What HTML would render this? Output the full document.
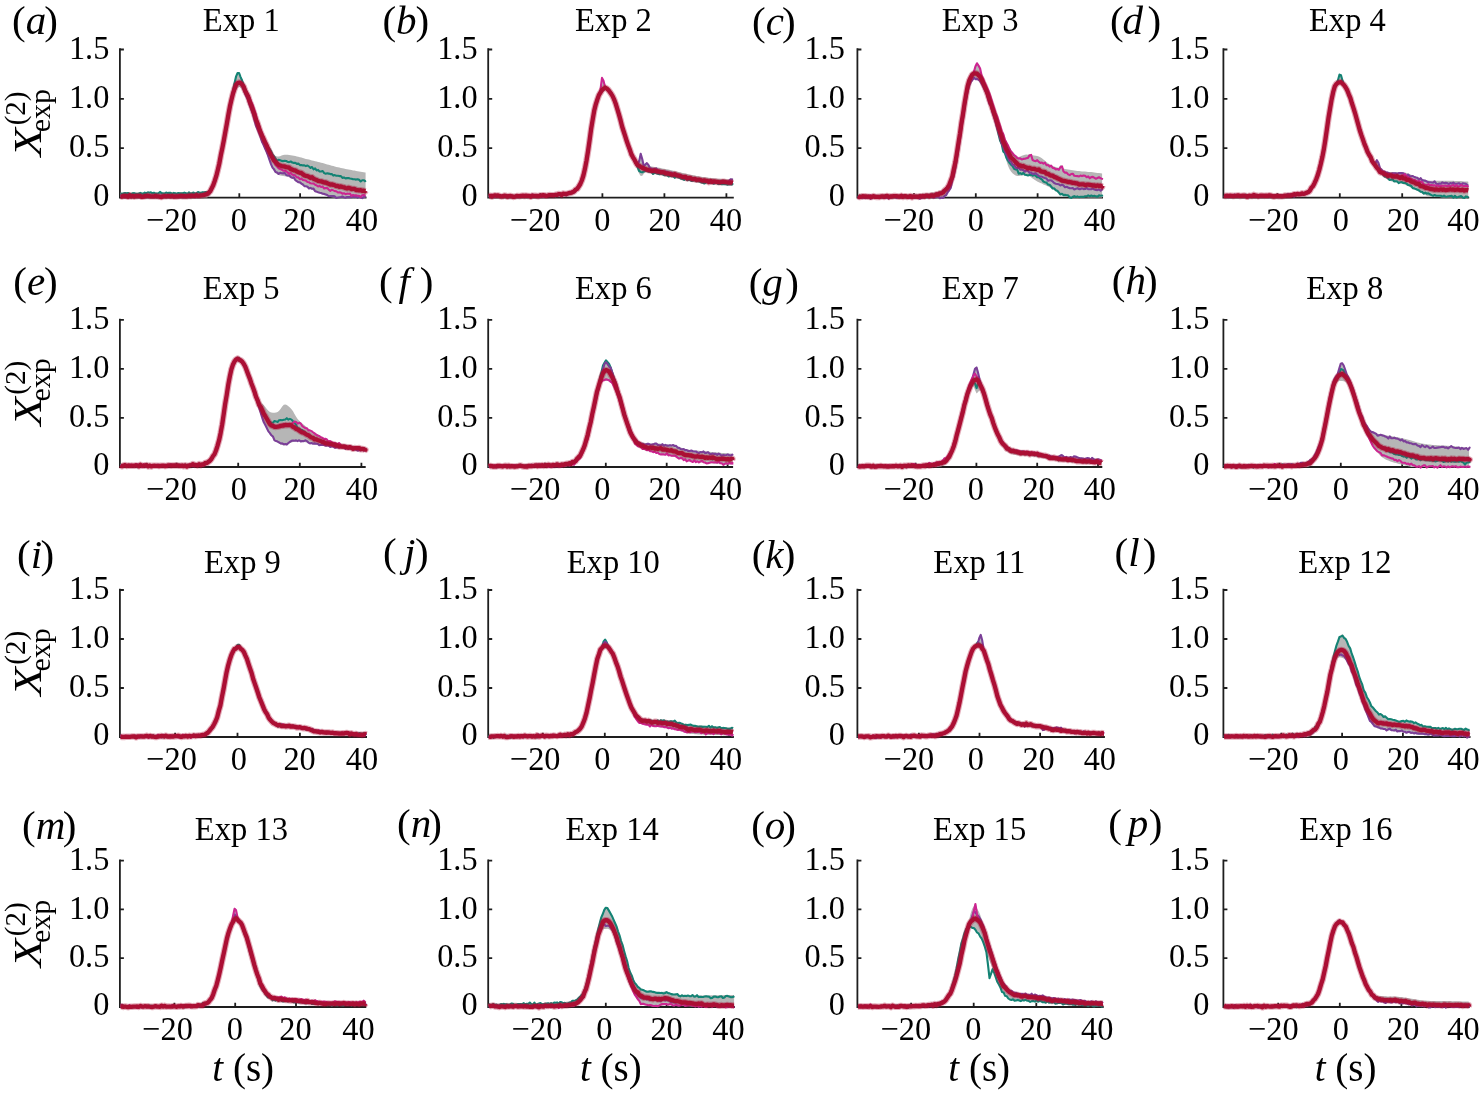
<!DOCTYPE html>
<html><head><meta charset="utf-8"><style>
html,body{margin:0;padding:0;background:#fff;}
svg{display:block;will-change:transform;}
text{font-family:"Liberation Serif", serif; fill:#000;}
.tk{font-size:32px;}
.pl{font-size:41px;}
</style></head><body>
<svg width="1481" height="1093" viewBox="0 0 1481 1093">
<rect width="1481" height="1093" fill="#fff"/>
<path d="M119.9 48.3V197.6H366.5" fill="none" stroke="#1e1e1e" stroke-width="1.8"/>
<path d="M119.9 148.2h4M119.9 98.9h4M119.9 49.5h4M178.5 197.6v-4.3M239.3 197.6v-4.3M300.1 197.6v-4.3M360.9 197.6v-4.3" stroke="#1e1e1e" stroke-width="1.8"/>
<path d="M120.5 192.8L122.0 192.8L123.5 192.8L125.1 192.8L126.6 192.8L128.1 192.8L129.6 192.8L131.1 192.7L132.7 192.7L134.2 192.7L135.7 192.7L137.2 192.7L138.7 192.7L140.3 192.7L141.8 192.7L143.3 192.7L144.8 192.7L146.3 192.7L147.9 192.6L149.4 192.6L150.9 192.6L152.4 192.6L153.9 192.6L155.5 192.6L157.0 192.6L158.5 192.6L160.0 192.6L161.5 192.6L163.1 192.6L164.6 192.6L166.1 192.6L167.6 192.6L169.1 192.6L170.7 192.6L172.2 192.6L173.7 192.6L175.2 192.6L176.7 192.6L178.3 192.6L179.8 192.6L181.3 192.6L182.8 192.5L184.3 192.5L185.9 192.5L187.4 192.5L188.9 192.4L190.4 192.4L191.9 192.3L193.5 192.2L195.0 192.1L196.5 192.1L198.0 192.0L199.5 191.9L201.1 191.7L202.6 191.6L204.1 191.4L205.6 191.3L207.1 191.1L208.7 190.5L210.2 189.2L211.7 186.7L213.2 183.2L214.7 178.8L216.3 173.5L217.8 167.2L219.3 160.0L220.8 152.1L222.3 143.7L223.9 135.0L225.4 126.2L226.9 117.4L228.4 108.4L229.9 99.8L231.5 92.1L233.0 85.8L234.5 81.1L236.0 76.1L237.5 72.5L239.1 72.4L240.6 75.4L242.1 79.3L243.6 82.8L245.1 86.4L246.7 89.8L248.2 93.6L249.7 96.8L251.2 100.1L252.7 104.5L254.3 109.3L255.8 114.3L257.3 119.0L258.8 123.2L260.3 127.1L261.9 130.9L263.4 134.6L264.9 138.1L266.4 141.4L267.9 144.7L269.5 147.6L271.0 150.3L272.5 152.7L274.0 154.7L275.5 156.0L277.1 156.6L278.6 156.6L280.1 156.2L281.6 155.6L283.1 155.1L284.7 154.8L286.2 154.8L287.7 154.8L289.2 155.0L290.7 155.2L292.3 155.4L293.8 155.7L295.3 156.1L296.8 156.4L298.3 156.8L299.9 157.2L301.4 157.6L302.9 158.0L304.4 158.4L305.9 158.9L307.5 159.3L309.0 159.6L310.5 160.0L312.0 160.4L313.5 160.8L315.1 161.2L316.6 161.5L318.1 161.9L319.6 162.3L321.1 162.7L322.7 163.1L324.2 163.5L325.7 164.0L327.2 164.4L328.7 164.8L330.3 165.3L331.8 165.7L333.3 166.1L334.8 166.5L336.3 166.9L337.9 167.2L339.4 167.6L340.9 168.0L342.4 168.3L343.9 168.6L345.5 168.9L347.0 169.2L348.5 169.5L350.0 169.8L351.5 170.1L353.1 170.4L354.6 170.6L356.1 170.9L357.6 171.2L359.1 171.5L360.7 171.8L362.2 172.0L363.7 172.3L365.2 172.5L365.6 172.6L365.6 197.6L365.2 197.6L363.7 197.6L362.2 197.6L360.7 197.6L359.1 197.6L357.6 197.6L356.1 197.6L354.6 197.6L353.1 197.6L351.5 197.6L350.0 197.6L348.5 197.6L347.0 197.6L345.5 197.6L343.9 197.6L342.4 197.6L340.9 197.6L339.4 197.6L337.9 197.6L336.3 197.6L334.8 197.6L333.3 197.6L331.8 197.3L330.3 196.9L328.7 196.4L327.2 196.0L325.7 195.5L324.2 195.0L322.7 194.3L321.1 193.7L319.6 193.1L318.1 192.5L316.6 191.8L315.1 191.1L313.5 190.4L312.0 189.7L310.5 189.1L309.0 188.4L307.5 187.6L305.9 186.9L304.4 186.2L302.9 185.4L301.4 184.6L299.9 183.8L298.3 182.9L296.8 181.9L295.3 180.8L293.8 179.6L292.3 178.5L290.7 177.6L289.2 177.2L287.7 176.8L286.2 176.5L284.7 176.2L283.1 176.0L281.6 175.8L280.1 175.6L278.6 175.1L277.1 174.3L275.5 172.9L274.0 170.9L272.5 168.4L271.0 165.2L269.5 161.2L267.9 157.1L266.4 153.2L264.9 149.5L263.4 145.8L261.9 141.9L260.3 137.9L258.8 133.8L257.3 129.7L255.8 125.3L254.3 120.7L252.7 116.1L251.2 111.7L249.7 107.3L248.2 103.1L246.7 99.2L245.1 95.6L243.6 92.3L242.1 89.5L240.6 87.6L239.1 87.1L237.5 88.0L236.0 90.2L234.5 93.6L233.0 98.1L231.5 103.9L229.9 111.2L228.4 119.3L226.9 127.7L225.4 136.0L223.9 144.1L222.3 152.2L220.8 160.0L219.3 167.3L217.8 174.0L216.3 179.9L214.7 184.9L213.2 189.0L211.7 192.4L210.2 194.9L208.7 196.6L207.1 197.6L205.6 197.6L204.1 197.6L202.6 197.6L201.1 197.6L199.5 197.6L198.0 197.6L196.5 197.6L195.0 197.6L193.5 197.6L191.9 197.6L190.4 197.6L188.9 197.6L187.4 197.6L185.9 197.6L184.3 197.6L182.8 197.6L181.3 197.6L179.8 197.6L178.3 197.6L176.7 197.6L175.2 197.6L173.7 197.6L172.2 197.6L170.7 197.6L169.1 197.6L167.6 197.6L166.1 197.6L164.6 197.6L163.1 197.6L161.5 197.6L160.0 197.6L158.5 197.6L157.0 197.6L155.5 197.6L153.9 197.6L152.4 197.6L150.9 197.6L149.4 197.6L147.9 197.6L146.3 197.6L144.8 197.6L143.3 197.6L141.8 197.6L140.3 197.6L138.7 197.6L137.2 197.6L135.7 197.6L134.2 197.6L132.7 197.6L131.1 197.6L129.6 197.6L128.1 197.6L126.6 197.6L125.1 197.6L123.5 197.6L122.0 197.6L120.5 197.6Z" fill="#b6b6b6"/>
<path d="M120.5 193.6L122.0 193.8L123.5 193.4L125.1 193.1L126.6 193.3L128.1 193.0L129.6 193.6L131.1 194.3L132.7 193.2L134.2 193.1L135.7 193.8L137.2 193.7L138.7 193.5L140.3 192.9L141.8 193.4L143.3 193.9L144.8 192.6L146.3 193.2L147.9 192.3L149.4 192.7L150.9 192.3L152.4 193.3L153.9 192.7L155.5 193.6L157.0 193.5L158.5 193.3L160.0 191.9L161.5 193.1L163.1 193.4L164.6 193.5L166.1 192.5L167.6 193.1L169.1 192.8L170.7 192.9L172.2 194.0L173.7 192.9L175.2 193.3L176.7 193.9L178.3 193.0L179.8 193.3L181.3 193.4L182.8 193.4L184.3 192.6L185.9 193.3L187.4 194.1L188.9 192.3L190.4 193.7L191.9 193.2L193.5 192.6L195.0 194.1L196.5 193.3L198.0 192.0L199.5 192.7L201.1 192.9L202.6 192.2L204.1 192.6L205.6 192.1L207.1 192.3L208.7 192.2L210.2 189.5L211.7 187.7L213.2 184.0L214.7 180.3L216.3 174.6L217.8 169.2L219.3 162.8L220.8 156.1L222.3 148.5L223.9 138.9L225.4 131.1L226.9 123.6L228.4 113.7L229.9 106.4L231.5 98.5L233.0 91.1L234.5 83.3L236.0 76.7L237.5 73.1L239.1 73.0L240.6 77.1L242.1 80.5L243.6 84.9L245.1 88.7L246.7 92.0L248.2 95.9L249.7 99.5L251.2 104.4L252.7 108.6L254.3 113.9L255.8 118.0L257.3 121.9L258.8 126.5L260.3 129.9L261.9 134.5L263.4 137.5L264.9 141.3L266.4 143.3L267.9 147.2L269.5 148.7L271.0 151.1L272.5 154.5L274.0 156.3L275.5 158.6L277.1 161.0L278.6 159.8L280.1 160.2L281.6 160.9L283.1 161.1L284.7 160.8L286.2 161.0L287.7 161.9L289.2 162.1L290.7 161.5L292.3 162.5L293.8 162.9L295.3 162.7L296.8 163.9L298.3 163.6L299.9 165.1L301.4 165.0L302.9 165.4L304.4 165.4L305.9 166.1L307.5 165.5L309.0 166.5L310.5 167.9L312.0 167.0L313.5 169.3L315.1 168.3L316.6 170.4L318.1 169.9L319.6 171.4L321.1 171.5L322.7 171.0L324.2 173.1L325.7 173.7L327.2 173.3L328.7 173.6L330.3 174.1L331.8 174.0L333.3 175.6L334.8 175.1L336.3 175.7L337.9 175.7L339.4 176.1L340.9 176.1L342.4 177.9L343.9 177.4L345.5 178.4L347.0 178.1L348.5 178.0L350.0 178.5L351.5 178.7L353.1 179.3L354.6 179.3L356.1 179.6L357.6 179.2L359.1 179.8L360.7 181.5L362.2 180.3L363.7 180.2L365.2 181.2L365.6 181.9" fill="none" stroke="#138374" stroke-width="2.1" stroke-linejoin="round"/>
<path d="M120.5 195.4L122.0 196.2L123.5 195.9L125.1 195.3L126.6 196.8L128.1 196.3L129.6 196.4L131.1 195.9L132.7 196.6L134.2 196.0L135.7 196.2L137.2 195.7L138.7 195.6L140.3 197.1L141.8 196.0L143.3 196.5L144.8 196.3L146.3 196.1L147.9 196.0L149.4 196.7L150.9 196.1L152.4 196.2L153.9 196.3L155.5 197.0L157.0 196.7L158.5 196.5L160.0 196.0L161.5 195.5L163.1 196.9L164.6 196.9L166.1 196.2L167.6 196.6L169.1 196.8L170.7 196.8L172.2 196.9L173.7 196.0L175.2 197.2L176.7 195.6L178.3 196.8L179.8 196.6L181.3 196.8L182.8 197.4L184.3 197.2L185.9 195.6L187.4 195.2L188.9 196.6L190.4 195.5L191.9 196.0L193.5 196.5L195.0 194.9L196.5 194.5L198.0 195.9L199.5 195.7L201.1 195.3L202.6 195.3L204.1 194.6L205.6 193.8L207.1 194.0L208.7 192.4L210.2 190.2L211.7 188.9L213.2 185.1L214.7 181.2L216.3 175.3L217.8 169.6L219.3 162.7L220.8 155.3L222.3 148.1L223.9 139.4L225.4 131.8L226.9 123.5L228.4 116.1L229.9 105.8L231.5 99.9L233.0 93.4L234.5 88.9L236.0 84.6L237.5 82.9L239.1 83.0L240.6 83.5L242.1 86.0L243.6 89.1L245.1 93.8L246.7 97.2L248.2 100.1L249.7 105.4L251.2 109.3L252.7 113.3L254.3 119.6L255.8 125.3L257.3 128.9L258.8 132.3L260.3 136.4L261.9 141.5L263.4 144.5L264.9 148.0L266.4 151.3L267.9 155.1L269.5 160.0L271.0 164.2L272.5 167.6L274.0 169.2L275.5 172.0L277.1 172.4L278.6 173.9L280.1 172.7L281.6 173.3L283.1 173.4L284.7 172.8L286.2 175.0L287.7 175.5L289.2 175.3L290.7 177.0L292.3 177.9L293.8 177.3L295.3 180.1L296.8 181.1L298.3 182.2L299.9 182.3L301.4 183.6L302.9 184.5L304.4 186.1L305.9 186.3L307.5 186.8L309.0 188.5L310.5 187.9L312.0 188.7L313.5 188.5L315.1 191.3L316.6 191.6L318.1 192.2L319.6 192.7L321.1 193.0L322.7 193.7L324.2 193.9L325.7 194.4L327.2 195.0L328.7 196.3L330.3 196.1L331.8 196.1L333.3 196.1L334.8 196.4L336.3 198.0L337.9 197.5L339.4 197.2L340.9 197.0L342.4 196.5L343.9 197.2L345.5 197.7L347.0 197.0L348.5 197.1L350.0 197.1L351.5 197.3L353.1 196.2L354.6 197.1L356.1 196.7L357.6 197.7L359.1 196.7L360.7 197.6L362.2 198.1L363.7 197.0L365.2 196.8L365.6 197.3" fill="none" stroke="#7b3f98" stroke-width="2.1" stroke-linejoin="round"/>
<path d="M120.5 196.3L122.0 195.7L123.5 196.6L125.1 197.5L126.6 196.2L128.1 196.2L129.6 195.7L131.1 196.5L132.7 195.6L134.2 195.7L135.7 197.1L137.2 195.8L138.7 197.0L140.3 197.2L141.8 196.5L143.3 196.6L144.8 197.5L146.3 196.2L147.9 196.0L149.4 195.5L150.9 196.3L152.4 197.2L153.9 196.9L155.5 195.8L157.0 195.8L158.5 196.0L160.0 196.5L161.5 196.2L163.1 196.4L164.6 196.5L166.1 196.1L167.6 196.3L169.1 196.4L170.7 196.3L172.2 196.6L173.7 197.4L175.2 196.7L176.7 196.4L178.3 195.3L179.8 196.5L181.3 195.1L182.8 195.4L184.3 196.8L185.9 196.7L187.4 196.1L188.9 195.1L190.4 195.9L191.9 195.6L193.5 196.4L195.0 197.3L196.5 195.9L198.0 195.3L199.5 194.9L201.1 195.5L202.6 195.2L204.1 194.4L205.6 194.8L207.1 193.4L208.7 193.6L210.2 191.9L211.7 189.3L213.2 184.9L214.7 181.3L216.3 175.9L217.8 169.8L219.3 163.1L220.8 155.1L222.3 147.1L223.9 140.3L225.4 131.5L226.9 123.4L228.4 115.5L229.9 105.6L231.5 98.9L233.0 93.5L234.5 89.1L236.0 85.2L237.5 83.7L239.1 82.3L240.6 81.9L242.1 83.9L243.6 87.6L245.1 90.6L246.7 92.1L248.2 96.1L249.7 98.0L251.2 101.7L252.7 105.1L254.3 109.9L255.8 114.4L257.3 121.5L258.8 124.5L260.3 130.0L261.9 132.9L263.4 137.5L264.9 140.4L266.4 145.1L267.9 149.7L269.5 152.0L271.0 157.0L272.5 159.8L274.0 161.9L275.5 164.7L277.1 166.6L278.6 168.2L280.1 169.0L281.6 169.6L283.1 170.6L284.7 170.8L286.2 171.3L287.7 172.6L289.2 173.9L290.7 173.1L292.3 174.7L293.8 175.1L295.3 175.6L296.8 177.4L298.3 177.3L299.9 179.2L301.4 178.5L302.9 179.9L304.4 180.2L305.9 180.6L307.5 182.0L309.0 182.2L310.5 183.3L312.0 183.5L313.5 183.5L315.1 184.7L316.6 185.4L318.1 186.5L319.6 185.9L321.1 187.0L322.7 186.6L324.2 188.5L325.7 188.0L327.2 188.1L328.7 189.6L330.3 190.8L331.8 189.7L333.3 190.4L334.8 191.1L336.3 191.2L337.9 192.5L339.4 192.2L340.9 192.6L342.4 193.7L343.9 193.2L345.5 194.2L347.0 193.6L348.5 193.7L350.0 193.6L351.5 196.0L353.1 194.9L354.6 195.4L356.1 195.4L357.6 195.7L359.1 195.8L360.7 197.0L362.2 195.3L363.7 195.0L365.2 195.4L365.6 195.2" fill="none" stroke="#cc2590" stroke-width="2.1" stroke-linejoin="round"/>
<defs><path id="ra" d="M120.5 196.6L122.0 196.6L123.5 196.0L125.1 195.8L126.6 196.2L128.1 196.8L129.6 195.3L131.1 196.5L132.7 195.9L134.2 196.7L135.7 195.9L137.2 196.2L138.7 195.8L140.3 196.0L141.8 196.8L143.3 196.6L144.8 196.2L146.3 196.0L147.9 195.7L149.4 196.2L150.9 196.3L152.4 196.3L153.9 196.3L155.5 195.9L157.0 196.3L158.5 196.3L160.0 196.8L161.5 197.0L163.1 196.3L164.6 196.0L166.1 196.3L167.6 196.1L169.1 196.1L170.7 196.3L172.2 196.0L173.7 196.5L175.2 196.3L176.7 196.4L178.3 196.3L179.8 196.1L181.3 196.0L182.8 196.2L184.3 196.1L185.9 196.3L187.4 196.2L188.9 195.7L190.4 196.1L191.9 195.6L193.5 195.8L195.0 195.8L196.5 195.1L198.0 195.8L199.5 195.7L201.1 195.4L202.6 195.2L204.1 194.9L205.6 194.4L207.1 194.0L208.7 192.8L210.2 191.3L211.7 188.2L213.2 185.3L214.7 181.0L216.3 175.9L217.8 169.9L219.3 163.5L220.8 155.3L222.3 148.2L223.9 140.0L225.4 131.7L226.9 123.4L228.4 114.6L229.9 106.6L231.5 99.6L233.0 93.6L234.5 88.9L236.0 84.9L237.5 83.3L239.1 82.6L240.6 83.0L242.1 84.5L243.6 86.6L245.1 90.7L246.7 93.7L248.2 96.6L249.7 101.7L251.2 105.3L252.7 109.6L254.3 114.2L255.8 119.1L257.3 122.8L258.8 127.2L260.3 131.7L261.9 135.4L263.4 138.5L264.9 141.9L266.4 144.9L267.9 148.4L269.5 152.0L271.0 155.0L272.5 157.6L274.0 160.4L275.5 161.8L277.1 163.6L278.6 164.9L280.1 165.5L281.6 166.1L283.1 166.3L284.7 166.5L286.2 167.2L287.7 167.3L289.2 167.7L290.7 169.1L292.3 169.6L293.8 170.4L295.3 170.4L296.8 171.6L298.3 172.2L299.9 172.8L301.4 173.0L302.9 174.3L304.4 175.4L305.9 175.8L307.5 176.1L309.0 176.9L310.5 177.8L312.0 177.2L313.5 178.7L315.1 179.4L316.6 180.0L318.1 180.9L319.6 181.2L321.1 181.4L322.7 181.9L324.2 182.5L325.7 182.5L327.2 183.2L328.7 183.9L330.3 184.7L331.8 184.4L333.3 184.8L334.8 185.3L336.3 186.1L337.9 186.0L339.4 186.9L340.9 186.4L342.4 187.0L343.9 187.3L345.5 188.0L347.0 188.4L348.5 187.8L350.0 188.3L351.5 189.0L353.1 188.9L354.6 188.9L356.1 190.0L357.6 190.1L359.1 190.3L360.7 190.2L362.2 190.9L363.7 190.7L365.2 191.3L365.6 190.6"/></defs>
<use href="#ra" fill="none" stroke="#ab0f34" stroke-opacity="0.35" stroke-width="6.5" stroke-linejoin="round"/>
<use href="#ra" fill="none" stroke="#ab0f34" stroke-width="4.3" stroke-linejoin="round"/>
<text transform="matrix(0.965 0 0 1 109.3 205.5)" font-size="33.5" text-anchor="end">0</text>
<text transform="matrix(0.965 0 0 1 109.3 157.3)" font-size="33.5" text-anchor="end">0.5</text>
<text transform="matrix(0.965 0 0 1 109.3 108)" font-size="33.5" text-anchor="end">1.0</text>
<text transform="matrix(0.965 0 0 1 109.3 58.6)" font-size="33.5" text-anchor="end">1.5</text>
<text transform="matrix(0.965 0 0 1 171.6 231)" font-size="33.5" text-anchor="middle">−20</text>
<text transform="matrix(0.965 0 0 1 238.7 231)" font-size="33.5" text-anchor="middle">0</text>
<text transform="matrix(0.965 0 0 1 299.6 231)" font-size="33.5" text-anchor="middle">20</text>
<text transform="matrix(0.965 0 0 1 362 231)" font-size="33.5" text-anchor="middle">40</text>
<text transform="matrix(0.95 0 0 1 241.3 30.7)" font-size="34.3" text-anchor="middle">Exp 1</text>
<text x="12" y="34.2" class="pl">(<tspan font-style="italic">a</tspan><tspan dx="-1.9">)</tspan></text>
<path d="M488.2 48.3V197.6H733.8" fill="none" stroke="#1e1e1e" stroke-width="1.8"/>
<path d="M488.2 148.2h4M488.2 98.9h4M488.2 49.5h4M540.4 197.6v-4.3M602.4 197.6v-4.3M664.4 197.6v-4.3M726.4 197.6v-4.3" stroke="#1e1e1e" stroke-width="1.8"/>
<path d="M488.8 194.6L490.4 194.6L491.9 194.6L493.5 194.6L495.0 194.6L496.6 194.6L498.1 194.6L499.7 194.6L501.2 194.6L502.8 194.6L504.3 194.6L505.9 194.5L507.4 194.5L509.0 194.5L510.5 194.5L512.1 194.5L513.6 194.5L515.2 194.5L516.7 194.5L518.3 194.5L519.8 194.5L521.4 194.5L522.9 194.4L524.5 194.4L526.0 194.4L527.6 194.4L529.1 194.4L530.7 194.4L532.2 194.4L533.8 194.4L535.3 194.3L536.9 194.3L538.4 194.3L540.0 194.3L541.5 194.3L543.1 194.2L544.6 194.1L546.2 194.1L547.7 194.0L549.3 193.9L550.8 193.8L552.4 193.6L553.9 193.5L555.5 193.4L557.0 193.3L558.6 193.2L560.1 193.1L561.7 192.9L563.2 192.7L564.8 192.5L566.3 192.3L567.9 192.0L569.4 191.7L571.0 191.2L572.5 190.6L574.1 189.7L575.6 188.6L577.2 187.2L578.7 185.2L580.3 182.5L581.8 178.7L583.4 173.6L584.9 167.1L586.5 159.1L588.0 149.3L589.6 138.2L591.1 127.1L592.7 117.3L594.2 109.1L595.8 102.6L597.3 97.7L598.9 93.9L600.4 88.3L602.0 78.3L603.5 80.2L605.1 85.8L606.6 86.9L608.2 88.0L609.7 89.7L611.3 91.8L612.8 94.7L614.4 98.4L615.9 102.8L617.5 107.6L619.0 112.8L620.6 118.3L622.1 124.0L623.7 129.6L625.2 134.8L626.8 139.7L628.3 144.2L629.9 148.3L631.4 152.0L633.0 155.2L634.5 158.1L636.1 160.3L637.6 161.8L639.2 160.9L640.7 152.2L642.3 158.4L643.8 164.5L645.4 163.6L646.9 162.7L648.5 164.1L650.0 166.1L651.6 166.4L653.1 166.7L654.7 167.0L656.2 167.3L657.8 167.6L659.3 167.8L660.9 168.1L662.4 168.4L664.0 168.7L665.5 169.0L667.1 169.3L668.6 169.6L670.2 170.0L671.7 170.3L673.3 170.7L674.8 171.1L676.4 171.4L677.9 171.8L679.5 172.2L681.0 172.5L682.6 172.9L684.1 173.3L685.7 173.6L687.2 174.0L688.8 174.3L690.3 174.7L691.9 175.0L693.4 175.3L695.0 175.6L696.5 175.9L698.1 176.1L699.6 176.4L701.2 176.7L702.7 176.9L704.3 177.1L705.8 177.3L707.4 177.5L708.9 177.7L710.5 177.9L712.0 178.1L713.6 178.2L715.1 178.4L716.7 178.5L718.2 178.7L719.8 178.8L721.3 178.9L722.9 179.0L724.4 179.1L726.0 179.2L727.5 179.4L729.1 179.5L730.6 178.5L732.2 178.4L732.9 178.5L732.9 185.2L732.2 185.2L730.6 185.1L729.1 185.1L727.5 185.0L726.0 185.0L724.4 184.9L722.9 184.9L721.3 184.8L719.8 184.8L718.2 184.7L716.7 184.6L715.1 184.5L713.6 184.4L712.0 184.3L710.5 184.2L708.9 184.0L707.4 183.9L705.8 183.7L704.3 183.6L702.7 183.4L701.2 183.2L699.6 182.9L698.1 182.7L696.5 182.5L695.0 182.2L693.4 181.9L691.9 181.7L690.3 181.4L688.8 181.0L687.2 180.7L685.7 180.4L684.1 180.0L682.6 179.7L681.0 179.3L679.5 179.0L677.9 178.6L676.4 178.3L674.8 177.9L673.3 177.6L671.7 177.2L670.2 176.9L668.6 176.5L667.1 176.2L665.5 175.9L664.0 175.6L662.4 175.3L660.9 175.0L659.3 174.7L657.8 174.5L656.2 174.2L654.7 173.9L653.1 173.6L651.6 173.3L650.0 173.0L648.5 172.7L646.9 172.3L645.4 172.0L643.8 173.7L642.3 175.8L640.7 175.9L639.2 173.8L637.6 170.5L636.1 166.5L634.5 162.5L633.0 159.2L631.4 155.9L629.9 152.2L628.3 148.0L626.8 143.5L625.2 138.6L623.7 133.4L622.1 127.8L620.6 122.1L619.0 116.6L617.5 111.3L615.9 106.5L614.4 102.0L612.8 98.3L611.3 95.5L609.7 93.3L608.2 91.6L606.6 90.5L605.1 90.1L603.5 90.6L602.0 92.1L600.4 94.4L598.9 97.4L597.3 101.1L595.8 106.1L594.2 112.6L592.7 120.7L591.1 130.5L589.6 141.6L588.0 152.7L586.5 162.4L584.9 170.5L583.4 177.0L581.8 182.1L580.3 185.8L578.7 188.5L577.2 190.5L575.6 191.9L574.1 193.0L572.5 193.8L571.0 194.4L569.4 194.9L567.9 195.2L566.3 195.5L564.8 195.7L563.2 195.9L561.7 196.1L560.1 196.2L558.6 196.3L557.0 196.5L555.5 196.6L553.9 196.7L552.4 196.8L550.8 196.9L549.3 197.0L547.7 197.1L546.2 197.2L544.6 197.2L543.1 197.3L541.5 197.3L540.0 197.4L538.4 197.4L536.9 197.4L535.3 197.4L533.8 197.4L532.2 197.4L530.7 197.4L529.1 197.4L527.6 197.4L526.0 197.4L524.5 197.5L522.9 197.5L521.4 197.5L519.8 197.5L518.3 197.5L516.7 197.5L515.2 197.5L513.6 197.5L512.1 197.5L510.5 197.5L509.0 197.5L507.4 197.5L505.9 197.5L504.3 197.5L502.8 197.5L501.2 197.5L499.7 197.6L498.1 197.6L496.6 197.6L495.0 197.6L493.5 197.6L491.9 197.6L490.4 197.6L488.8 197.6Z" fill="#b6b6b6"/>
<path d="M488.8 195.6L490.4 196.2L491.9 195.7L493.5 196.5L495.0 196.2L496.6 195.5L498.1 196.1L499.7 195.9L501.2 196.6L502.8 195.7L504.3 195.8L505.9 196.8L507.4 197.4L509.0 197.2L510.5 196.1L512.1 196.1L513.6 196.9L515.2 195.9L516.7 195.4L518.3 196.1L519.8 196.2L521.4 195.5L522.9 195.0L524.5 195.1L526.0 196.3L527.6 195.5L529.1 195.8L530.7 196.0L532.2 196.3L533.8 195.7L535.3 196.2L536.9 195.3L538.4 195.6L540.0 195.2L541.5 196.5L543.1 195.7L544.6 195.2L546.2 195.4L547.7 195.4L549.3 195.8L550.8 194.4L552.4 194.6L553.9 194.9L555.5 196.5L557.0 195.5L558.6 194.7L560.1 195.1L561.7 195.7L563.2 194.2L564.8 193.9L566.3 194.7L567.9 193.9L569.4 193.7L571.0 192.5L572.5 193.3L574.1 192.4L575.6 190.6L577.2 189.2L578.7 185.6L580.3 184.6L581.8 180.3L583.4 175.6L584.9 169.2L586.5 160.5L588.0 150.0L589.6 140.1L591.1 128.4L592.7 118.8L594.2 110.5L595.8 104.1L597.3 98.0L598.9 96.4L600.4 92.8L602.0 91.0L603.5 90.1L605.1 88.4L606.6 87.6L608.2 89.3L609.7 90.7L611.3 93.4L612.8 96.6L614.4 99.0L615.9 104.8L617.5 108.6L619.0 114.9L620.6 120.1L622.1 125.7L623.7 131.4L625.2 136.4L626.8 141.2L628.3 145.1L629.9 150.2L631.4 155.0L633.0 158.4L634.5 161.2L636.1 164.4L637.6 167.0L639.2 171.0L640.7 171.9L642.3 172.3L643.8 171.4L645.4 171.0L646.9 171.0L648.5 171.6L650.0 171.4L651.6 172.1L653.1 174.0L654.7 172.9L656.2 173.0L657.8 173.8L659.3 174.2L660.9 173.4L662.4 174.2L664.0 175.1L665.5 175.0L667.1 175.3L668.6 176.5L670.2 175.5L671.7 176.3L673.3 176.3L674.8 177.8L676.4 176.1L677.9 177.2L679.5 177.7L681.0 178.7L682.6 179.0L684.1 179.9L685.7 178.4L687.2 180.2L688.8 179.9L690.3 180.0L691.9 181.0L693.4 180.4L695.0 180.0L696.5 181.3L698.1 180.8L699.6 181.6L701.2 182.4L702.7 182.6L704.3 183.5L705.8 182.6L707.4 182.0L708.9 182.6L710.5 182.6L712.0 182.6L713.6 183.7L715.1 183.1L716.7 182.4L718.2 184.1L719.8 183.7L721.3 184.1L722.9 184.0L724.4 184.3L726.0 184.0L727.5 184.8L729.1 184.3L730.6 184.4L732.2 184.4L732.9 183.3" fill="none" stroke="#138374" stroke-width="2.1" stroke-linejoin="round"/>
<path d="M488.8 196.0L490.4 195.9L491.9 196.2L493.5 195.3L495.0 197.1L496.6 196.1L498.1 195.3L499.7 195.0L501.2 195.9L502.8 196.0L504.3 195.6L505.9 196.1L507.4 195.7L509.0 196.4L510.5 195.6L512.1 196.0L513.6 196.6L515.2 197.5L516.7 195.4L518.3 195.7L519.8 195.5L521.4 196.4L522.9 195.3L524.5 195.7L526.0 195.9L527.6 195.3L529.1 195.3L530.7 195.6L532.2 194.6L533.8 195.0L535.3 195.6L536.9 195.9L538.4 195.7L540.0 194.8L541.5 195.5L543.1 196.2L544.6 196.0L546.2 195.6L547.7 195.0L549.3 195.8L550.8 195.0L552.4 194.5L553.9 194.6L555.5 195.9L557.0 195.0L558.6 195.5L560.1 194.4L561.7 195.1L563.2 194.0L564.8 194.1L566.3 195.4L567.9 194.1L569.4 193.0L571.0 192.7L572.5 192.4L574.1 192.1L575.6 190.0L577.2 187.8L578.7 186.7L580.3 184.2L581.8 180.5L583.4 176.1L584.9 169.0L586.5 161.2L588.0 150.3L589.6 140.4L591.1 130.1L592.7 119.5L594.2 111.0L595.8 104.4L597.3 100.5L598.9 95.1L600.4 92.6L602.0 90.6L603.5 89.3L605.1 88.1L606.6 88.9L608.2 89.6L609.7 91.5L611.3 93.6L612.8 95.8L614.4 100.2L615.9 105.1L617.5 108.9L619.0 114.6L620.6 120.6L622.1 125.2L623.7 131.6L625.2 136.1L626.8 142.3L628.3 147.5L629.9 151.5L631.4 153.8L633.0 157.7L634.5 160.2L636.1 162.7L637.6 165.5L639.2 160.9L640.7 153.7L642.3 159.2L643.8 166.2L645.4 164.5L646.9 163.1L648.5 165.1L650.0 168.3L651.6 168.5L653.1 169.1L654.7 168.9L656.2 168.4L657.8 170.5L659.3 170.8L660.9 170.8L662.4 171.1L664.0 172.1L665.5 171.6L667.1 171.8L668.6 172.5L670.2 173.7L671.7 172.6L673.3 174.6L674.8 173.9L676.4 174.0L677.9 175.8L679.5 175.4L681.0 175.1L682.6 176.0L684.1 177.2L685.7 177.8L687.2 177.2L688.8 178.0L690.3 178.6L691.9 178.1L693.4 179.0L695.0 179.0L696.5 179.0L698.1 179.3L699.6 179.9L701.2 180.1L702.7 180.0L704.3 180.3L705.8 181.4L707.4 181.0L708.9 181.6L710.5 181.9L712.0 181.7L713.6 182.8L715.1 181.0L716.7 182.1L718.2 181.5L719.8 182.9L721.3 182.9L722.9 180.8L724.4 181.4L726.0 182.4L727.5 182.1L729.1 180.7L730.6 179.2L732.2 179.5L732.9 179.7" fill="none" stroke="#7b3f98" stroke-width="2.1" stroke-linejoin="round"/>
<path d="M488.8 196.0L490.4 196.7L491.9 194.7L493.5 196.5L495.0 195.5L496.6 196.6L498.1 195.9L499.7 195.5L501.2 196.3L502.8 195.5L504.3 195.5L505.9 195.1L507.4 196.0L509.0 196.3L510.5 196.6L512.1 195.9L513.6 196.6L515.2 196.0L516.7 195.9L518.3 196.3L519.8 196.6L521.4 195.8L522.9 195.8L524.5 195.8L526.0 196.0L527.6 195.4L529.1 196.5L530.7 195.7L532.2 196.2L533.8 195.4L535.3 196.1L536.9 196.1L538.4 195.6L540.0 197.0L541.5 196.0L543.1 196.8L544.6 196.3L546.2 195.2L547.7 195.3L549.3 195.7L550.8 195.3L552.4 195.2L553.9 194.9L555.5 193.9L557.0 194.7L558.6 193.4L560.1 194.9L561.7 194.1L563.2 193.9L564.8 194.0L566.3 194.1L567.9 192.8L569.4 192.2L571.0 192.2L572.5 191.0L574.1 190.8L575.6 191.2L577.2 188.2L578.7 187.2L580.3 183.3L581.8 180.6L583.4 175.1L584.9 168.7L586.5 161.1L588.0 152.0L589.6 140.0L591.1 128.9L592.7 118.4L594.2 111.2L595.8 104.2L597.3 99.9L598.9 95.6L600.4 90.1L602.0 77.9L603.5 80.8L605.1 87.1L606.6 87.9L608.2 89.3L609.7 91.3L611.3 92.8L612.8 96.6L614.4 101.7L615.9 105.3L617.5 108.8L619.0 114.2L620.6 120.0L622.1 126.5L623.7 131.0L625.2 136.3L626.8 142.1L628.3 146.6L629.9 150.0L631.4 153.3L633.0 156.3L634.5 159.7L636.1 161.3L637.6 165.1L639.2 165.7L640.7 167.3L642.3 168.9L643.8 169.1L645.4 168.2L646.9 169.8L648.5 170.4L650.0 169.6L651.6 169.8L653.1 170.6L654.7 170.0L656.2 172.1L657.8 170.1L659.3 171.1L660.9 171.9L662.4 172.2L664.0 172.7L665.5 173.1L667.1 173.1L668.6 174.2L670.2 172.6L671.7 174.2L673.3 174.2L674.8 175.0L676.4 175.4L677.9 175.1L679.5 175.6L681.0 176.8L682.6 176.9L684.1 176.7L685.7 178.6L687.2 179.1L688.8 177.2L690.3 178.6L691.9 180.2L693.4 179.4L695.0 179.4L696.5 179.4L698.1 179.4L699.6 179.9L701.2 179.9L702.7 180.9L704.3 180.4L705.8 180.5L707.4 180.2L708.9 181.0L710.5 180.7L712.0 181.2L713.6 182.1L715.1 181.8L716.7 181.9L718.2 181.9L719.8 181.8L721.3 181.8L722.9 181.7L724.4 182.4L726.0 181.4L727.5 182.9L729.1 182.1L730.6 181.7L732.2 181.9L732.9 181.8" fill="none" stroke="#cc2590" stroke-width="2.1" stroke-linejoin="round"/>
<defs><path id="rb" d="M488.8 196.1L490.4 195.8L491.9 196.5L493.5 195.8L495.0 195.3L496.6 195.8L498.1 195.4L499.7 196.1L501.2 196.4L502.8 196.3L504.3 195.6L505.9 195.8L507.4 196.7L509.0 196.1L510.5 196.0L512.1 196.4L513.6 196.9L515.2 196.5L516.7 196.0L518.3 196.1L519.8 196.2L521.4 195.8L522.9 195.6L524.5 196.0L526.0 195.6L527.6 195.9L529.1 195.9L530.7 196.7L532.2 195.6L533.8 195.8L535.3 195.8L536.9 196.0L538.4 196.2L540.0 195.6L541.5 195.5L543.1 195.2L544.6 195.4L546.2 195.8L547.7 195.5L549.3 195.1L550.8 195.2L552.4 195.2L553.9 195.3L555.5 194.8L557.0 194.8L558.6 194.1L560.1 194.2L561.7 195.1L563.2 193.6L564.8 194.0L566.3 194.0L567.9 193.5L569.4 193.0L571.0 192.8L572.5 192.2L574.1 191.3L575.6 189.6L577.2 188.8L578.7 186.6L580.3 184.0L581.8 180.5L583.4 175.5L584.9 169.1L586.5 160.6L588.0 151.3L589.6 140.3L591.1 129.2L592.7 119.5L594.2 110.8L595.8 104.3L597.3 99.7L598.9 95.1L600.4 92.7L602.0 90.1L603.5 88.7L605.1 87.7L606.6 88.4L608.2 89.8L609.7 91.8L611.3 94.0L612.8 96.5L614.4 100.1L615.9 104.3L617.5 109.6L619.0 114.6L620.6 120.4L622.1 126.5L623.7 131.5L625.2 136.2L626.8 141.3L628.3 145.6L629.9 149.8L631.4 154.4L633.0 157.3L634.5 159.6L636.1 162.9L637.6 165.1L639.2 165.9L640.7 166.8L642.3 167.7L643.8 168.5L645.4 169.1L646.9 169.7L648.5 170.1L650.0 170.4L651.6 170.8L653.1 170.9L654.7 170.4L656.2 171.2L657.8 171.6L659.3 171.6L660.9 172.4L662.4 172.2L664.0 172.3L665.5 173.4L667.1 173.5L668.6 173.6L670.2 174.2L671.7 174.6L673.3 174.7L674.8 174.1L676.4 175.1L677.9 175.5L679.5 175.7L681.0 176.4L682.6 177.1L684.1 176.9L685.7 177.0L687.2 178.5L688.8 177.9L690.3 178.0L691.9 178.8L693.4 179.1L695.0 179.0L696.5 179.8L698.1 179.6L699.6 179.7L701.2 180.3L702.7 180.7L704.3 180.4L705.8 180.9L707.4 180.9L708.9 182.1L710.5 181.0L712.0 181.8L713.6 181.4L715.1 181.5L716.7 181.9L718.2 182.0L719.8 182.3L721.3 182.0L722.9 181.7L724.4 181.8L726.0 182.2L727.5 182.3L729.1 182.6L730.6 182.3L732.2 182.6L732.9 182.8"/></defs>
<use href="#rb" fill="none" stroke="#ab0f34" stroke-opacity="0.35" stroke-width="6.5" stroke-linejoin="round"/>
<use href="#rb" fill="none" stroke="#ab0f34" stroke-width="4.3" stroke-linejoin="round"/>
<text transform="matrix(0.965 0 0 1 477.6 205.5)" font-size="33.5" text-anchor="end">0</text>
<text transform="matrix(0.965 0 0 1 477.6 157.3)" font-size="33.5" text-anchor="end">0.5</text>
<text transform="matrix(0.965 0 0 1 477.6 108)" font-size="33.5" text-anchor="end">1.0</text>
<text transform="matrix(0.965 0 0 1 477.6 58.6)" font-size="33.5" text-anchor="end">1.5</text>
<text transform="matrix(0.965 0 0 1 535.2 231)" font-size="33.5" text-anchor="middle">−20</text>
<text transform="matrix(0.965 0 0 1 602.3 231)" font-size="33.5" text-anchor="middle">0</text>
<text transform="matrix(0.965 0 0 1 664.6 231)" font-size="33.5" text-anchor="middle">20</text>
<text transform="matrix(0.965 0 0 1 726 231)" font-size="33.5" text-anchor="middle">40</text>
<text transform="matrix(0.95 0 0 1 613.4 30.7)" font-size="34.3" text-anchor="middle">Exp 2</text>
<text x="382.4" y="33.9" class="pl">(<tspan font-style="italic">b</tspan><tspan dx="-1">)</tspan></text>
<path d="M857.4 48.3V197.6H1103" fill="none" stroke="#1e1e1e" stroke-width="1.8"/>
<path d="M857.4 148.2h4M857.4 98.9h4M857.4 49.5h4M914 197.6v-4.3M975.8 197.6v-4.3M1037.6 197.6v-4.3M1099.4 197.6v-4.3" stroke="#1e1e1e" stroke-width="1.8"/>
<path d="M858.0 194.8L859.6 194.8L861.1 194.7L862.7 194.7L864.2 194.7L865.7 194.7L867.3 194.6L868.8 194.6L870.4 194.6L871.9 194.6L873.5 194.6L875.0 194.5L876.6 194.5L878.1 194.5L879.6 194.5L881.2 194.4L882.7 194.4L884.3 194.4L885.8 194.4L887.4 194.4L888.9 194.4L890.5 194.3L892.0 194.3L893.6 194.3L895.1 194.3L896.6 194.3L898.2 194.2L899.7 194.2L901.3 194.2L902.8 194.2L904.4 194.2L905.9 194.2L907.5 194.1L909.0 194.1L910.5 194.1L912.1 194.1L913.6 194.0L915.2 194.0L916.7 193.9L918.3 193.9L919.8 193.8L921.4 193.7L922.9 193.6L924.5 193.4L926.0 193.3L927.5 193.2L929.1 193.0L930.6 192.8L932.2 192.6L933.7 192.4L935.3 192.2L936.8 191.9L938.4 191.5L939.9 191.0L941.4 190.2L943.0 189.3L944.5 188.1L946.1 186.7L947.6 184.8L949.2 182.2L950.7 178.5L952.3 173.7L953.8 167.4L955.4 159.6L956.9 150.5L958.4 140.7L960.0 130.6L961.5 120.4L963.1 110.3L964.6 100.5L966.2 91.4L967.7 83.6L969.3 77.9L970.8 74.3L972.3 72.0L973.9 70.6L975.4 65.9L977.0 62.8L978.5 64.7L980.1 69.1L981.6 74.3L983.2 79.0L984.7 82.4L986.3 85.7L987.8 89.3L989.3 93.2L990.9 97.6L992.4 102.1L994.0 106.8L995.5 111.5L997.1 116.2L998.6 121.1L1000.2 125.8L1001.7 130.3L1003.2 134.5L1004.8 138.4L1006.3 141.9L1007.9 144.9L1009.4 147.6L1011.0 149.9L1012.5 152.0L1014.1 153.8L1015.6 155.2L1017.2 156.3L1018.7 157.0L1020.2 156.5L1021.8 155.8L1023.3 155.3L1024.9 154.8L1026.4 154.6L1028.0 154.7L1029.5 154.1L1031.1 154.9L1032.6 155.3L1034.1 155.5L1035.7 155.8L1037.2 156.1L1038.8 156.6L1040.3 157.3L1041.9 158.3L1043.4 159.4L1045.0 160.7L1046.5 161.9L1048.1 163.2L1049.6 164.3L1051.1 165.2L1052.7 166.0L1054.2 166.6L1055.8 167.1L1057.3 167.5L1058.9 167.8L1060.4 165.1L1062.0 166.0L1063.5 168.6L1065.0 168.9L1066.6 169.2L1068.1 169.5L1069.7 169.8L1071.2 170.1L1072.8 170.3L1074.3 170.5L1075.9 170.7L1077.4 170.9L1079.0 171.1L1080.5 171.2L1082.0 171.4L1083.6 171.5L1085.1 171.6L1086.7 171.8L1088.2 171.9L1089.8 172.0L1091.3 172.1L1092.9 172.3L1094.4 172.5L1095.9 172.7L1097.5 172.9L1099.0 173.1L1100.6 173.2L1102.1 173.4L1102.1 173.4L1102.1 197.6L1102.1 197.6L1100.6 197.6L1099.0 197.6L1097.5 197.6L1095.9 197.6L1094.4 197.6L1092.9 197.6L1091.3 197.6L1089.8 197.5L1088.2 197.4L1086.7 197.3L1085.1 197.3L1083.6 197.4L1082.0 197.4L1080.5 197.4L1079.0 197.4L1077.4 197.4L1075.9 197.4L1074.3 197.4L1072.8 197.3L1071.2 197.2L1069.7 197.1L1068.1 196.9L1066.6 196.7L1065.0 196.3L1063.5 195.8L1062.0 195.1L1060.4 194.3L1058.9 193.3L1057.3 192.3L1055.8 191.1L1054.2 189.9L1052.7 188.7L1051.1 188.0L1049.6 187.2L1048.1 186.5L1046.5 185.8L1045.0 185.1L1043.4 184.4L1041.9 183.6L1040.3 182.9L1038.8 182.3L1037.2 181.6L1035.7 180.6L1034.1 179.5L1032.6 178.4L1031.1 177.2L1029.5 176.3L1028.0 175.6L1026.4 175.2L1024.9 175.1L1023.3 175.2L1021.8 175.5L1020.2 175.8L1018.7 175.9L1017.2 175.9L1015.6 175.4L1014.1 174.6L1012.5 173.3L1011.0 171.5L1009.4 169.1L1007.9 165.4L1006.3 160.4L1004.8 154.7L1003.2 150.6L1001.7 146.1L1000.2 140.8L998.6 134.9L997.1 128.8L995.5 123.2L994.0 118.3L992.4 113.4L990.9 108.7L989.3 104.0L987.8 99.5L986.3 95.2L984.7 91.2L983.2 87.5L981.6 84.5L980.1 82.1L978.5 80.1L977.0 79.0L975.4 78.6L973.9 79.2L972.3 80.7L970.8 82.9L969.3 86.6L967.7 92.2L966.2 100.0L964.6 109.1L963.1 118.9L961.5 129.0L960.0 139.2L958.4 149.3L956.9 159.1L955.4 168.2L953.8 175.9L952.3 182.2L950.7 187.0L949.2 190.7L947.6 193.3L946.1 195.1L944.5 196.6L943.0 197.6L941.4 197.6L939.9 197.6L938.4 197.6L936.8 197.6L935.3 197.6L933.7 197.6L932.2 197.6L930.6 197.6L929.1 197.6L927.5 197.6L926.0 197.6L924.5 197.6L922.9 197.6L921.4 197.6L919.8 197.6L918.3 197.6L916.7 197.6L915.2 197.6L913.6 197.6L912.1 197.6L910.5 197.6L909.0 197.6L907.5 197.6L905.9 197.6L904.4 197.6L902.8 197.6L901.3 197.6L899.7 197.6L898.2 197.6L896.6 197.6L895.1 197.6L893.6 197.6L892.0 197.6L890.5 197.6L888.9 197.6L887.4 197.6L885.8 197.6L884.3 197.6L882.7 197.6L881.2 197.6L879.6 197.6L878.1 197.6L876.6 197.6L875.0 197.6L873.5 197.6L871.9 197.6L870.4 197.6L868.8 197.6L867.3 197.6L865.7 197.6L864.2 197.6L862.7 197.6L861.1 197.6L859.6 197.6L858.0 197.6Z" fill="#b6b6b6"/>
<path d="M858.0 196.7L859.6 195.7L861.1 195.9L862.7 195.8L864.2 197.6L865.7 196.1L867.3 197.4L868.8 197.0L870.4 197.6L871.9 197.2L873.5 196.6L875.0 196.5L876.6 196.7L878.1 196.7L879.6 196.3L881.2 196.6L882.7 197.6L884.3 195.6L885.8 196.8L887.4 196.1L888.9 196.7L890.5 197.1L892.0 196.6L893.6 197.1L895.1 195.7L896.6 197.3L898.2 196.3L899.7 197.0L901.3 196.7L902.8 195.1L904.4 196.2L905.9 196.7L907.5 197.5L909.0 196.8L910.5 196.8L912.1 195.8L913.6 197.4L915.2 197.6L916.7 196.5L918.3 196.3L919.8 195.4L921.4 196.8L922.9 197.8L924.5 196.5L926.0 196.7L927.5 196.1L929.1 195.1L930.6 196.3L932.2 194.6L933.7 195.0L935.3 195.1L936.8 195.2L938.4 194.5L939.9 194.0L941.4 192.5L943.0 191.3L944.5 190.9L946.1 189.0L947.6 186.8L949.2 184.2L950.7 181.1L952.3 175.4L953.8 169.4L955.4 161.5L956.9 153.5L958.4 143.8L960.0 134.7L961.5 122.4L963.1 112.8L964.6 104.0L966.2 94.1L967.7 86.3L969.3 81.9L970.8 77.0L972.3 74.2L973.9 72.7L975.4 73.1L977.0 73.5L978.5 73.8L980.1 76.3L981.6 80.0L983.2 83.1L984.7 85.9L986.3 90.6L987.8 94.8L989.3 98.0L990.9 104.0L992.4 110.0L994.0 115.4L995.5 120.6L997.1 127.9L998.6 134.6L1000.2 140.9L1001.7 144.0L1003.2 151.4L1004.8 152.9L1006.3 157.4L1007.9 160.5L1009.4 162.8L1011.0 164.6L1012.5 165.9L1014.1 168.8L1015.6 169.5L1017.2 169.6L1018.7 173.7L1020.2 173.1L1021.8 174.2L1023.3 172.9L1024.9 174.7L1026.4 175.1L1028.0 175.5L1029.5 174.9L1031.1 174.7L1032.6 175.7L1034.1 174.9L1035.7 175.7L1037.2 177.3L1038.8 177.2L1040.3 178.5L1041.9 179.4L1043.4 181.6L1045.0 182.3L1046.5 182.6L1048.1 184.6L1049.6 184.8L1051.1 186.5L1052.7 188.5L1054.2 188.4L1055.8 190.2L1057.3 190.7L1058.9 192.6L1060.4 194.5L1062.0 193.8L1063.5 195.1L1065.0 194.9L1066.6 195.2L1068.1 195.4L1069.7 197.2L1071.2 197.9L1072.8 196.8L1074.3 196.1L1075.9 197.0L1077.4 196.4L1079.0 197.1L1080.5 196.8L1082.0 196.8L1083.6 196.9L1085.1 196.2L1086.7 196.3L1088.2 195.4L1089.8 196.2L1091.3 195.5L1092.9 196.3L1094.4 195.8L1095.9 196.4L1097.5 196.6L1099.0 195.4L1100.6 195.7L1102.1 195.5L1102.1 196.6" fill="none" stroke="#138374" stroke-width="2.1" stroke-linejoin="round"/>
<path d="M858.0 198.2L859.6 197.7L861.1 197.0L862.7 198.1L864.2 196.3L865.7 198.1L867.3 196.8L868.8 195.5L870.4 198.8L871.9 198.2L873.5 196.6L875.0 197.3L876.6 197.1L878.1 197.3L879.6 196.3L881.2 196.8L882.7 197.5L884.3 197.3L885.8 197.9L887.4 197.3L888.9 198.6L890.5 196.8L892.0 197.4L893.6 196.1L895.1 196.5L896.6 198.0L898.2 196.6L899.7 197.5L901.3 197.2L902.8 196.6L904.4 197.0L905.9 196.9L907.5 196.9L909.0 197.7L910.5 197.6L912.1 196.9L913.6 196.7L915.2 197.4L916.7 197.1L918.3 197.8L919.8 198.8L921.4 197.7L922.9 197.2L924.5 197.1L926.0 196.7L927.5 196.7L929.1 196.6L930.6 197.0L932.2 196.9L933.7 197.7L935.3 197.0L936.8 197.1L938.4 196.5L939.9 198.2L941.4 197.5L943.0 198.0L944.5 196.2L946.1 195.2L947.6 192.4L949.2 190.3L950.7 187.9L952.3 180.7L953.8 175.9L955.4 168.4L956.9 158.5L958.4 149.0L960.0 139.2L961.5 127.8L963.1 118.4L964.6 107.8L966.2 98.8L967.7 91.0L969.3 85.7L970.8 82.2L972.3 80.1L973.9 77.6L975.4 79.1L977.0 78.9L978.5 79.8L980.1 81.1L981.6 83.6L983.2 86.8L984.7 89.9L986.3 92.3L987.8 97.9L989.3 103.7L990.9 105.5L992.4 112.2L994.0 117.0L995.5 121.9L997.1 128.1L998.6 131.8L1000.2 137.8L1001.7 143.4L1003.2 146.7L1004.8 150.5L1006.3 154.3L1007.9 157.0L1009.4 160.9L1011.0 161.6L1012.5 164.7L1014.1 165.1L1015.6 167.7L1017.2 168.3L1018.7 167.6L1020.2 169.7L1021.8 169.5L1023.3 170.2L1024.9 171.8L1026.4 170.5L1028.0 170.9L1029.5 172.9L1031.1 172.5L1032.6 173.9L1034.1 173.6L1035.7 173.4L1037.2 174.5L1038.8 176.0L1040.3 176.5L1041.9 176.6L1043.4 177.4L1045.0 178.0L1046.5 178.5L1048.1 180.8L1049.6 180.3L1051.1 180.3L1052.7 181.5L1054.2 183.0L1055.8 183.7L1057.3 184.0L1058.9 184.3L1060.4 185.4L1062.0 184.8L1063.5 185.5L1065.0 187.2L1066.6 186.7L1068.1 187.5L1069.7 188.3L1071.2 188.2L1072.8 188.0L1074.3 189.5L1075.9 188.8L1077.4 188.3L1079.0 189.1L1080.5 189.1L1082.0 188.4L1083.6 189.1L1085.1 189.0L1086.7 188.0L1088.2 189.2L1089.8 189.2L1091.3 189.2L1092.9 188.6L1094.4 189.5L1095.9 189.9L1097.5 190.1L1099.0 189.5L1100.6 190.7L1102.1 189.6L1102.1 190.3" fill="none" stroke="#7b3f98" stroke-width="2.1" stroke-linejoin="round"/>
<path d="M858.0 197.4L859.6 196.2L861.1 196.3L862.7 197.3L864.2 196.4L865.7 196.4L867.3 196.7L868.8 197.3L870.4 195.3L871.9 196.1L873.5 196.0L875.0 195.9L876.6 196.1L878.1 196.1L879.6 196.8L881.2 196.1L882.7 196.7L884.3 196.9L885.8 196.2L887.4 196.7L888.9 197.6L890.5 196.8L892.0 196.2L893.6 196.6L895.1 196.1L896.6 196.8L898.2 197.1L899.7 196.1L901.3 196.5L902.8 197.3L904.4 196.3L905.9 196.7L907.5 196.0L909.0 196.1L910.5 196.3L912.1 197.9L913.6 196.3L915.2 196.2L916.7 196.2L918.3 196.3L919.8 196.8L921.4 196.4L922.9 197.4L924.5 196.2L926.0 196.8L927.5 196.0L929.1 196.0L930.6 194.6L932.2 195.2L933.7 195.1L935.3 194.7L936.8 193.3L938.4 194.8L939.9 193.5L941.4 192.7L943.0 191.9L944.5 190.8L946.1 189.7L947.6 186.8L949.2 184.4L950.7 181.5L952.3 176.6L953.8 170.0L955.4 162.1L956.9 152.9L958.4 143.5L960.0 134.2L961.5 122.6L963.1 114.1L964.6 103.9L966.2 94.0L967.7 87.0L969.3 80.0L970.8 76.2L972.3 74.2L973.9 71.7L975.4 66.5L977.0 63.3L978.5 65.5L980.1 68.6L981.6 75.4L983.2 78.9L984.7 82.8L986.3 86.3L987.8 89.4L989.3 93.2L990.9 97.8L992.4 102.9L994.0 107.9L995.5 112.6L997.1 116.4L998.6 121.4L1000.2 126.0L1001.7 131.4L1003.2 134.1L1004.8 139.9L1006.3 142.4L1007.9 145.3L1009.4 148.6L1011.0 151.4L1012.5 153.0L1014.1 155.2L1015.6 156.1L1017.2 157.9L1018.7 158.6L1020.2 158.3L1021.8 159.5L1023.3 158.9L1024.9 158.8L1026.4 158.2L1028.0 157.9L1029.5 155.4L1031.1 154.9L1032.6 160.0L1034.1 160.7L1035.7 161.2L1037.2 160.2L1038.8 161.9L1040.3 162.9L1041.9 162.5L1043.4 163.6L1045.0 162.7L1046.5 165.2L1048.1 165.0L1049.6 166.6L1051.1 165.6L1052.7 167.9L1054.2 168.1L1055.8 169.4L1057.3 169.0L1058.9 169.8L1060.4 167.2L1062.0 166.3L1063.5 171.5L1065.0 172.6L1066.6 172.6L1068.1 174.4L1069.7 175.1L1071.2 174.0L1072.8 173.7L1074.3 175.8L1075.9 176.0L1077.4 176.1L1079.0 176.5L1080.5 175.5L1082.0 176.1L1083.6 175.5L1085.1 175.7L1086.7 177.2L1088.2 176.4L1089.8 178.3L1091.3 177.1L1092.9 176.9L1094.4 177.9L1095.9 178.7L1097.5 178.0L1099.0 177.2L1100.6 178.3L1102.1 178.9L1102.1 177.9" fill="none" stroke="#cc2590" stroke-width="2.1" stroke-linejoin="round"/>
<defs><path id="rc" d="M858.0 196.3L859.6 197.0L861.1 196.7L862.7 196.2L864.2 196.5L865.7 196.3L867.3 196.7L868.8 196.7L870.4 197.0L871.9 196.9L873.5 196.1L875.0 196.8L876.6 196.9L878.1 196.8L879.6 197.0L881.2 196.4L882.7 196.3L884.3 196.9L885.8 196.2L887.4 195.9L888.9 197.0L890.5 196.4L892.0 196.5L893.6 196.1L895.1 196.1L896.6 196.2L898.2 196.5L899.7 196.7L901.3 195.8L902.8 196.9L904.4 196.2L905.9 196.2L907.5 196.9L909.0 196.6L910.5 196.1L912.1 197.2L913.6 196.3L915.2 196.6L916.7 196.6L918.3 196.9L919.8 196.2L921.4 196.6L922.9 195.9L924.5 196.5L926.0 195.7L927.5 195.7L929.1 196.3L930.6 195.6L932.2 195.3L933.7 195.9L935.3 195.0L936.8 194.3L938.4 194.5L939.9 193.3L941.4 193.4L943.0 192.5L944.5 190.7L946.1 189.2L947.6 187.7L949.2 185.0L950.7 181.0L952.3 176.7L953.8 169.5L955.4 162.3L956.9 153.2L958.4 143.5L960.0 133.6L961.5 122.8L963.1 113.4L964.6 103.3L966.2 94.0L967.7 86.0L969.3 80.4L970.8 77.3L972.3 74.6L973.9 73.5L975.4 73.3L977.0 73.6L978.5 75.2L980.1 76.8L981.6 79.3L983.2 83.1L984.7 86.4L986.3 90.6L987.8 94.5L989.3 99.3L990.9 103.7L992.4 108.3L994.0 113.0L995.5 117.7L997.1 122.5L998.6 127.4L1000.2 132.4L1001.7 136.5L1003.2 141.5L1004.8 144.8L1006.3 148.7L1007.9 151.5L1009.4 154.2L1011.0 157.5L1012.5 158.8L1014.1 160.3L1015.6 162.1L1017.2 163.6L1018.7 165.4L1020.2 165.4L1021.8 166.3L1023.3 166.0L1024.9 167.0L1026.4 167.5L1028.0 168.3L1029.5 167.8L1031.1 168.6L1032.6 168.9L1034.1 168.8L1035.7 169.5L1037.2 169.8L1038.8 169.5L1040.3 171.1L1041.9 171.6L1043.4 171.8L1045.0 172.1L1046.5 173.7L1048.1 173.9L1049.6 174.8L1051.1 175.6L1052.7 175.7L1054.2 176.9L1055.8 177.3L1057.3 178.2L1058.9 178.9L1060.4 179.6L1062.0 180.6L1063.5 180.8L1065.0 181.1L1066.6 181.5L1068.1 182.1L1069.7 182.0L1071.2 182.4L1072.8 182.9L1074.3 182.9L1075.9 183.3L1077.4 183.4L1079.0 184.5L1080.5 184.4L1082.0 184.3L1083.6 184.3L1085.1 185.2L1086.7 184.7L1088.2 184.7L1089.8 184.9L1091.3 185.1L1092.9 185.6L1094.4 185.3L1095.9 186.2L1097.5 185.4L1099.0 186.1L1100.6 185.7L1102.1 186.7L1102.1 186.0"/></defs>
<use href="#rc" fill="none" stroke="#ab0f34" stroke-opacity="0.35" stroke-width="6.5" stroke-linejoin="round"/>
<use href="#rc" fill="none" stroke="#ab0f34" stroke-width="4.3" stroke-linejoin="round"/>
<text transform="matrix(0.965 0 0 1 844.8 205.5)" font-size="33.5" text-anchor="end">0</text>
<text transform="matrix(0.965 0 0 1 844.8 157.3)" font-size="33.5" text-anchor="end">0.5</text>
<text transform="matrix(0.965 0 0 1 844.8 108)" font-size="33.5" text-anchor="end">1.0</text>
<text transform="matrix(0.965 0 0 1 844.8 58.6)" font-size="33.5" text-anchor="end">1.5</text>
<text transform="matrix(0.965 0 0 1 909 231)" font-size="33.5" text-anchor="middle">−20</text>
<text transform="matrix(0.965 0 0 1 975.9 231)" font-size="33.5" text-anchor="middle">0</text>
<text transform="matrix(0.965 0 0 1 1038.6 231)" font-size="33.5" text-anchor="middle">20</text>
<text transform="matrix(0.965 0 0 1 1099.8 231)" font-size="33.5" text-anchor="middle">40</text>
<text transform="matrix(0.95 0 0 1 980.1 30.7)" font-size="34.3" text-anchor="middle">Exp 3</text>
<text x="752" y="34.8" class="pl">(<tspan font-style="italic">c</tspan><tspan dx="-1.9">)</tspan></text>
<path d="M1223.4 48.3V197.6H1469.2" fill="none" stroke="#1e1e1e" stroke-width="1.8"/>
<path d="M1223.4 148.2h4M1223.4 98.9h4M1223.4 49.5h4M1277.4 197.6v-4.3M1339.8 197.6v-4.3M1402.2 197.6v-4.3M1464.6 197.6v-4.3" stroke="#1e1e1e" stroke-width="1.8"/>
<path d="M1224.0 194.3L1225.6 194.3L1227.1 194.3L1228.7 194.3L1230.3 194.3L1231.8 194.3L1233.4 194.3L1234.9 194.3L1236.5 194.3L1238.1 194.3L1239.6 194.3L1241.2 194.3L1242.7 194.3L1244.3 194.3L1245.9 194.3L1247.4 194.3L1249.0 194.3L1250.5 194.3L1252.1 194.3L1253.7 194.3L1255.2 194.3L1256.8 194.3L1258.3 194.3L1259.9 194.3L1261.5 194.3L1263.0 194.3L1264.6 194.3L1266.1 194.3L1267.7 194.3L1269.3 194.3L1270.8 194.3L1272.4 194.3L1273.9 194.3L1275.5 194.3L1277.1 194.3L1278.6 194.3L1280.2 194.3L1281.7 194.2L1283.3 194.2L1284.9 194.1L1286.4 194.0L1288.0 193.9L1289.5 193.8L1291.1 193.7L1292.7 193.6L1294.2 193.4L1295.8 193.2L1297.3 193.0L1298.9 192.8L1300.5 192.6L1302.0 192.3L1303.6 192.0L1305.1 191.6L1306.7 191.0L1308.3 190.0L1309.8 188.5L1311.4 186.6L1312.9 184.3L1314.5 181.4L1316.1 177.9L1317.6 173.7L1319.2 168.7L1320.7 162.9L1322.3 155.9L1323.9 147.6L1325.4 137.9L1327.0 127.3L1328.5 116.6L1330.1 106.5L1331.7 97.3L1333.2 90.1L1334.8 85.4L1336.3 82.7L1337.9 79.5L1339.5 73.9L1341.0 75.1L1342.6 79.7L1344.1 83.4L1345.7 85.7L1347.3 88.7L1348.8 92.2L1350.4 96.5L1351.9 101.1L1353.5 106.1L1355.1 111.4L1356.6 116.9L1358.2 122.5L1359.7 127.8L1361.3 132.7L1362.9 137.4L1364.4 141.7L1366.0 145.8L1367.5 149.5L1369.1 152.9L1370.7 156.0L1372.2 158.9L1373.8 161.5L1375.3 162.3L1376.9 159.6L1378.5 163.2L1380.0 168.4L1381.6 169.8L1383.1 170.6L1384.7 171.3L1386.3 171.7L1387.8 171.8L1389.4 171.9L1390.9 172.0L1392.5 172.0L1394.1 172.0L1395.6 172.0L1397.2 172.0L1398.7 172.0L1400.3 172.1L1401.9 172.2L1403.4 172.4L1405.0 172.6L1406.5 173.0L1408.1 173.5L1409.7 174.1L1411.2 174.7L1412.8 175.3L1414.3 175.9L1415.9 176.5L1417.5 177.1L1419.0 177.7L1420.6 178.3L1422.1 178.9L1423.7 179.4L1425.3 179.9L1426.8 180.4L1428.4 180.6L1429.9 180.8L1431.5 180.8L1433.1 180.8L1434.6 180.8L1436.2 180.8L1437.7 180.8L1439.3 180.8L1440.9 180.8L1442.4 180.8L1444.0 180.8L1445.5 180.8L1447.1 180.8L1448.7 180.8L1450.2 180.8L1451.8 180.8L1453.3 180.8L1454.9 180.9L1456.5 180.9L1458.0 180.9L1459.6 181.0L1461.1 181.1L1462.7 181.2L1464.3 181.4L1465.8 181.5L1467.4 181.6L1468.3 181.7L1468.3 197.6L1467.4 197.6L1465.8 197.6L1464.3 197.6L1462.7 197.6L1461.1 197.5L1459.6 197.4L1458.0 197.4L1456.5 197.4L1454.9 197.4L1453.3 197.4L1451.8 197.4L1450.2 197.4L1448.7 197.4L1447.1 197.4L1445.5 197.4L1444.0 197.4L1442.4 197.4L1440.9 197.3L1439.3 197.1L1437.7 197.1L1436.2 197.0L1434.6 196.9L1433.1 196.8L1431.5 196.7L1429.9 196.5L1428.4 196.2L1426.8 195.7L1425.3 195.1L1423.7 194.3L1422.1 193.5L1420.6 192.7L1419.0 191.8L1417.5 191.0L1415.9 190.2L1414.3 189.4L1412.8 188.6L1411.2 187.7L1409.7 186.9L1408.1 186.1L1406.5 185.4L1405.0 184.7L1403.4 184.2L1401.9 183.8L1400.3 183.4L1398.7 183.0L1397.2 182.7L1395.6 182.4L1394.1 182.0L1392.5 181.6L1390.9 181.2L1389.4 180.6L1387.8 179.8L1386.3 178.7L1384.7 177.4L1383.1 176.0L1381.6 174.7L1380.0 173.4L1378.5 171.9L1376.9 170.0L1375.3 167.8L1373.8 165.3L1372.2 162.7L1370.7 159.8L1369.1 156.7L1367.5 153.3L1366.0 149.5L1364.4 145.5L1362.9 141.1L1361.3 136.4L1359.7 131.4L1358.2 126.1L1356.6 120.6L1355.1 115.0L1353.5 109.7L1351.9 104.7L1350.4 100.0L1348.8 95.8L1347.3 92.2L1345.7 89.2L1344.1 86.9L1342.6 85.1L1341.0 84.1L1339.5 84.0L1337.9 84.7L1336.3 86.1L1334.8 88.8L1333.2 93.5L1331.7 100.7L1330.1 109.8L1328.5 120.0L1327.0 130.7L1325.4 141.3L1323.9 150.9L1322.3 159.2L1320.7 166.1L1319.2 172.0L1317.6 176.9L1316.1 181.1L1314.5 184.6L1312.9 187.5L1311.4 189.9L1309.8 191.7L1308.3 193.2L1306.7 194.2L1305.1 194.8L1303.6 195.2L1302.0 195.5L1300.5 195.7L1298.9 196.0L1297.3 196.2L1295.8 196.4L1294.2 196.5L1292.7 196.7L1291.1 196.8L1289.5 196.9L1288.0 197.0L1286.4 197.1L1284.9 197.2L1283.3 197.3L1281.7 197.3L1280.2 197.3L1278.6 197.3L1277.1 197.3L1275.5 197.3L1273.9 197.3L1272.4 197.3L1270.8 197.3L1269.3 197.3L1267.7 197.3L1266.1 197.3L1264.6 197.3L1263.0 197.3L1261.5 197.3L1259.9 197.3L1258.3 197.3L1256.8 197.3L1255.2 197.3L1253.7 197.3L1252.1 197.3L1250.5 197.3L1249.0 197.3L1247.4 197.3L1245.9 197.3L1244.3 197.3L1242.7 197.3L1241.2 197.3L1239.6 197.3L1238.1 197.3L1236.5 197.3L1234.9 197.3L1233.4 197.3L1231.8 197.3L1230.3 197.3L1228.7 197.3L1227.1 197.3L1225.6 197.3L1224.0 197.3Z" fill="#b6b6b6"/>
<path d="M1224.0 195.8L1225.6 196.4L1227.1 196.6L1228.7 195.2L1230.3 195.6L1231.8 195.0L1233.4 195.9L1234.9 195.8L1236.5 195.6L1238.1 195.4L1239.6 195.6L1241.2 195.4L1242.7 196.1L1244.3 196.7L1245.9 194.7L1247.4 195.8L1249.0 195.6L1250.5 196.1L1252.1 195.3L1253.7 195.7L1255.2 195.2L1256.8 196.2L1258.3 195.9L1259.9 195.7L1261.5 196.0L1263.0 195.7L1264.6 194.9L1266.1 196.2L1267.7 196.0L1269.3 195.7L1270.8 196.4L1272.4 196.6L1273.9 195.2L1275.5 195.4L1277.1 196.7L1278.6 196.7L1280.2 195.4L1281.7 195.1L1283.3 195.3L1284.9 195.4L1286.4 194.6L1288.0 195.5L1289.5 194.6L1291.1 194.5L1292.7 195.7L1294.2 194.6L1295.8 194.8L1297.3 195.0L1298.9 194.9L1300.5 194.0L1302.0 193.9L1303.6 193.1L1305.1 194.3L1306.7 193.0L1308.3 190.9L1309.8 190.1L1311.4 188.7L1312.9 186.2L1314.5 184.1L1316.1 180.3L1317.6 175.0L1319.2 170.3L1320.7 163.7L1322.3 157.7L1323.9 149.4L1325.4 141.2L1327.0 129.0L1328.5 117.0L1330.1 107.7L1331.7 99.1L1333.2 91.1L1334.8 86.6L1336.3 84.2L1337.9 80.5L1339.5 74.6L1341.0 75.3L1342.6 81.0L1344.1 84.7L1345.7 87.2L1347.3 89.6L1348.8 93.5L1350.4 98.6L1351.9 102.0L1353.5 107.9L1355.1 113.7L1356.6 118.5L1358.2 124.4L1359.7 128.9L1361.3 135.4L1362.9 139.9L1364.4 143.8L1366.0 146.6L1367.5 150.7L1369.1 155.4L1370.7 158.9L1372.2 160.9L1373.8 164.1L1375.3 165.5L1376.9 167.9L1378.5 169.9L1380.0 171.7L1381.6 171.8L1383.1 174.8L1384.7 176.6L1386.3 176.7L1387.8 177.9L1389.4 179.9L1390.9 179.8L1392.5 179.2L1394.1 181.4L1395.6 181.3L1397.2 181.3L1398.7 183.1L1400.3 182.2L1401.9 182.1L1403.4 183.0L1405.0 182.8L1406.5 183.6L1408.1 185.0L1409.7 185.2L1411.2 186.0L1412.8 188.1L1414.3 188.4L1415.9 189.1L1417.5 189.7L1419.0 190.4L1420.6 191.8L1422.1 191.7L1423.7 193.6L1425.3 192.6L1426.8 193.6L1428.4 193.3L1429.9 194.3L1431.5 195.1L1433.1 195.9L1434.6 195.0L1436.2 195.7L1437.7 195.8L1439.3 195.8L1440.9 195.8L1442.4 196.6L1444.0 195.6L1445.5 196.7L1447.1 196.6L1448.7 196.2L1450.2 196.0L1451.8 195.8L1453.3 197.7L1454.9 195.8L1456.5 197.5L1458.0 197.0L1459.6 196.4L1461.1 196.0L1462.7 197.4L1464.3 197.9L1465.8 196.4L1467.4 196.8L1468.3 197.7" fill="none" stroke="#138374" stroke-width="2.1" stroke-linejoin="round"/>
<path d="M1224.0 196.0L1225.6 197.0L1227.1 195.5L1228.7 196.1L1230.3 195.1L1231.8 197.1L1233.4 195.4L1234.9 194.5L1236.5 195.7L1238.1 195.7L1239.6 197.0L1241.2 195.6L1242.7 195.8L1244.3 196.2L1245.9 196.8L1247.4 195.8L1249.0 196.4L1250.5 196.1L1252.1 195.6L1253.7 195.9L1255.2 195.8L1256.8 195.3L1258.3 196.6L1259.9 195.0L1261.5 196.5L1263.0 196.4L1264.6 195.8L1266.1 195.4L1267.7 195.7L1269.3 196.1L1270.8 196.3L1272.4 196.0L1273.9 196.4L1275.5 195.5L1277.1 196.0L1278.6 194.9L1280.2 196.3L1281.7 195.9L1283.3 195.5L1284.9 196.4L1286.4 196.0L1288.0 193.8L1289.5 195.4L1291.1 194.4L1292.7 195.8L1294.2 196.5L1295.8 194.5L1297.3 194.6L1298.9 194.2L1300.5 194.4L1302.0 194.3L1303.6 194.4L1305.1 192.6L1306.7 193.6L1308.3 191.0L1309.8 190.3L1311.4 188.9L1312.9 186.3L1314.5 182.5L1316.1 179.1L1317.6 175.0L1319.2 170.3L1320.7 165.2L1322.3 156.8L1323.9 149.6L1325.4 140.0L1327.0 129.3L1328.5 118.6L1330.1 109.0L1331.7 99.3L1333.2 92.3L1334.8 87.4L1336.3 85.5L1337.9 81.8L1339.5 83.1L1341.0 82.3L1342.6 83.2L1344.1 84.5L1345.7 86.4L1347.3 90.2L1348.8 93.6L1350.4 98.5L1351.9 102.0L1353.5 108.8L1355.1 113.4L1356.6 118.6L1358.2 123.9L1359.7 129.1L1361.3 133.9L1362.9 138.9L1364.4 143.6L1366.0 147.6L1367.5 150.5L1369.1 154.6L1370.7 157.4L1372.2 160.9L1373.8 164.5L1375.3 163.5L1376.9 160.2L1378.5 163.0L1380.0 168.4L1381.6 169.6L1383.1 171.9L1384.7 171.6L1386.3 172.7L1387.8 172.6L1389.4 173.4L1390.9 174.3L1392.5 173.2L1394.1 173.4L1395.6 173.2L1397.2 174.2L1398.7 173.1L1400.3 173.1L1401.9 173.0L1403.4 173.2L1405.0 174.6L1406.5 176.2L1408.1 174.5L1409.7 176.2L1411.2 176.3L1412.8 176.0L1414.3 177.0L1415.9 177.6L1417.5 177.8L1419.0 179.9L1420.6 178.1L1422.1 180.1L1423.7 180.6L1425.3 180.6L1426.8 181.5L1428.4 182.3L1429.9 182.2L1431.5 182.5L1433.1 182.8L1434.6 181.3L1436.2 183.6L1437.7 184.2L1439.3 183.6L1440.9 183.7L1442.4 182.3L1444.0 183.2L1445.5 182.9L1447.1 183.1L1448.7 184.1L1450.2 183.1L1451.8 183.6L1453.3 182.6L1454.9 183.7L1456.5 183.8L1458.0 183.4L1459.6 183.4L1461.1 185.1L1462.7 183.3L1464.3 183.5L1465.8 183.8L1467.4 185.0L1468.3 185.6" fill="none" stroke="#7b3f98" stroke-width="2.1" stroke-linejoin="round"/>
<path d="M1224.0 196.0L1225.6 195.4L1227.1 195.6L1228.7 196.5L1230.3 195.3L1231.8 196.7L1233.4 196.7L1234.9 195.9L1236.5 196.2L1238.1 196.3L1239.6 196.8L1241.2 195.2L1242.7 196.5L1244.3 195.6L1245.9 195.4L1247.4 195.9L1249.0 195.7L1250.5 195.2L1252.1 194.9L1253.7 195.3L1255.2 196.7L1256.8 197.0L1258.3 196.2L1259.9 196.5L1261.5 195.5L1263.0 195.8L1264.6 196.0L1266.1 195.2L1267.7 195.2L1269.3 195.9L1270.8 195.6L1272.4 195.2L1273.9 196.1L1275.5 195.7L1277.1 196.4L1278.6 195.8L1280.2 195.6L1281.7 195.8L1283.3 195.6L1284.9 195.3L1286.4 195.3L1288.0 195.9L1289.5 195.8L1291.1 196.0L1292.7 194.1L1294.2 194.7L1295.8 194.6L1297.3 194.7L1298.9 194.1L1300.5 193.9L1302.0 194.4L1303.6 193.7L1305.1 192.5L1306.7 193.4L1308.3 192.2L1309.8 189.8L1311.4 188.7L1312.9 185.5L1314.5 183.7L1316.1 179.4L1317.6 174.8L1319.2 170.1L1320.7 164.0L1322.3 157.7L1323.9 149.4L1325.4 139.6L1327.0 128.7L1328.5 116.1L1330.1 108.2L1331.7 97.9L1333.2 92.0L1334.8 87.8L1336.3 84.6L1337.9 82.7L1339.5 82.2L1341.0 82.3L1342.6 83.0L1344.1 84.8L1345.7 86.9L1347.3 91.1L1348.8 94.0L1350.4 98.8L1351.9 102.8L1353.5 108.0L1355.1 113.1L1356.6 119.0L1358.2 124.8L1359.7 129.7L1361.3 134.2L1362.9 138.8L1364.4 144.6L1366.0 147.5L1367.5 151.2L1369.1 155.7L1370.7 158.6L1372.2 161.1L1373.8 163.2L1375.3 167.2L1376.9 168.2L1378.5 170.2L1380.0 171.3L1381.6 171.7L1383.1 172.6L1384.7 174.3L1386.3 174.8L1387.8 174.8L1389.4 174.5L1390.9 174.5L1392.5 175.2L1394.1 174.6L1395.6 176.0L1397.2 176.2L1398.7 177.2L1400.3 176.1L1401.9 175.4L1403.4 175.4L1405.0 174.2L1406.5 176.3L1408.1 177.1L1409.7 178.3L1411.2 178.8L1412.8 179.4L1414.3 179.8L1415.9 180.6L1417.5 181.7L1419.0 180.8L1420.6 181.8L1422.1 181.9L1423.7 184.3L1425.3 184.7L1426.8 184.9L1428.4 184.1L1429.9 185.2L1431.5 185.1L1433.1 185.4L1434.6 185.3L1436.2 185.9L1437.7 185.4L1439.3 186.2L1440.9 185.9L1442.4 185.6L1444.0 185.7L1445.5 185.5L1447.1 186.3L1448.7 185.6L1450.2 186.0L1451.8 185.6L1453.3 184.9L1454.9 186.4L1456.5 185.2L1458.0 186.3L1459.6 186.3L1461.1 185.1L1462.7 185.7L1464.3 186.1L1465.8 186.0L1467.4 186.0L1468.3 187.2" fill="none" stroke="#cc2590" stroke-width="2.1" stroke-linejoin="round"/>
<defs><path id="rd" d="M1224.0 195.7L1225.6 196.0L1227.1 195.7L1228.7 195.9L1230.3 195.6L1231.8 195.8L1233.4 196.0L1234.9 195.8L1236.5 195.7L1238.1 195.4L1239.6 195.9L1241.2 195.9L1242.7 195.7L1244.3 195.6L1245.9 196.0L1247.4 196.7L1249.0 195.7L1250.5 195.9L1252.1 196.0L1253.7 194.9L1255.2 195.9L1256.8 195.6L1258.3 196.3L1259.9 195.7L1261.5 195.6L1263.0 195.7L1264.6 195.9L1266.1 195.6L1267.7 195.8L1269.3 195.3L1270.8 195.7L1272.4 196.1L1273.9 196.5L1275.5 196.1L1277.1 195.9L1278.6 196.2L1280.2 196.2L1281.7 196.3L1283.3 196.1L1284.9 195.6L1286.4 195.7L1288.0 195.6L1289.5 195.5L1291.1 195.3L1292.7 194.9L1294.2 194.2L1295.8 194.6L1297.3 193.9L1298.9 194.4L1300.5 194.2L1302.0 193.3L1303.6 193.9L1305.1 193.5L1306.7 192.6L1308.3 192.2L1309.8 190.8L1311.4 187.8L1312.9 186.3L1314.5 183.2L1316.1 179.6L1317.6 175.6L1319.2 170.1L1320.7 164.3L1322.3 157.3L1323.9 149.0L1325.4 139.6L1327.0 128.5L1328.5 117.9L1330.1 108.3L1331.7 99.0L1333.2 92.0L1334.8 86.4L1336.3 84.1L1337.9 82.8L1339.5 82.3L1341.0 82.2L1342.6 83.7L1344.1 85.1L1345.7 87.5L1347.3 90.4L1348.8 94.3L1350.4 98.1L1351.9 103.3L1353.5 108.1L1355.1 113.3L1356.6 118.8L1358.2 124.5L1359.7 130.0L1361.3 134.9L1362.9 139.4L1364.4 143.9L1366.0 147.7L1367.5 151.8L1369.1 154.8L1370.7 157.2L1372.2 161.2L1373.8 163.4L1375.3 165.4L1376.9 167.9L1378.5 169.6L1380.0 172.1L1381.6 172.7L1383.1 172.9L1384.7 174.4L1386.3 174.7L1387.8 176.0L1389.4 175.4L1390.9 175.3L1392.5 176.4L1394.1 176.5L1395.6 176.6L1397.2 176.2L1398.7 177.3L1400.3 178.0L1401.9 177.0L1403.4 178.4L1405.0 178.3L1406.5 179.8L1408.1 179.8L1409.7 180.3L1411.2 181.5L1412.8 182.1L1414.3 182.4L1415.9 183.6L1417.5 183.9L1419.0 184.2L1420.6 186.2L1422.1 186.2L1423.7 186.8L1425.3 187.8L1426.8 187.7L1428.4 188.2L1429.9 188.8L1431.5 189.0L1433.1 189.3L1434.6 189.8L1436.2 189.3L1437.7 189.7L1439.3 189.8L1440.9 189.3L1442.4 189.8L1444.0 189.4L1445.5 190.1L1447.1 189.9L1448.7 189.7L1450.2 189.2L1451.8 189.7L1453.3 189.4L1454.9 190.0L1456.5 189.7L1458.0 189.4L1459.6 190.1L1461.1 190.1L1462.7 189.7L1464.3 190.5L1465.8 190.1L1467.4 190.1L1468.3 190.3"/></defs>
<use href="#rd" fill="none" stroke="#ab0f34" stroke-opacity="0.35" stroke-width="6.5" stroke-linejoin="round"/>
<use href="#rd" fill="none" stroke="#ab0f34" stroke-width="4.3" stroke-linejoin="round"/>
<text transform="matrix(0.965 0 0 1 1209.3 205.5)" font-size="33.5" text-anchor="end">0</text>
<text transform="matrix(0.965 0 0 1 1209.3 157.3)" font-size="33.5" text-anchor="end">0.5</text>
<text transform="matrix(0.965 0 0 1 1209.3 108)" font-size="33.5" text-anchor="end">1.0</text>
<text transform="matrix(0.965 0 0 1 1209.3 58.6)" font-size="33.5" text-anchor="end">1.5</text>
<text transform="matrix(0.965 0 0 1 1273.4 231)" font-size="33.5" text-anchor="middle">−20</text>
<text transform="matrix(0.965 0 0 1 1340.9 231)" font-size="33.5" text-anchor="middle">0</text>
<text transform="matrix(0.965 0 0 1 1403.2 231)" font-size="33.5" text-anchor="middle">20</text>
<text transform="matrix(0.965 0 0 1 1463.5 231)" font-size="33.5" text-anchor="middle">40</text>
<text transform="matrix(0.95 0 0 1 1347.4 30.7)" font-size="34.3" text-anchor="middle">Exp 4</text>
<text x="1109.9" y="33.9" class="pl">(<tspan font-style="italic" dx="-1">d</tspan><tspan dx="4.4">)</tspan></text>
<path d="M119.9 318.7V467H365.7" fill="none" stroke="#1e1e1e" stroke-width="1.8"/>
<path d="M119.9 417.9h4M119.9 368.9h4M119.9 319.9h4M176.6 467v-4.3M238.2 467v-4.3M299.8 467v-4.3M361.4 467v-4.3" stroke="#1e1e1e" stroke-width="1.8"/>
<path d="M120.5 464.1L122.1 464.1L123.6 464.1L125.1 464.1L126.7 464.1L128.2 464.1L129.8 464.1L131.3 464.1L132.8 464.1L134.4 464.1L135.9 464.1L137.5 464.1L139.0 464.1L140.5 464.1L142.1 464.1L143.6 464.1L145.2 464.1L146.7 464.1L148.2 464.1L149.8 464.1L151.3 464.1L152.9 464.1L154.4 464.1L155.9 464.1L157.5 464.1L159.0 464.0L160.6 464.0L162.1 464.0L163.6 464.0L165.2 464.0L166.7 464.0L168.3 464.0L169.8 464.0L171.3 464.0L172.9 464.0L174.4 463.9L176.0 463.9L177.5 463.9L179.0 463.9L180.6 463.8L182.1 463.8L183.7 463.7L185.2 463.7L186.7 463.6L188.3 463.5L189.8 463.5L191.4 463.4L192.9 463.3L194.4 463.2L196.0 463.1L197.5 463.0L199.1 462.8L200.6 462.7L202.1 462.5L203.7 462.3L205.2 461.8L206.8 461.0L208.3 460.0L209.8 458.6L211.4 456.9L212.9 454.7L214.5 451.8L216.0 448.1L217.5 443.5L219.1 437.7L220.6 430.6L222.2 422.2L223.7 412.4L225.2 402.0L226.8 391.8L228.3 382.2L229.9 373.7L231.4 367.0L232.9 362.2L234.5 359.1L236.0 357.1L237.6 356.3L239.1 356.5L240.6 357.6L242.2 359.3L243.7 361.6L245.3 364.3L246.8 367.8L248.3 371.8L249.9 376.2L251.4 380.6L253.0 384.9L254.5 389.2L256.0 393.3L257.6 397.1L259.1 399.9L260.7 401.9L262.2 403.5L263.7 405.1L265.3 407.0L266.8 409.0L268.4 410.7L269.9 411.9L271.4 412.5L273.0 412.8L274.5 412.7L276.1 412.5L277.6 412.0L279.1 410.8L280.7 408.7L282.2 406.5L283.8 404.8L285.3 404.4L286.8 405.0L288.4 406.2L289.9 407.6L291.5 409.2L293.0 411.3L294.5 413.9L296.1 416.7L297.6 419.1L299.2 420.8L300.7 422.2L302.2 423.5L303.8 424.8L305.3 426.0L306.9 427.3L308.4 428.5L309.9 429.7L311.5 430.8L313.0 431.8L314.6 432.7L316.1 433.5L317.6 434.3L319.2 435.1L320.7 435.9L322.3 436.9L323.8 437.8L325.3 438.8L326.9 439.6L328.4 440.4L330.0 440.9L331.5 441.4L333.0 441.8L334.6 442.2L336.1 442.5L337.7 442.9L339.2 443.2L340.7 443.5L342.3 443.9L343.8 444.1L345.4 444.4L346.9 444.7L348.4 445.0L350.0 445.2L351.5 445.5L353.1 445.7L354.6 445.9L356.1 446.1L357.7 446.3L359.2 446.5L360.8 446.7L362.3 446.9L363.8 447.1L365.4 447.2L364.8 447.2L364.8 451.1L365.4 451.0L363.8 451.0L362.3 450.8L360.8 450.7L359.2 450.5L357.7 450.4L356.1 450.2L354.6 450.1L353.1 449.9L351.5 449.7L350.0 449.6L348.4 449.4L346.9 449.2L345.4 449.0L343.8 448.9L342.3 448.7L340.7 448.5L339.2 448.2L337.7 448.0L336.1 447.8L334.6 447.5L333.0 447.3L331.5 447.0L330.0 446.7L328.4 446.4L326.9 446.2L325.3 446.0L323.8 445.9L322.3 445.7L320.7 445.5L319.2 445.3L317.6 445.0L316.1 444.7L314.6 444.4L313.0 444.1L311.5 443.7L309.9 443.3L308.4 443.0L306.9 442.6L305.3 442.3L303.8 442.0L302.2 441.7L300.7 441.5L299.2 441.3L297.6 441.2L296.1 441.3L294.5 441.6L293.0 442.0L291.5 442.4L289.9 443.1L288.4 444.0L286.8 444.8L285.3 445.3L283.8 445.4L282.2 445.1L280.7 444.6L279.1 443.8L277.6 442.8L276.1 441.4L274.5 439.6L273.0 437.7L271.4 436.1L269.9 434.4L268.4 432.1L266.8 429.2L265.3 426.0L263.7 422.5L262.2 418.5L260.7 414.0L259.1 409.4L257.6 404.7L256.0 399.7L254.5 395.0L253.0 390.6L251.4 386.2L249.9 381.7L248.3 377.3L246.8 373.2L245.3 369.7L243.7 366.8L242.2 364.5L240.6 362.8L239.1 361.6L237.6 361.3L236.0 362.1L234.5 364.0L232.9 367.1L231.4 371.8L229.9 378.4L228.3 386.8L226.8 396.4L225.2 406.6L223.7 416.9L222.2 426.6L220.6 435.0L219.1 442.0L217.5 447.8L216.0 452.4L214.5 456.0L212.9 458.8L211.4 461.0L209.8 462.7L208.3 464.0L206.8 465.0L205.2 465.7L203.7 466.2L202.1 466.4L200.6 466.5L199.1 466.6L197.5 466.7L196.0 466.8L194.4 466.9L192.9 467.0L191.4 467L189.8 467L188.3 467L186.7 467L185.2 467L183.7 467L182.1 467L180.6 467L179.0 467L177.5 467L176.0 467L174.4 467L172.9 467L171.3 467L169.8 467L168.3 467L166.7 467L165.2 467L163.6 467L162.1 467L160.6 467L159.0 467L157.5 467L155.9 467L154.4 467L152.9 467L151.3 467L149.8 467L148.2 467L146.7 467L145.2 467L143.6 467L142.1 467L140.5 467L139.0 467L137.5 467L135.9 467L134.4 467L132.8 467L131.3 467L129.8 467L128.2 467L126.7 467L125.1 467L123.6 467L122.1 467L120.5 467Z" fill="#b6b6b6"/>
<path d="M120.5 465.2L122.1 465.4L123.6 465.5L125.1 466.5L126.7 466.5L128.2 465.5L129.8 466.6L131.3 465.6L132.8 465.9L134.4 466.2L135.9 465.8L137.5 467.1L139.0 465.8L140.5 464.9L142.1 466.4L143.6 465.4L145.2 465.4L146.7 463.8L148.2 466.2L149.8 466.1L151.3 466.1L152.9 466.2L154.4 466.6L155.9 465.6L157.5 466.2L159.0 465.2L160.6 465.4L162.1 466.3L163.6 465.9L165.2 464.8L166.7 465.8L168.3 465.5L169.8 465.1L171.3 465.9L172.9 465.4L174.4 464.7L176.0 464.9L177.5 466.6L179.0 464.6L180.6 465.7L182.1 465.9L183.7 465.8L185.2 464.7L186.7 465.2L188.3 465.4L189.8 465.7L191.4 464.8L192.9 464.4L194.4 465.6L196.0 465.6L197.5 465.0L199.1 464.4L200.6 464.8L202.1 464.5L203.7 464.7L205.2 463.0L206.8 463.1L208.3 461.9L209.8 460.0L211.4 459.1L212.9 456.8L214.5 453.6L216.0 450.5L217.5 444.8L219.1 439.8L220.6 433.1L222.2 424.6L223.7 415.3L225.2 403.6L226.8 393.2L228.3 384.6L229.9 376.3L231.4 370.6L232.9 365.0L234.5 361.0L236.0 360.1L237.6 358.3L239.1 358.2L240.6 361.8L242.2 362.1L243.7 364.6L245.3 367.3L246.8 371.6L248.3 374.7L249.9 379.7L251.4 382.7L253.0 386.9L254.5 392.9L256.0 397.2L257.6 400.5L259.1 403.9L260.7 407.2L262.2 409.8L263.7 414.1L265.3 416.2L266.8 418.6L268.4 420.5L269.9 422.3L271.4 422.6L273.0 422.7L274.5 421.0L276.1 421.4L277.6 422.0L279.1 420.2L280.7 420.0L282.2 420.2L283.8 419.8L285.3 419.5L286.8 418.2L288.4 419.6L289.9 418.9L291.5 419.6L293.0 421.3L294.5 422.3L296.1 424.9L297.6 428.2L299.2 428.5L300.7 429.8L302.2 430.1L303.8 431.5L305.3 432.4L306.9 433.9L308.4 434.6L309.9 435.9L311.5 437.0L313.0 437.4L314.6 437.9L316.1 438.6L317.6 440.4L319.2 440.7L320.7 441.9L322.3 442.4L323.8 442.0L325.3 443.1L326.9 442.3L328.4 444.9L330.0 444.6L331.5 444.1L333.0 443.9L334.6 445.2L336.1 444.1L337.7 445.1L339.2 446.3L340.7 446.1L342.3 446.1L343.8 447.2L345.4 446.2L346.9 447.2L348.4 447.0L350.0 447.0L351.5 448.0L353.1 447.3L354.6 449.2L356.1 447.9L357.7 449.7L359.2 448.0L360.8 449.2L362.3 448.3L363.8 448.3L365.4 449.3L364.8 449.7" fill="none" stroke="#138374" stroke-width="2.1" stroke-linejoin="round"/>
<path d="M120.5 464.9L122.1 466.3L123.6 465.1L125.1 465.7L126.7 465.9L128.2 466.0L129.8 464.5L131.3 466.6L132.8 466.0L134.4 465.4L135.9 465.0L137.5 464.6L139.0 464.8L140.5 466.0L142.1 465.4L143.6 464.9L145.2 465.3L146.7 466.6L148.2 465.4L149.8 465.3L151.3 466.4L152.9 465.9L154.4 465.7L155.9 465.3L157.5 464.7L159.0 464.9L160.6 465.3L162.1 465.5L163.6 465.8L165.2 466.0L166.7 465.8L168.3 465.8L169.8 465.0L171.3 464.3L172.9 465.3L174.4 465.0L176.0 465.2L177.5 465.4L179.0 464.8L180.6 464.9L182.1 465.4L183.7 465.5L185.2 465.0L186.7 465.7L188.3 465.2L189.8 464.6L191.4 465.2L192.9 466.2L194.4 464.6L196.0 465.6L197.5 465.7L199.1 465.6L200.6 464.1L202.1 465.7L203.7 464.3L205.2 463.6L206.8 462.9L208.3 462.4L209.8 460.7L211.4 458.9L212.9 457.5L214.5 453.5L216.0 449.6L217.5 446.1L219.1 440.3L220.6 433.5L222.2 423.8L223.7 415.3L225.2 404.6L226.8 395.1L228.3 383.7L229.9 376.2L231.4 369.2L232.9 363.7L234.5 361.1L236.0 360.3L237.6 358.5L239.1 358.6L240.6 360.7L242.2 362.5L243.7 364.8L245.3 366.5L246.8 370.5L248.3 375.2L249.9 378.6L251.4 383.0L253.0 388.9L254.5 394.6L256.0 398.2L257.6 402.3L259.1 407.7L260.7 412.6L262.2 417.6L263.7 422.1L265.3 425.1L266.8 428.0L268.4 431.4L269.9 433.1L271.4 435.3L273.0 436.6L274.5 440.4L276.1 441.1L277.6 441.6L279.1 442.4L280.7 443.5L282.2 443.4L283.8 444.2L285.3 444.1L286.8 444.6L288.4 443.0L289.9 441.9L291.5 440.8L293.0 440.5L294.5 440.7L296.1 440.4L297.6 441.1L299.2 440.2L300.7 441.4L302.2 441.1L303.8 441.2L305.3 440.3L306.9 441.1L308.4 442.6L309.9 443.4L311.5 443.0L313.0 443.7L314.6 443.4L316.1 443.7L317.6 443.8L319.2 445.1L320.7 444.9L322.3 444.8L323.8 444.9L325.3 445.6L326.9 445.6L328.4 445.2L330.0 446.9L331.5 446.4L333.0 446.5L334.6 447.6L336.1 447.6L337.7 447.2L339.2 447.8L340.7 447.0L342.3 447.5L343.8 446.7L345.4 449.0L346.9 447.3L348.4 449.0L350.0 448.3L351.5 448.4L353.1 449.0L354.6 449.5L356.1 449.8L357.7 450.7L359.2 450.0L360.8 450.4L362.3 449.7L363.8 450.6L365.4 450.3L364.8 450.0" fill="none" stroke="#7b3f98" stroke-width="2.1" stroke-linejoin="round"/>
<path d="M120.5 465.6L122.1 465.6L123.6 465.7L125.1 465.9L126.7 465.3L128.2 465.2L129.8 466.1L131.3 464.6L132.8 465.3L134.4 466.6L135.9 464.0L137.5 465.2L139.0 466.0L140.5 464.6L142.1 467.2L143.6 464.1L145.2 466.5L146.7 466.6L148.2 466.2L149.8 465.5L151.3 465.8L152.9 465.1L154.4 466.1L155.9 465.0L157.5 465.5L159.0 466.2L160.6 465.0L162.1 465.4L163.6 465.7L165.2 464.8L166.7 466.3L168.3 465.8L169.8 464.7L171.3 465.6L172.9 465.2L174.4 465.2L176.0 465.6L177.5 465.2L179.0 466.1L180.6 465.1L182.1 466.1L183.7 465.4L185.2 465.9L186.7 465.0L188.3 465.0L189.8 464.6L191.4 465.5L192.9 465.7L194.4 466.3L196.0 465.7L197.5 465.0L199.1 464.6L200.6 464.8L202.1 464.4L203.7 465.1L205.2 464.3L206.8 462.5L208.3 461.6L209.8 461.5L211.4 459.2L212.9 456.6L214.5 454.6L216.0 450.0L217.5 445.5L219.1 439.6L220.6 431.6L222.2 424.9L223.7 413.9L225.2 403.9L226.8 393.6L228.3 384.9L229.9 376.0L231.4 369.4L232.9 363.6L234.5 361.5L236.0 358.7L237.6 359.0L239.1 359.3L240.6 360.2L242.2 363.2L243.7 364.5L245.3 367.3L246.8 370.6L248.3 374.5L249.9 379.5L251.4 384.0L253.0 387.0L254.5 392.7L256.0 396.6L257.6 400.8L259.1 404.1L260.7 406.4L262.2 409.5L263.7 414.3L265.3 416.4L266.8 418.4L268.4 422.2L269.9 423.9L271.4 424.3L273.0 424.7L274.5 425.5L276.1 426.8L277.6 426.6L279.1 426.3L280.7 426.2L282.2 425.9L283.8 423.9L285.3 424.8L286.8 424.5L288.4 424.3L289.9 424.3L291.5 423.8L293.0 422.8L294.5 421.5L296.1 421.9L297.6 423.7L299.2 422.8L300.7 423.5L302.2 425.9L303.8 427.2L305.3 428.2L306.9 428.3L308.4 430.5L309.9 430.4L311.5 431.1L313.0 432.3L314.6 433.4L316.1 434.7L317.6 435.5L319.2 435.9L320.7 437.3L322.3 437.7L323.8 439.1L325.3 438.7L326.9 439.5L328.4 441.7L330.0 441.1L331.5 442.2L333.0 442.8L334.6 443.0L336.1 443.5L337.7 445.0L339.2 443.0L340.7 445.4L342.3 446.6L343.8 445.6L345.4 445.9L346.9 446.7L348.4 447.6L350.0 446.1L351.5 447.2L353.1 447.3L354.6 448.0L356.1 448.0L357.7 448.5L359.2 448.1L360.8 448.6L362.3 448.4L363.8 448.6L365.4 449.0L364.8 449.0" fill="none" stroke="#cc2590" stroke-width="2.1" stroke-linejoin="round"/>
<defs><path id="re" d="M120.5 465.2L122.1 466.2L123.6 465.6L125.1 465.1L126.7 466.0L128.2 465.4L129.8 465.8L131.3 465.6L132.8 465.7L134.4 465.7L135.9 465.4L137.5 465.6L139.0 466.3L140.5 464.8L142.1 465.6L143.6 465.8L145.2 465.3L146.7 465.1L148.2 466.4L149.8 465.5L151.3 466.4L152.9 465.8L154.4 465.7L155.9 465.8L157.5 465.8L159.0 466.0L160.6 465.8L162.1 465.7L163.6 465.7L165.2 466.1L166.7 465.9L168.3 465.3L169.8 465.4L171.3 465.7L172.9 465.4L174.4 465.5L176.0 465.3L177.5 465.5L179.0 465.7L180.6 465.9L182.1 465.5L183.7 466.2L185.2 465.4L186.7 466.5L188.3 465.7L189.8 465.4L191.4 465.0L192.9 464.1L194.4 465.0L196.0 465.0L197.5 465.5L199.1 464.2L200.6 465.3L202.1 464.4L203.7 464.5L205.2 462.9L206.8 463.1L208.3 461.9L209.8 460.9L211.4 459.0L212.9 456.3L214.5 454.2L216.0 450.5L217.5 445.8L219.1 440.2L220.6 433.2L222.2 424.4L223.7 414.2L225.2 403.8L226.8 394.5L228.3 384.7L229.9 376.1L231.4 369.2L232.9 364.7L234.5 361.5L236.0 359.5L237.6 358.6L239.1 359.8L240.6 360.3L242.2 361.7L243.7 363.7L245.3 366.7L246.8 370.7L248.3 374.8L249.9 378.9L251.4 383.4L253.0 387.6L254.5 391.7L256.0 396.7L257.6 400.3L259.1 404.7L260.7 406.9L262.2 410.2L263.7 413.6L265.3 416.2L266.8 418.8L268.4 421.6L269.9 424.1L271.4 425.5L273.0 426.1L274.5 426.8L276.1 426.9L277.6 426.7L279.1 426.4L280.7 425.9L282.2 425.7L283.8 425.5L285.3 425.0L286.8 425.2L288.4 425.1L289.9 425.0L291.5 425.6L293.0 426.8L294.5 427.5L296.1 428.9L297.6 429.3L299.2 430.5L300.7 431.6L302.2 432.4L303.8 432.7L305.3 433.7L306.9 434.7L308.4 435.2L309.9 436.5L311.5 437.5L313.0 437.8L314.6 439.4L316.1 439.3L317.6 440.0L319.2 440.6L320.7 441.0L322.3 441.9L323.8 442.2L325.3 443.3L326.9 443.3L328.4 443.7L330.0 443.8L331.5 443.8L333.0 444.6L334.6 444.6L336.1 445.6L337.7 445.5L339.2 446.4L340.7 446.4L342.3 446.6L343.8 446.7L345.4 446.9L346.9 447.3L348.4 447.6L350.0 447.2L351.5 447.9L353.1 448.8L354.6 448.1L356.1 448.2L357.7 448.2L359.2 448.1L360.8 449.2L362.3 449.0L363.8 449.2L365.4 449.9L364.8 450.1"/></defs>
<use href="#re" fill="none" stroke="#ab0f34" stroke-opacity="0.35" stroke-width="6.5" stroke-linejoin="round"/>
<use href="#re" fill="none" stroke="#ab0f34" stroke-width="4.3" stroke-linejoin="round"/>
<text transform="matrix(0.965 0 0 1 109.3 474.9)" font-size="33.5" text-anchor="end">0</text>
<text transform="matrix(0.965 0 0 1 109.3 427.1)" font-size="33.5" text-anchor="end">0.5</text>
<text transform="matrix(0.965 0 0 1 109.3 378)" font-size="33.5" text-anchor="end">1.0</text>
<text transform="matrix(0.965 0 0 1 109.3 329.0)" font-size="33.5" text-anchor="end">1.5</text>
<text transform="matrix(0.965 0 0 1 171.6 500.4)" font-size="33.5" text-anchor="middle">−20</text>
<text transform="matrix(0.965 0 0 1 238.7 500.4)" font-size="33.5" text-anchor="middle">0</text>
<text transform="matrix(0.965 0 0 1 299.6 500.4)" font-size="33.5" text-anchor="middle">20</text>
<text transform="matrix(0.965 0 0 1 362 500.4)" font-size="33.5" text-anchor="middle">40</text>
<text transform="matrix(0.95 0 0 1 241.2 298.8)" font-size="34.3" text-anchor="middle">Exp 5</text>
<text x="13.3" y="295.3" class="pl">(<tspan font-style="italic">e</tspan><tspan dx="-1.2">)</tspan></text>
<path d="M488.2 318.7V467H733.1" fill="none" stroke="#1e1e1e" stroke-width="1.8"/>
<path d="M488.2 417.9h4M488.2 368.9h4M488.2 319.9h4M544.9 467v-4.3M605.8 467v-4.3M666.7 467v-4.3M727.6 467v-4.3" stroke="#1e1e1e" stroke-width="1.8"/>
<path d="M488.8 464.8L490.3 464.8L491.9 464.8L493.4 464.8L494.9 464.7L496.4 464.7L497.9 464.7L499.5 464.7L501.0 464.7L502.5 464.7L504.0 464.7L505.6 464.6L507.1 464.6L508.6 464.6L510.1 464.6L511.6 464.5L513.2 464.5L514.7 464.5L516.2 464.5L517.7 464.4L519.3 464.4L520.8 464.4L522.3 464.3L523.8 464.3L525.3 464.3L526.9 464.2L528.4 464.2L529.9 464.2L531.4 464.1L533.0 464.1L534.5 464.0L536.0 464.0L537.5 463.9L539.1 463.9L540.6 463.8L542.1 463.8L543.6 463.7L545.1 463.7L546.7 463.6L548.2 463.6L549.7 463.5L551.2 463.4L552.8 463.4L554.3 463.3L555.8 463.2L557.3 463.2L558.8 463.1L560.4 463.0L561.9 462.8L563.4 462.6L564.9 462.4L566.5 462.1L568.0 461.7L569.5 461.3L571.0 460.8L572.5 460.2L574.1 459.4L575.6 458.4L577.1 457.1L578.6 455.4L580.2 453.0L581.7 450.1L583.2 446.6L584.7 442.5L586.2 437.8L587.8 432.3L589.3 426.0L590.8 419.0L592.3 411.5L593.9 403.9L595.4 396.6L596.9 389.7L598.4 383.6L600.0 377.6L601.5 370.9L603.0 365.1L604.5 361.1L606.0 359.7L607.6 360.8L609.1 363.6L610.6 367.4L612.1 371.5L613.7 375.9L615.2 380.3L616.7 384.9L618.2 389.8L619.7 395.0L621.3 400.4L622.8 405.9L624.3 411.3L625.8 416.3L627.4 421.1L628.9 425.4L630.4 429.3L631.9 432.6L633.4 435.3L635.0 437.5L636.5 439.4L638.0 440.7L639.5 441.6L641.1 442.2L642.6 442.6L644.1 442.8L645.6 443.0L647.1 443.1L648.7 443.3L650.2 443.4L651.7 443.5L653.2 443.6L654.8 443.6L656.3 443.6L657.8 443.6L659.3 443.6L660.9 443.7L662.4 443.8L663.9 443.9L665.4 444.0L666.9 444.2L668.5 444.4L670.0 444.6L671.5 444.9L673.0 445.2L674.6 445.6L676.1 446.0L677.6 446.4L679.1 446.9L680.6 447.4L682.2 448.0L683.7 448.5L685.2 448.9L686.7 449.3L688.3 449.6L689.8 449.9L691.3 450.1L692.8 450.2L694.3 450.4L695.9 450.5L697.4 450.6L698.9 450.7L700.4 450.9L702.0 451.0L703.5 451.2L705.0 451.3L706.5 451.4L708.0 451.6L709.6 451.7L711.1 451.9L712.6 452.0L714.1 452.2L715.7 452.3L717.2 452.4L718.7 452.6L720.2 452.7L721.8 452.9L723.3 453.0L724.8 453.1L726.3 453.3L727.8 453.4L729.4 453.5L730.9 453.6L732.4 453.7L732.2 453.7L732.2 464.6L732.4 464.6L730.9 464.5L729.4 464.5L727.8 464.4L726.3 464.3L724.8 464.2L723.3 464.1L721.8 464.0L720.2 463.9L718.7 463.8L717.2 463.7L715.7 463.6L714.1 463.5L712.6 463.4L711.1 463.3L709.6 463.1L708.0 463.0L706.5 462.9L705.0 462.8L703.5 462.6L702.0 462.5L700.4 462.4L698.9 462.3L697.4 462.2L695.9 462.0L694.3 461.9L692.8 461.8L691.3 461.6L689.8 461.4L688.3 461.2L686.7 460.9L685.2 460.5L683.7 460.0L682.2 459.5L680.6 459.0L679.1 458.5L677.6 458.0L676.1 457.5L674.6 457.1L673.0 456.8L671.5 456.4L670.0 456.1L668.5 455.8L666.9 455.5L665.4 455.2L663.9 454.9L662.4 454.7L660.9 454.5L659.3 454.2L657.8 453.8L656.3 453.4L654.8 453.0L653.2 452.6L651.7 452.1L650.2 451.7L648.7 451.3L647.1 450.9L645.6 450.4L644.1 449.9L642.6 449.2L641.1 448.6L639.5 447.7L638.0 446.7L636.5 445.3L635.0 443.4L633.4 441.2L631.9 438.6L630.4 435.4L628.9 431.7L627.4 427.5L625.8 422.9L624.3 418.1L622.8 413.0L621.3 407.8L619.7 402.7L618.2 397.8L616.7 393.6L615.2 389.8L613.7 386.5L612.1 384.2L610.6 382.6L609.1 381.5L607.6 380.9L606.0 380.9L604.5 381.0L603.0 381.1L601.5 382.2L600.0 385.1L598.4 390.1L596.9 396.1L595.4 402.8L593.9 410.0L592.3 417.5L590.8 424.9L589.3 431.8L587.8 437.9L586.2 443.3L584.7 447.9L583.2 451.9L581.7 455.3L580.2 458.1L578.6 460.3L577.1 462.0L575.6 463.2L574.1 464.1L572.5 464.8L571.0 465.3L569.5 465.7L568.0 466.0L566.5 466.3L564.9 466.6L563.4 466.8L561.9 466.9L560.4 467L558.8 467L557.3 467L555.8 467L554.3 467L552.8 467L551.2 467L549.7 467L548.2 467L546.7 467L545.1 467L543.6 467L542.1 467L540.6 467L539.1 467L537.5 467L536.0 467L534.5 467L533.0 467L531.4 467L529.9 467L528.4 467L526.9 467L525.3 467L523.8 467L522.3 467L520.8 467L519.3 467L517.7 467L516.2 467L514.7 467L513.2 467L511.6 467L510.1 467L508.6 467L507.1 467L505.6 467L504.0 467L502.5 467L501.0 467L499.5 467L497.9 467L496.4 467L494.9 467L493.4 467L491.9 467L490.3 467L488.8 467Z" fill="#b6b6b6"/>
<path d="M488.8 465.7L490.3 466.9L491.9 466.6L493.4 466.5L494.9 466.5L496.4 466.2L497.9 467.2L499.5 466.6L501.0 466.4L502.5 466.9L504.0 466.7L505.6 466.4L507.1 466.3L508.6 467.2L510.1 466.4L511.6 466.0L513.2 465.6L514.7 465.8L516.2 465.4L517.7 466.1L519.3 466.1L520.8 464.7L522.3 466.0L523.8 466.3L525.3 466.0L526.9 465.3L528.4 466.6L529.9 465.4L531.4 465.1L533.0 465.1L534.5 465.7L536.0 466.3L537.5 466.4L539.1 465.8L540.6 464.9L542.1 465.2L543.6 465.0L545.1 465.4L546.7 464.4L548.2 465.5L549.7 465.7L551.2 465.2L552.8 465.5L554.3 464.7L555.8 464.3L557.3 464.7L558.8 465.8L560.4 465.6L561.9 464.6L563.4 465.4L564.9 464.3L566.5 465.1L568.0 464.2L569.5 463.2L571.0 463.5L572.5 462.0L574.1 461.1L575.6 459.8L577.1 459.6L578.6 457.7L580.2 455.4L581.7 452.3L583.2 449.9L584.7 444.8L586.2 439.9L587.8 435.6L589.3 429.5L590.8 421.9L592.3 413.2L593.9 406.3L595.4 399.7L596.9 392.5L598.4 386.4L600.0 377.6L601.5 372.1L603.0 365.5L604.5 362.7L606.0 360.4L607.6 362.2L609.1 364.0L610.6 367.4L612.1 372.0L613.7 377.1L615.2 381.7L616.7 388.0L618.2 393.3L619.7 398.1L621.3 403.0L622.8 409.1L624.3 414.1L625.8 420.4L627.4 424.3L628.9 428.8L630.4 432.1L631.9 434.4L633.4 437.8L635.0 439.8L636.5 442.5L638.0 443.8L639.5 444.2L641.1 445.2L642.6 446.9L644.1 445.9L645.6 446.3L647.1 447.0L648.7 447.0L650.2 447.4L651.7 448.2L653.2 449.0L654.8 447.1L656.3 448.3L657.8 448.5L659.3 448.5L660.9 448.7L662.4 448.8L663.9 449.8L665.4 449.2L666.9 449.7L668.5 450.1L670.0 450.5L671.5 450.6L673.0 451.7L674.6 451.4L676.1 451.9L677.6 452.3L679.1 452.2L680.6 452.8L682.2 453.2L683.7 454.5L685.2 454.4L686.7 454.6L688.3 455.6L689.8 456.1L691.3 454.9L692.8 457.1L694.3 456.3L695.9 456.3L697.4 457.1L698.9 456.7L700.4 456.4L702.0 458.2L703.5 456.4L705.0 457.1L706.5 457.8L708.0 456.8L709.6 457.6L711.1 458.0L712.6 459.4L714.1 457.5L715.7 458.2L717.2 458.7L718.7 458.5L720.2 457.9L721.8 459.0L723.3 458.9L724.8 459.3L726.3 459.8L727.8 459.9L729.4 459.6L730.9 459.7L732.4 458.9L732.2 459.5" fill="none" stroke="#138374" stroke-width="2.1" stroke-linejoin="round"/>
<path d="M488.8 466.4L490.3 466.0L491.9 466.3L493.4 465.8L494.9 467.2L496.4 467.5L497.9 466.0L499.5 466.4L501.0 466.1L502.5 466.9L504.0 466.4L505.6 466.2L507.1 466.0L508.6 466.2L510.1 465.5L511.6 466.5L513.2 465.6L514.7 466.4L516.2 466.1L517.7 466.7L519.3 466.0L520.8 466.6L522.3 465.4L523.8 466.3L525.3 465.8L526.9 466.0L528.4 465.9L529.9 466.4L531.4 464.6L533.0 465.9L534.5 464.8L536.0 466.4L537.5 464.5L539.1 465.0L540.6 464.6L542.1 466.5L543.6 464.7L545.1 465.5L546.7 465.1L548.2 464.3L549.7 465.2L551.2 465.7L552.8 465.2L554.3 465.8L555.8 465.0L557.3 465.1L558.8 464.8L560.4 465.2L561.9 466.0L563.4 464.9L564.9 464.6L566.5 463.8L568.0 463.4L569.5 464.4L571.0 462.3L572.5 461.9L574.1 461.6L575.6 460.5L577.1 460.6L578.6 456.3L580.2 455.6L581.7 453.0L583.2 448.4L584.7 444.6L586.2 440.6L587.8 435.9L589.3 428.1L590.8 420.7L592.3 414.8L593.9 407.6L595.4 399.2L596.9 391.2L598.4 387.3L600.0 381.2L601.5 376.1L603.0 369.1L604.5 364.0L606.0 362.2L607.6 364.2L609.1 366.5L610.6 367.6L612.1 372.1L613.7 378.0L615.2 381.0L616.7 385.1L618.2 390.8L619.7 395.9L621.3 401.4L622.8 406.6L624.3 412.1L625.8 417.0L627.4 422.2L628.9 425.9L630.4 430.1L631.9 433.5L633.4 437.1L635.0 438.7L636.5 440.3L638.0 442.0L639.5 442.8L641.1 443.7L642.6 443.7L644.1 444.7L645.6 444.6L647.1 443.9L648.7 443.8L650.2 444.7L651.7 444.6L653.2 444.4L654.8 443.6L656.3 443.5L657.8 444.9L659.3 445.2L660.9 445.4L662.4 444.2L663.9 445.8L665.4 444.9L666.9 445.6L668.5 445.8L670.0 445.2L671.5 445.6L673.0 445.0L674.6 446.0L676.1 445.9L677.6 447.7L679.1 447.9L680.6 449.0L682.2 449.2L683.7 449.1L685.2 450.1L686.7 450.1L688.3 451.0L689.8 451.0L691.3 450.5L692.8 451.3L694.3 451.5L695.9 451.5L697.4 452.4L698.9 453.1L700.4 452.0L702.0 452.3L703.5 451.4L705.0 452.9L706.5 452.9L708.0 452.1L709.6 453.8L711.1 454.1L712.6 453.5L714.1 453.9L715.7 453.7L717.2 454.9L718.7 453.6L720.2 454.5L721.8 455.9L723.3 454.9L724.8 455.3L726.3 455.0L727.8 454.4L729.4 455.2L730.9 455.5L732.4 454.6L732.2 455.5" fill="none" stroke="#7b3f98" stroke-width="2.1" stroke-linejoin="round"/>
<path d="M488.8 467.0L490.3 466.9L491.9 465.3L493.4 465.7L494.9 465.3L496.4 466.9L497.9 466.6L499.5 466.7L501.0 465.7L502.5 465.6L504.0 466.3L505.6 466.3L507.1 465.7L508.6 466.3L510.1 466.6L511.6 466.4L513.2 465.6L514.7 465.0L516.2 466.1L517.7 466.3L519.3 466.1L520.8 466.0L522.3 465.8L523.8 466.6L525.3 466.2L526.9 466.3L528.4 465.6L529.9 465.8L531.4 466.3L533.0 465.6L534.5 465.4L536.0 466.0L537.5 466.9L539.1 466.3L540.6 467.0L542.1 466.1L543.6 466.0L545.1 465.3L546.7 465.8L548.2 467.0L549.7 466.3L551.2 466.6L552.8 466.6L554.3 466.1L555.8 466.0L557.3 466.2L558.8 466.5L560.4 466.4L561.9 466.3L563.4 466.0L564.9 465.3L566.5 465.4L568.0 464.7L569.5 465.5L571.0 463.2L572.5 463.9L574.1 464.7L575.6 462.2L577.1 460.5L578.6 459.5L580.2 458.1L581.7 454.4L583.2 451.5L584.7 447.2L586.2 442.3L587.8 439.0L589.3 431.0L590.8 423.8L592.3 416.4L593.9 409.5L595.4 402.3L596.9 395.8L598.4 389.4L600.0 383.4L601.5 381.7L603.0 380.2L604.5 380.1L606.0 379.2L607.6 379.8L609.1 380.3L610.6 381.8L612.1 382.5L613.7 385.8L615.2 389.1L616.7 392.1L618.2 396.6L619.7 400.9L621.3 406.8L622.8 409.8L624.3 416.3L625.8 420.4L627.4 425.9L628.9 431.0L630.4 433.9L631.9 437.6L633.4 439.7L635.0 443.6L636.5 444.8L638.0 446.4L639.5 446.0L641.1 447.0L642.6 449.0L644.1 448.8L645.6 449.4L647.1 450.2L648.7 449.7L650.2 451.3L651.7 451.3L653.2 452.1L654.8 451.8L656.3 453.0L657.8 452.6L659.3 454.0L660.9 454.4L662.4 454.4L663.9 454.4L665.4 454.8L666.9 453.1L668.5 455.5L670.0 455.1L671.5 455.7L673.0 455.8L674.6 455.5L676.1 456.4L677.6 457.6L679.1 458.6L680.6 457.9L682.2 458.2L683.7 460.1L685.2 459.2L686.7 461.3L688.3 460.4L689.8 460.1L691.3 461.4L692.8 462.0L694.3 460.3L695.9 462.2L697.4 461.2L698.9 462.4L700.4 461.4L702.0 460.8L703.5 462.2L705.0 462.5L706.5 463.4L708.0 463.3L709.6 462.8L711.1 462.3L712.6 462.3L714.1 462.5L715.7 462.3L717.2 462.8L718.7 461.5L720.2 463.2L721.8 463.2L723.3 464.9L724.8 463.9L726.3 463.2L727.8 463.9L729.4 462.9L730.9 463.4L732.4 462.7L732.2 464.7" fill="none" stroke="#cc2590" stroke-width="2.1" stroke-linejoin="round"/>
<defs><path id="rf" d="M488.8 466.5L490.3 465.9L491.9 466.2L493.4 466.6L494.9 466.4L496.4 466.4L497.9 465.9L499.5 466.0L501.0 466.2L502.5 466.5L504.0 465.9L505.6 465.8L507.1 466.5L508.6 465.8L510.1 466.5L511.6 466.2L513.2 466.4L514.7 466.7L516.2 466.3L517.7 466.3L519.3 465.7L520.8 465.7L522.3 466.2L523.8 466.5L525.3 466.4L526.9 466.7L528.4 466.0L529.9 465.9L531.4 466.1L533.0 465.8L534.5 465.7L536.0 465.3L537.5 466.0L539.1 465.3L540.6 465.8L542.1 465.1L543.6 465.9L545.1 465.1L546.7 465.7L548.2 464.8L549.7 465.2L551.2 465.7L552.8 465.0L554.3 465.2L555.8 465.0L557.3 464.3L558.8 465.2L560.4 465.1L561.9 464.5L563.4 464.9L564.9 464.2L566.5 463.8L568.0 463.9L569.5 463.2L571.0 463.8L572.5 461.9L574.1 461.9L575.6 461.1L577.1 458.7L578.6 457.1L580.2 455.6L581.7 452.4L583.2 449.2L584.7 445.4L586.2 440.2L587.8 434.5L589.3 427.7L590.8 421.7L592.3 413.9L593.9 406.8L595.4 399.5L596.9 392.1L598.4 387.1L600.0 381.7L601.5 377.3L603.0 373.1L604.5 371.1L606.0 370.1L607.6 370.5L609.1 371.7L610.6 374.3L612.1 376.9L613.7 380.3L615.2 384.0L616.7 389.1L618.2 393.5L619.7 397.6L621.3 403.6L622.8 409.2L624.3 414.9L625.8 419.4L627.4 424.1L628.9 428.3L630.4 432.6L631.9 435.4L633.4 438.0L635.0 440.2L636.5 442.5L638.0 443.5L639.5 444.1L641.1 445.6L642.6 445.7L644.1 446.6L645.6 447.0L647.1 447.6L648.7 447.8L650.2 447.5L651.7 447.8L653.2 447.6L654.8 448.7L656.3 448.4L657.8 448.9L659.3 448.5L660.9 448.1L662.4 449.5L663.9 449.3L665.4 449.5L666.9 449.8L668.5 450.3L670.0 450.6L671.5 450.2L673.0 451.4L674.6 451.3L676.1 451.7L677.6 452.9L679.1 453.1L680.6 453.2L682.2 453.2L683.7 454.4L685.2 455.0L686.7 455.2L688.3 455.1L689.8 455.5L691.3 455.5L692.8 456.2L694.3 456.5L695.9 456.7L697.4 456.2L698.9 456.7L700.4 457.0L702.0 456.7L703.5 457.0L705.0 457.9L706.5 457.4L708.0 457.8L709.6 457.5L711.1 457.8L712.6 457.3L714.1 458.0L715.7 458.6L717.2 459.1L718.7 458.9L720.2 458.8L721.8 458.8L723.3 458.7L724.8 459.0L726.3 459.4L727.8 459.0L729.4 459.7L730.9 459.1L732.4 458.9L732.2 459.2"/></defs>
<use href="#rf" fill="none" stroke="#ab0f34" stroke-opacity="0.35" stroke-width="6.5" stroke-linejoin="round"/>
<use href="#rf" fill="none" stroke="#ab0f34" stroke-width="4.3" stroke-linejoin="round"/>
<text transform="matrix(0.965 0 0 1 477.6 474.9)" font-size="33.5" text-anchor="end">0</text>
<text transform="matrix(0.965 0 0 1 477.6 427.1)" font-size="33.5" text-anchor="end">0.5</text>
<text transform="matrix(0.965 0 0 1 477.6 378)" font-size="33.5" text-anchor="end">1.0</text>
<text transform="matrix(0.965 0 0 1 477.6 329.0)" font-size="33.5" text-anchor="end">1.5</text>
<text transform="matrix(0.965 0 0 1 535.2 500.4)" font-size="33.5" text-anchor="middle">−20</text>
<text transform="matrix(0.965 0 0 1 602.3 500.4)" font-size="33.5" text-anchor="middle">0</text>
<text transform="matrix(0.965 0 0 1 664.6 500.4)" font-size="33.5" text-anchor="middle">20</text>
<text transform="matrix(0.965 0 0 1 726 500.4)" font-size="33.5" text-anchor="middle">40</text>
<text transform="matrix(0.95 0 0 1 613.4 298.8)" font-size="34.3" text-anchor="middle">Exp 6</text>
<text x="379.1" y="295" class="pl">(<tspan font-style="italic" dx="5.7">f</tspan><tspan dx="9.8">)</tspan></text>
<path d="M857.4 318.7V467H1102.3" fill="none" stroke="#1e1e1e" stroke-width="1.8"/>
<path d="M857.4 417.9h4M857.4 368.9h4M857.4 319.9h4M915.6 467v-4.3M976.4 467v-4.3M1037.2 467v-4.3M1098 467v-4.3" stroke="#1e1e1e" stroke-width="1.8"/>
<path d="M858.0 464.8L859.5 464.8L861.0 464.8L862.6 464.8L864.1 464.8L865.6 464.8L867.1 464.8L868.6 464.8L870.2 464.8L871.7 464.8L873.2 464.8L874.7 464.8L876.2 464.7L877.8 464.7L879.3 464.7L880.8 464.7L882.3 464.7L883.8 464.7L885.4 464.7L886.9 464.7L888.4 464.6L889.9 464.6L891.4 464.6L893.0 464.6L894.5 464.6L896.0 464.6L897.5 464.5L899.0 464.5L900.6 464.5L902.1 464.5L903.6 464.5L905.1 464.4L906.6 464.4L908.2 464.4L909.7 464.4L911.2 464.3L912.7 464.3L914.2 464.3L915.8 464.2L917.3 464.2L918.8 464.1L920.3 464.1L921.8 464.0L923.4 463.9L924.9 463.8L926.4 463.6L927.9 463.5L929.4 463.3L931.0 463.1L932.5 462.9L934.0 462.6L935.5 462.3L937.0 462.0L938.6 461.7L940.1 461.3L941.6 460.9L943.1 460.2L944.6 459.3L946.2 458.0L947.7 456.4L949.2 454.2L950.7 451.3L952.2 447.6L953.8 443.2L955.3 438.2L956.8 432.6L958.3 426.5L959.8 420.3L961.4 414.1L962.9 407.9L964.4 401.9L965.9 396.2L967.4 390.7L969.0 385.9L970.5 382.0L972.0 378.2L973.5 373.2L975.0 367.9L976.6 366.3L978.1 370.8L979.6 378.3L981.1 383.6L982.6 387.4L984.2 391.8L985.7 396.7L987.2 401.8L988.7 406.7L990.2 411.4L991.8 416.0L993.3 420.4L994.8 424.5L996.3 428.3L997.8 431.9L999.4 435.1L1000.9 437.9L1002.4 440.3L1003.9 442.4L1005.4 444.1L1007.0 445.5L1008.5 446.6L1010.0 447.4L1011.5 448.1L1013.0 448.7L1014.6 449.1L1016.1 449.5L1017.6 449.8L1019.1 450.1L1020.6 450.3L1022.2 450.4L1023.7 450.6L1025.2 450.7L1026.7 450.9L1028.2 451.0L1029.8 451.2L1031.3 451.4L1032.8 451.6L1034.3 451.8L1035.8 452.1L1037.4 452.4L1038.9 452.7L1040.4 453.1L1041.9 453.4L1043.4 453.7L1045.0 454.1L1046.5 454.4L1048.0 454.7L1049.5 455.1L1051.0 455.4L1052.6 455.8L1054.1 456.1L1055.6 456.3L1057.1 456.3L1058.6 456.2L1060.2 454.6L1061.7 453.7L1063.2 455.5L1064.7 456.9L1066.2 456.9L1067.8 456.8L1069.3 456.7L1070.8 456.6L1072.3 456.6L1073.8 456.8L1075.4 456.9L1076.9 457.1L1078.4 457.3L1079.9 457.4L1081.4 457.6L1083.0 457.7L1084.5 457.9L1086.0 458.0L1087.5 458.1L1089.0 458.2L1090.6 458.3L1092.1 458.4L1093.6 458.5L1095.1 458.6L1096.6 458.8L1098.2 458.9L1099.7 459.0L1101.2 459.2L1101.4 459.2L1101.4 464.2L1101.2 464.2L1099.7 464.1L1098.2 464.1L1096.6 464.1L1095.1 464.0L1093.6 463.9L1092.1 463.9L1090.6 463.8L1089.0 463.8L1087.5 463.7L1086.0 463.6L1084.5 463.5L1083.0 463.4L1081.4 463.3L1079.9 463.2L1078.4 463.0L1076.9 462.9L1075.4 462.7L1073.8 462.6L1072.3 462.4L1070.8 462.3L1069.3 462.2L1067.8 462.0L1066.2 461.9L1064.7 461.8L1063.2 461.7L1061.7 461.5L1060.2 461.4L1058.6 461.2L1057.1 461.0L1055.6 460.7L1054.1 460.4L1052.6 460.2L1051.0 459.8L1049.5 459.5L1048.0 459.2L1046.5 458.9L1045.0 458.6L1043.4 458.3L1041.9 458.0L1040.4 457.7L1038.9 457.4L1037.4 457.2L1035.8 456.9L1034.3 456.7L1032.8 456.5L1031.3 456.3L1029.8 456.2L1028.2 456.1L1026.7 456.0L1025.2 455.9L1023.7 455.8L1022.2 455.7L1020.6 455.6L1019.1 455.5L1017.6 455.3L1016.1 455.1L1014.6 454.8L1013.0 454.4L1011.5 453.9L1010.0 453.3L1008.5 452.6L1007.0 451.5L1005.4 450.2L1003.9 448.6L1002.4 446.6L1000.9 444.3L999.4 441.6L997.8 438.5L996.3 435.0L994.8 431.3L993.3 427.3L991.8 423.0L990.2 418.5L988.7 413.9L987.2 409.1L985.7 404.2L984.2 399.4L982.6 395.1L981.1 391.4L979.6 390.2L978.1 392.1L976.6 393.5L975.0 389.9L973.5 385.9L972.0 387.7L970.5 390.4L969.0 394.1L967.4 398.8L965.9 404.0L964.4 409.6L962.9 415.4L961.4 421.4L959.8 427.4L958.3 433.5L956.8 439.4L955.3 444.8L953.8 449.7L952.2 453.9L950.7 457.4L949.2 460.2L947.7 462.2L946.2 463.8L944.6 464.9L943.1 465.7L941.6 466.2L940.1 466.5L938.6 466.8L937.0 467.0L935.5 467L934.0 467L932.5 467L931.0 467L929.4 467L927.9 467L926.4 467L924.9 467L923.4 467L921.8 467L920.3 467L918.8 467L917.3 467L915.8 467L914.2 467L912.7 467L911.2 467L909.7 467L908.2 467L906.6 467L905.1 467L903.6 467L902.1 467L900.6 467L899.0 467L897.5 467L896.0 467L894.5 467L893.0 467L891.4 467L889.9 467L888.4 467L886.9 467L885.4 467L883.8 467L882.3 467L880.8 467L879.3 467L877.8 467L876.2 467L874.7 467L873.2 467L871.7 467L870.2 467L868.6 467L867.1 467L865.6 467L864.1 467L862.6 467L861.0 467L859.5 467L858.0 467Z" fill="#b6b6b6"/>
<path d="M858.0 465.3L859.5 465.5L861.0 467.0L862.6 466.2L864.1 466.4L865.6 467.0L867.1 467.0L868.6 466.0L870.2 467.1L871.7 466.5L873.2 466.3L874.7 466.5L876.2 465.4L877.8 465.8L879.3 466.2L880.8 466.6L882.3 466.0L883.8 466.1L885.4 466.8L886.9 467.1L888.4 466.7L889.9 467.0L891.4 465.9L893.0 466.0L894.5 466.4L896.0 466.0L897.5 465.8L899.0 467.1L900.6 466.0L902.1 465.5L903.6 466.4L905.1 467.2L906.6 466.1L908.2 466.8L909.7 465.8L911.2 465.8L912.7 465.6L914.2 465.9L915.8 467.1L917.3 465.3L918.8 466.9L920.3 465.3L921.8 465.7L923.4 466.2L924.9 466.0L926.4 465.7L927.9 464.4L929.4 465.4L931.0 464.4L932.5 466.4L934.0 464.5L935.5 464.5L937.0 463.4L938.6 463.6L940.1 462.8L941.6 463.7L943.1 462.4L944.6 462.1L946.2 460.1L947.7 458.6L949.2 457.5L950.7 453.4L952.2 449.2L953.8 446.3L955.3 440.4L956.8 435.3L958.3 430.1L959.8 422.9L961.4 417.8L962.9 410.8L964.4 406.2L965.9 400.4L967.4 394.0L969.0 389.4L970.5 385.2L972.0 383.0L973.5 381.7L975.0 383.5L976.6 388.1L978.1 383.5L979.6 382.8L981.1 385.4L982.6 391.6L984.2 394.7L985.7 399.7L987.2 404.2L988.7 410.1L990.2 412.9L991.8 418.8L993.3 424.4L994.8 427.0L996.3 431.0L997.8 434.9L999.4 437.2L1000.9 440.5L1002.4 443.5L1003.9 445.0L1005.4 446.8L1007.0 447.8L1008.5 449.3L1010.0 449.9L1011.5 451.4L1013.0 451.5L1014.6 451.4L1016.1 450.4L1017.6 452.6L1019.1 452.9L1020.6 452.0L1022.2 451.5L1023.7 452.2L1025.2 453.6L1026.7 452.5L1028.2 453.0L1029.8 453.5L1031.3 454.3L1032.8 453.8L1034.3 454.0L1035.8 454.0L1037.4 455.6L1038.9 455.5L1040.4 455.2L1041.9 454.7L1043.4 455.4L1045.0 456.5L1046.5 456.1L1048.0 457.4L1049.5 457.4L1051.0 457.7L1052.6 458.2L1054.1 458.5L1055.6 458.0L1057.1 458.5L1058.6 460.4L1060.2 458.4L1061.7 459.0L1063.2 460.1L1064.7 459.5L1066.2 459.3L1067.8 459.1L1069.3 460.4L1070.8 460.8L1072.3 461.2L1073.8 460.5L1075.4 461.3L1076.9 460.2L1078.4 461.1L1079.9 460.7L1081.4 461.4L1083.0 461.9L1084.5 462.2L1086.0 461.0L1087.5 462.5L1089.0 461.5L1090.6 461.2L1092.1 461.8L1093.6 461.1L1095.1 462.0L1096.6 462.3L1098.2 462.0L1099.7 462.5L1101.2 462.0L1101.4 462.2" fill="none" stroke="#138374" stroke-width="2.1" stroke-linejoin="round"/>
<path d="M858.0 465.4L859.5 466.3L861.0 465.8L862.6 466.0L864.1 466.2L865.6 466.4L867.1 465.3L868.6 465.3L870.2 466.1L871.7 466.6L873.2 466.5L874.7 466.8L876.2 467.0L877.8 466.5L879.3 466.2L880.8 465.6L882.3 465.7L883.8 465.9L885.4 466.4L886.9 466.3L888.4 466.2L889.9 466.1L891.4 466.6L893.0 466.3L894.5 466.3L896.0 466.3L897.5 465.8L899.0 465.5L900.6 466.4L902.1 466.4L903.6 466.0L905.1 465.9L906.6 467.5L908.2 465.6L909.7 465.9L911.2 466.2L912.7 465.4L914.2 466.1L915.8 467.1L917.3 466.5L918.8 466.3L920.3 466.2L921.8 465.9L923.4 466.3L924.9 465.5L926.4 465.3L927.9 465.4L929.4 465.8L931.0 465.2L932.5 465.3L934.0 463.4L935.5 465.1L937.0 465.5L938.6 464.7L940.1 463.3L941.6 462.6L943.1 462.7L944.6 461.1L946.2 460.9L947.7 458.6L949.2 457.4L950.7 454.8L952.2 449.1L953.8 446.2L955.3 440.7L956.8 434.7L958.3 429.2L959.8 423.3L961.4 417.9L962.9 410.3L964.4 406.0L965.9 400.8L967.4 394.6L969.0 389.8L970.5 385.7L972.0 379.8L973.5 374.3L975.0 368.9L976.6 367.5L978.1 373.1L979.6 379.5L981.1 384.8L982.6 389.4L984.2 392.2L985.7 397.3L987.2 402.9L988.7 407.8L990.2 413.4L991.8 417.5L993.3 423.2L994.8 427.2L996.3 430.6L997.8 433.5L999.4 437.4L1000.9 440.4L1002.4 441.7L1003.9 444.6L1005.4 446.6L1007.0 447.7L1008.5 449.7L1010.0 450.3L1011.5 449.8L1013.0 450.9L1014.6 450.8L1016.1 452.1L1017.6 451.5L1019.1 452.9L1020.6 452.7L1022.2 453.3L1023.7 452.7L1025.2 452.1L1026.7 454.1L1028.2 453.1L1029.8 454.2L1031.3 453.8L1032.8 454.2L1034.3 455.1L1035.8 454.5L1037.4 455.4L1038.9 454.0L1040.4 455.7L1041.9 455.3L1043.4 455.7L1045.0 456.0L1046.5 456.4L1048.0 457.4L1049.5 455.5L1051.0 456.8L1052.6 456.5L1054.1 457.7L1055.6 456.8L1057.1 457.3L1058.6 456.7L1060.2 455.8L1061.7 455.1L1063.2 456.1L1064.7 457.7L1066.2 456.9L1067.8 457.8L1069.3 457.9L1070.8 457.0L1072.3 458.1L1073.8 456.3L1075.4 456.6L1076.9 457.1L1078.4 457.8L1079.9 458.2L1081.4 458.3L1083.0 458.5L1084.5 459.1L1086.0 458.5L1087.5 458.1L1089.0 458.2L1090.6 460.3L1092.1 457.8L1093.6 459.2L1095.1 460.3L1096.6 459.8L1098.2 459.2L1099.7 459.8L1101.2 460.5L1101.4 460.7" fill="none" stroke="#7b3f98" stroke-width="2.1" stroke-linejoin="round"/>
<path d="M858.0 465.7L859.5 466.7L861.0 466.4L862.6 466.9L864.1 467.1L865.6 466.0L867.1 465.4L868.6 466.5L870.2 467.3L871.7 466.6L873.2 466.3L874.7 467.6L876.2 465.5L877.8 466.7L879.3 465.8L880.8 466.1L882.3 466.1L883.8 467.0L885.4 465.5L886.9 465.7L888.4 465.0L889.9 466.2L891.4 465.7L893.0 466.2L894.5 465.2L896.0 465.6L897.5 466.4L899.0 465.7L900.6 466.1L902.1 466.0L903.6 465.5L905.1 464.7L906.6 466.2L908.2 465.7L909.7 466.1L911.2 464.3L912.7 464.4L914.2 464.1L915.8 464.8L917.3 465.9L918.8 465.5L920.3 465.1L921.8 465.0L923.4 465.3L924.9 464.5L926.4 464.8L927.9 464.4L929.4 462.8L931.0 463.7L932.5 464.5L934.0 463.2L935.5 463.0L937.0 462.4L938.6 462.2L940.1 462.8L941.6 461.5L943.1 460.4L944.6 458.2L946.2 458.5L947.7 456.0L949.2 453.9L950.7 452.5L952.2 448.8L953.8 442.8L955.3 439.5L956.8 433.6L958.3 426.8L959.8 421.5L961.4 413.9L962.9 408.0L964.4 401.9L965.9 396.3L967.4 392.0L969.0 385.9L970.5 382.1L972.0 378.4L973.5 375.7L975.0 373.7L976.6 376.2L978.1 379.4L979.6 382.6L981.1 386.2L982.6 390.3L984.2 394.1L985.7 399.7L987.2 405.6L988.7 409.0L990.2 414.1L991.8 419.5L993.3 422.6L994.8 426.5L996.3 430.1L997.8 434.5L999.4 437.7L1000.9 440.1L1002.4 442.6L1003.9 445.3L1005.4 446.7L1007.0 446.7L1008.5 448.6L1010.0 449.4L1011.5 450.4L1013.0 450.3L1014.6 450.5L1016.1 450.9L1017.6 450.4L1019.1 451.6L1020.6 451.4L1022.2 452.2L1023.7 451.4L1025.2 451.8L1026.7 451.6L1028.2 451.7L1029.8 452.9L1031.3 452.3L1032.8 453.1L1034.3 452.4L1035.8 453.4L1037.4 452.6L1038.9 453.6L1040.4 453.9L1041.9 454.9L1043.4 455.0L1045.0 455.1L1046.5 456.0L1048.0 455.9L1049.5 456.5L1051.0 457.0L1052.6 456.8L1054.1 457.0L1055.6 457.7L1057.1 457.5L1058.6 458.2L1060.2 458.8L1061.7 458.8L1063.2 458.3L1064.7 457.9L1066.2 458.7L1067.8 458.8L1069.3 459.7L1070.8 459.0L1072.3 459.2L1073.8 459.9L1075.4 459.4L1076.9 459.7L1078.4 461.0L1079.9 461.0L1081.4 460.7L1083.0 460.6L1084.5 459.9L1086.0 460.9L1087.5 460.7L1089.0 460.9L1090.6 460.5L1092.1 460.9L1093.6 460.8L1095.1 461.2L1096.6 461.9L1098.2 461.3L1099.7 460.2L1101.2 460.6L1101.4 460.3" fill="none" stroke="#cc2590" stroke-width="2.1" stroke-linejoin="round"/>
<defs><path id="rg" d="M858.0 466.0L859.5 466.5L861.0 466.4L862.6 466.1L864.1 466.4L865.6 466.0L867.1 465.8L868.6 465.8L870.2 466.0L871.7 466.7L873.2 465.8L874.7 466.7L876.2 466.7L877.8 466.2L879.3 466.2L880.8 466.0L882.3 466.2L883.8 466.4L885.4 466.2L886.9 466.5L888.4 466.6L889.9 466.3L891.4 466.3L893.0 466.1L894.5 466.3L896.0 465.8L897.5 466.3L899.0 466.2L900.6 465.8L902.1 466.9L903.6 465.8L905.1 465.8L906.6 466.2L908.2 465.4L909.7 465.8L911.2 465.5L912.7 465.7L914.2 466.0L915.8 466.1L917.3 466.4L918.8 466.2L920.3 466.3L921.8 466.0L923.4 465.6L924.9 466.0L926.4 465.3L927.9 465.1L929.4 465.7L931.0 465.3L932.5 464.9L934.0 464.9L935.5 464.7L937.0 463.6L938.6 463.8L940.1 463.1L941.6 463.2L943.1 462.3L944.6 462.2L946.2 460.7L947.7 458.6L949.2 456.8L950.7 453.5L952.2 450.3L953.8 446.2L955.3 441.2L956.8 434.8L958.3 429.4L959.8 423.6L961.4 417.4L962.9 411.6L964.4 404.9L965.9 399.8L967.4 394.0L969.0 389.6L970.5 385.8L972.0 383.1L973.5 380.7L975.0 379.8L976.6 379.4L978.1 380.5L979.6 383.5L981.1 386.5L982.6 389.7L984.2 394.4L985.7 399.6L987.2 405.1L988.7 409.8L990.2 414.4L991.8 418.1L993.3 423.1L994.8 427.4L996.3 431.1L997.8 434.6L999.4 437.6L1000.9 441.1L1002.4 443.4L1003.9 444.8L1005.4 446.2L1007.0 448.7L1008.5 448.9L1010.0 450.3L1011.5 451.2L1013.0 450.7L1014.6 451.6L1016.1 451.7L1017.6 452.3L1019.1 452.5L1020.6 453.3L1022.2 452.9L1023.7 452.9L1025.2 453.4L1026.7 453.0L1028.2 453.1L1029.8 454.2L1031.3 453.3L1032.8 453.6L1034.3 454.0L1035.8 453.9L1037.4 453.8L1038.9 455.2L1040.4 454.9L1041.9 455.3L1043.4 455.7L1045.0 455.8L1046.5 456.1L1048.0 456.9L1049.5 458.0L1051.0 457.8L1052.6 458.1L1054.1 457.6L1055.6 458.4L1057.1 458.3L1058.6 459.2L1060.2 459.1L1061.7 459.3L1063.2 459.4L1064.7 459.4L1066.2 459.2L1067.8 460.1L1069.3 459.6L1070.8 459.8L1072.3 460.2L1073.8 460.2L1075.4 460.7L1076.9 461.2L1078.4 461.1L1079.9 461.2L1081.4 461.3L1083.0 461.7L1084.5 460.9L1086.0 461.7L1087.5 461.4L1089.0 461.3L1090.6 461.8L1092.1 461.8L1093.6 462.2L1095.1 462.4L1096.6 461.2L1098.2 462.1L1099.7 462.8L1101.2 462.5L1101.4 462.7"/></defs>
<use href="#rg" fill="none" stroke="#ab0f34" stroke-opacity="0.35" stroke-width="6.5" stroke-linejoin="round"/>
<use href="#rg" fill="none" stroke="#ab0f34" stroke-width="4.3" stroke-linejoin="round"/>
<text transform="matrix(0.965 0 0 1 844.8 474.9)" font-size="33.5" text-anchor="end">0</text>
<text transform="matrix(0.965 0 0 1 844.8 427.1)" font-size="33.5" text-anchor="end">0.5</text>
<text transform="matrix(0.965 0 0 1 844.8 378)" font-size="33.5" text-anchor="end">1.0</text>
<text transform="matrix(0.965 0 0 1 844.8 329.0)" font-size="33.5" text-anchor="end">1.5</text>
<text transform="matrix(0.965 0 0 1 909 500.4)" font-size="33.5" text-anchor="middle">−20</text>
<text transform="matrix(0.965 0 0 1 975.9 500.4)" font-size="33.5" text-anchor="middle">0</text>
<text transform="matrix(0.965 0 0 1 1038.6 500.4)" font-size="33.5" text-anchor="middle">20</text>
<text transform="matrix(0.965 0 0 1 1099.8 500.4)" font-size="33.5" text-anchor="middle">40</text>
<text transform="matrix(0.95 0 0 1 980.3 298.8)" font-size="34.3" text-anchor="middle">Exp 7</text>
<text x="748.7" y="296.1" class="pl">(<tspan font-style="italic">g</tspan><tspan dx="2.4">)</tspan></text>
<path d="M1223.4 318.7V467H1470" fill="none" stroke="#1e1e1e" stroke-width="1.8"/>
<path d="M1223.4 417.9h4M1223.4 368.9h4M1223.4 319.9h4M1279.4 467v-4.3M1340.8 467v-4.3M1402.2 467v-4.3M1463.6 467v-4.3" stroke="#1e1e1e" stroke-width="1.8"/>
<path d="M1224.0 464.8L1225.5 464.8L1227.1 464.8L1228.6 464.8L1230.2 464.8L1231.7 464.8L1233.2 464.8L1234.8 464.8L1236.3 464.8L1237.8 464.8L1239.4 464.7L1240.9 464.7L1242.4 464.7L1244.0 464.7L1245.5 464.7L1247.0 464.7L1248.6 464.7L1250.1 464.7L1251.6 464.6L1253.2 464.6L1254.7 464.6L1256.2 464.6L1257.8 464.6L1259.3 464.6L1260.9 464.5L1262.4 464.5L1263.9 464.5L1265.5 464.5L1267.0 464.5L1268.5 464.4L1270.1 464.4L1271.6 464.4L1273.1 464.4L1274.7 464.3L1276.2 464.3L1277.7 464.3L1279.3 464.3L1280.8 464.2L1282.3 464.2L1283.9 464.1L1285.4 464.1L1286.9 464.0L1288.5 463.9L1290.0 463.8L1291.6 463.7L1293.1 463.6L1294.6 463.5L1296.2 463.4L1297.7 463.2L1299.2 463.1L1300.8 462.9L1302.3 462.7L1303.8 462.5L1305.4 462.2L1306.9 461.8L1308.4 461.2L1310.0 460.2L1311.5 458.8L1313.0 457.2L1314.6 455.1L1316.1 452.5L1317.6 449.3L1319.2 445.3L1320.7 440.5L1322.3 434.9L1323.8 428.3L1325.3 420.9L1326.9 412.7L1328.4 404.3L1329.9 396.4L1331.5 389.5L1333.0 383.5L1334.5 378.8L1336.1 375.4L1337.6 373.1L1339.1 369.1L1340.7 363.4L1342.2 361.9L1343.7 365.0L1345.3 369.6L1346.8 373.5L1348.3 376.4L1349.9 379.8L1351.4 383.9L1353.0 388.4L1354.5 393.1L1356.0 397.9L1357.6 402.8L1359.1 407.7L1360.6 412.2L1362.2 416.2L1363.7 419.8L1365.2 422.9L1366.8 425.4L1368.3 427.6L1369.8 429.4L1371.4 430.7L1372.9 431.6L1374.4 432.4L1376.0 433.1L1377.5 433.7L1379.0 434.1L1380.6 434.1L1382.1 434.2L1383.7 434.7L1385.2 435.1L1386.7 435.4L1388.3 435.7L1389.8 435.9L1391.3 436.1L1392.9 436.4L1394.4 436.6L1395.9 436.9L1397.5 437.2L1399.0 437.5L1400.5 437.9L1402.1 438.2L1403.6 438.6L1405.1 439.0L1406.7 439.3L1408.2 439.7L1409.7 440.1L1411.3 440.5L1412.8 441.0L1414.4 441.4L1415.9 441.9L1417.4 442.4L1419.0 442.8L1420.5 443.2L1422.0 443.6L1423.6 443.8L1425.1 444.1L1426.6 444.2L1428.2 444.4L1429.7 444.6L1431.2 444.8L1432.8 444.9L1434.3 445.0L1435.8 445.1L1437.4 445.2L1438.9 445.3L1440.4 445.4L1442.0 445.5L1443.5 445.5L1445.1 445.6L1446.6 445.7L1448.1 445.8L1449.7 445.9L1451.2 446.0L1452.7 446.1L1454.3 446.3L1455.8 446.4L1457.3 446.6L1458.9 446.8L1460.4 447.0L1461.9 447.2L1463.5 447.3L1465.0 447.5L1466.5 447.7L1468.1 447.9L1469.6 448.0L1469.1 448.0L1469.1 467L1469.6 467L1468.1 467L1466.5 467L1465.0 467L1463.5 467L1461.9 467L1460.4 467L1458.9 467L1457.3 467L1455.8 467L1454.3 467L1452.7 467L1451.2 467L1449.7 467L1448.1 467L1446.6 467L1445.1 467L1443.5 467L1442.0 467L1440.4 467L1438.9 467L1437.4 467L1435.8 467L1434.3 467L1432.8 467L1431.2 467L1429.7 467L1428.2 467L1426.6 467L1425.1 467L1423.6 467L1422.0 467L1420.5 467L1419.0 467L1417.4 467L1415.9 467L1414.4 467L1412.8 467L1411.3 467.0L1409.7 466.6L1408.2 466.2L1406.7 465.8L1405.1 465.4L1403.6 465.0L1402.1 464.6L1400.5 464.2L1399.0 463.9L1397.5 463.5L1395.9 463.1L1394.4 462.7L1392.9 462.3L1391.3 461.8L1389.8 461.2L1388.3 460.6L1386.7 460.0L1385.2 459.2L1383.7 458.3L1382.1 457.3L1380.6 455.9L1379.0 454.2L1377.5 452.3L1376.0 450.8L1374.4 449.1L1372.9 446.7L1371.4 443.6L1369.8 440.7L1368.3 438.2L1366.8 435.5L1365.2 432.5L1363.7 429.2L1362.2 425.5L1360.6 421.4L1359.1 416.8L1357.6 411.8L1356.0 406.8L1354.5 402.0L1353.0 397.3L1351.4 392.9L1349.9 389.0L1348.3 385.7L1346.8 383.2L1345.3 381.7L1343.7 381.2L1342.2 381.1L1340.7 381.0L1339.1 380.8L1337.6 381.7L1336.1 383.9L1334.5 387.2L1333.0 391.9L1331.5 397.7L1329.9 404.6L1328.4 412.4L1326.9 420.7L1325.3 428.7L1323.8 436.1L1322.3 442.5L1320.7 448.1L1319.2 452.7L1317.6 456.4L1316.1 459.4L1314.6 461.7L1313.0 463.4L1311.5 464.8L1310.0 465.9L1308.4 466.7L1306.9 467L1305.4 467L1303.8 467L1302.3 467L1300.8 467L1299.2 467L1297.7 467L1296.2 467L1294.6 467L1293.1 467L1291.6 467L1290.0 467L1288.5 467L1286.9 467L1285.4 467L1283.9 467L1282.3 467L1280.8 467L1279.3 467L1277.7 467L1276.2 467L1274.7 467L1273.1 467L1271.6 467L1270.1 467L1268.5 467L1267.0 467L1265.5 467L1263.9 467L1262.4 467L1260.9 467L1259.3 467L1257.8 467L1256.2 467L1254.7 467L1253.2 467L1251.6 467L1250.1 467L1248.6 467L1247.0 467L1245.5 467L1244.0 467L1242.4 467L1240.9 467L1239.4 467L1237.8 467L1236.3 467L1234.8 467L1233.2 467L1231.7 467L1230.2 467L1228.6 467L1227.1 467L1225.5 467L1224.0 467Z" fill="#b6b6b6"/>
<path d="M1224.0 466.3L1225.5 465.4L1227.1 465.6L1228.6 466.7L1230.2 466.8L1231.7 465.8L1233.2 466.1L1234.8 466.4L1236.3 465.2L1237.8 466.0L1239.4 467.2L1240.9 467.5L1242.4 466.1L1244.0 467.3L1245.5 465.9L1247.0 465.7L1248.6 464.8L1250.1 466.7L1251.6 465.9L1253.2 467.6L1254.7 466.4L1256.2 466.3L1257.8 465.1L1259.3 467.0L1260.9 465.9L1262.4 466.0L1263.9 464.8L1265.5 466.6L1267.0 466.7L1268.5 465.7L1270.1 466.1L1271.6 466.3L1273.1 466.6L1274.7 466.1L1276.2 467.0L1277.7 465.9L1279.3 465.6L1280.8 465.7L1282.3 464.4L1283.9 465.4L1285.4 466.5L1286.9 466.0L1288.5 465.3L1290.0 465.9L1291.6 464.4L1293.1 465.4L1294.6 465.8L1296.2 465.8L1297.7 464.7L1299.2 465.6L1300.8 466.1L1302.3 464.5L1303.8 465.0L1305.4 463.4L1306.9 462.8L1308.4 463.7L1310.0 462.5L1311.5 461.5L1313.0 459.6L1314.6 457.9L1316.1 456.2L1317.6 453.7L1319.2 448.7L1320.7 443.2L1322.3 439.3L1323.8 432.4L1325.3 425.0L1326.9 416.5L1328.4 409.4L1329.9 400.2L1331.5 393.5L1333.0 386.1L1334.5 382.2L1336.1 378.7L1337.6 376.8L1339.1 373.8L1340.7 369.1L1342.2 369.6L1343.7 370.4L1345.3 374.6L1346.8 378.4L1348.3 380.1L1349.9 384.4L1351.4 388.4L1353.0 392.2L1354.5 398.2L1356.0 402.0L1357.6 407.1L1359.1 411.3L1360.6 415.4L1362.2 420.2L1363.7 424.0L1365.2 427.3L1366.8 431.0L1368.3 431.8L1369.8 435.0L1371.4 436.7L1372.9 440.6L1374.4 441.2L1376.0 442.8L1377.5 443.8L1379.0 446.3L1380.6 446.6L1382.1 447.8L1383.7 447.2L1385.2 449.7L1386.7 450.0L1388.3 450.9L1389.8 452.1L1391.3 452.1L1392.9 452.9L1394.4 454.1L1395.9 454.5L1397.5 454.5L1399.0 455.0L1400.5 455.0L1402.1 456.1L1403.6 456.6L1405.1 456.3L1406.7 457.8L1408.2 456.0L1409.7 457.1L1411.3 458.6L1412.8 457.7L1414.4 457.4L1415.9 459.5L1417.4 459.4L1419.0 458.7L1420.5 460.2L1422.0 459.3L1423.6 459.3L1425.1 460.2L1426.6 460.1L1428.2 459.9L1429.7 460.4L1431.2 460.1L1432.8 460.8L1434.3 460.9L1435.8 461.4L1437.4 460.7L1438.9 460.2L1440.4 460.2L1442.0 460.8L1443.5 461.9L1445.1 461.5L1446.6 460.7L1448.1 461.6L1449.7 460.4L1451.2 461.8L1452.7 461.0L1454.3 461.8L1455.8 461.8L1457.3 461.3L1458.9 461.8L1460.4 461.1L1461.9 461.8L1463.5 462.7L1465.0 464.6L1466.5 462.7L1468.1 462.4L1469.6 461.9L1469.1 463.1" fill="none" stroke="#138374" stroke-width="2.1" stroke-linejoin="round"/>
<path d="M1224.0 465.2L1225.5 465.7L1227.1 466.4L1228.6 465.5L1230.2 467.1L1231.7 466.8L1233.2 465.8L1234.8 465.8L1236.3 465.4L1237.8 465.3L1239.4 466.4L1240.9 466.5L1242.4 466.3L1244.0 466.2L1245.5 465.7L1247.0 466.3L1248.6 465.1L1250.1 466.0L1251.6 466.9L1253.2 466.8L1254.7 465.7L1256.2 465.7L1257.8 466.7L1259.3 466.9L1260.9 464.9L1262.4 465.6L1263.9 465.9L1265.5 466.5L1267.0 465.2L1268.5 466.1L1270.1 465.5L1271.6 467.1L1273.1 465.9L1274.7 465.5L1276.2 465.3L1277.7 466.1L1279.3 465.9L1280.8 464.8L1282.3 465.5L1283.9 464.5L1285.4 464.8L1286.9 464.4L1288.5 464.3L1290.0 464.6L1291.6 464.3L1293.1 465.1L1294.6 465.1L1296.2 464.4L1297.7 463.7L1299.2 464.7L1300.8 462.8L1302.3 462.7L1303.8 464.0L1305.4 463.7L1306.9 463.4L1308.4 461.9L1310.0 460.2L1311.5 459.3L1313.0 458.3L1314.6 455.4L1316.1 452.9L1317.6 449.2L1319.2 445.4L1320.7 441.8L1322.3 435.9L1323.8 428.4L1325.3 421.0L1326.9 413.1L1328.4 405.4L1329.9 396.5L1331.5 390.1L1333.0 383.0L1334.5 378.8L1336.1 376.4L1337.6 374.4L1339.1 369.1L1340.7 363.7L1342.2 363.2L1343.7 365.5L1345.3 370.0L1346.8 374.6L1348.3 377.2L1349.9 381.2L1351.4 385.2L1353.0 388.9L1354.5 393.9L1356.0 398.9L1357.6 403.1L1359.1 408.3L1360.6 414.0L1362.2 416.4L1363.7 421.3L1365.2 423.8L1366.8 426.1L1368.3 428.7L1369.8 430.4L1371.4 432.1L1372.9 432.1L1374.4 433.0L1376.0 433.7L1377.5 435.6L1379.0 435.4L1380.6 434.7L1382.1 435.4L1383.7 435.7L1385.2 436.6L1386.7 437.0L1388.3 438.6L1389.8 436.4L1391.3 438.3L1392.9 438.2L1394.4 437.8L1395.9 438.5L1397.5 438.6L1399.0 439.4L1400.5 440.4L1402.1 439.3L1403.6 441.5L1405.1 440.9L1406.7 442.5L1408.2 442.3L1409.7 443.3L1411.3 443.3L1412.8 444.2L1414.4 444.1L1415.9 444.0L1417.4 445.4L1419.0 445.9L1420.5 447.2L1422.0 445.0L1423.6 446.3L1425.1 447.2L1426.6 445.9L1428.2 446.7L1429.7 448.2L1431.2 447.8L1432.8 446.5L1434.3 448.0L1435.8 447.9L1437.4 447.6L1438.9 447.4L1440.4 447.3L1442.0 446.7L1443.5 446.9L1445.1 447.7L1446.6 447.4L1448.1 448.4L1449.7 447.2L1451.2 446.0L1452.7 447.3L1454.3 447.8L1455.8 448.0L1457.3 447.9L1458.9 447.5L1460.4 449.1L1461.9 447.9L1463.5 448.9L1465.0 448.5L1466.5 448.1L1468.1 449.8L1469.6 447.6L1469.1 448.5" fill="none" stroke="#7b3f98" stroke-width="2.1" stroke-linejoin="round"/>
<path d="M1224.0 466.5L1225.5 466.1L1227.1 466.7L1228.6 466.2L1230.2 466.0L1231.7 467.6L1233.2 466.1L1234.8 466.2L1236.3 465.6L1237.8 465.8L1239.4 466.6L1240.9 466.6L1242.4 466.2L1244.0 465.8L1245.5 466.6L1247.0 465.2L1248.6 466.0L1250.1 466.0L1251.6 465.7L1253.2 466.3L1254.7 465.8L1256.2 465.7L1257.8 467.2L1259.3 466.6L1260.9 466.9L1262.4 466.2L1263.9 466.7L1265.5 466.6L1267.0 466.8L1268.5 467.5L1270.1 465.9L1271.6 466.2L1273.1 466.0L1274.7 463.9L1276.2 465.2L1277.7 466.0L1279.3 466.4L1280.8 465.6L1282.3 466.7L1283.9 466.7L1285.4 465.7L1286.9 466.7L1288.5 466.9L1290.0 466.0L1291.6 465.1L1293.1 466.5L1294.6 465.4L1296.2 465.1L1297.7 465.3L1299.2 464.8L1300.8 465.6L1302.3 465.3L1303.8 465.3L1305.4 464.7L1306.9 463.5L1308.4 463.3L1310.0 463.0L1311.5 461.1L1313.0 461.7L1314.6 458.0L1316.1 455.4L1317.6 453.4L1319.2 449.3L1320.7 444.2L1322.3 438.4L1323.8 432.3L1325.3 425.1L1326.9 416.9L1328.4 407.9L1329.9 400.4L1331.5 393.7L1333.0 387.7L1334.5 380.7L1336.1 378.6L1337.6 376.4L1339.1 375.2L1340.7 374.6L1342.2 374.9L1343.7 375.3L1345.3 376.3L1346.8 378.3L1348.3 381.9L1349.9 383.7L1351.4 388.2L1353.0 393.4L1354.5 397.3L1356.0 400.7L1357.6 407.2L1359.1 411.6L1360.6 416.5L1362.2 421.7L1363.7 425.5L1365.2 429.0L1366.8 433.3L1368.3 436.4L1369.8 439.5L1371.4 443.0L1372.9 446.0L1374.4 448.1L1376.0 449.7L1377.5 451.4L1379.0 452.1L1380.6 453.0L1382.1 455.4L1383.7 455.2L1385.2 455.9L1386.7 456.5L1388.3 457.2L1389.8 457.8L1391.3 458.4L1392.9 458.5L1394.4 460.1L1395.9 459.7L1397.5 461.2L1399.0 460.0L1400.5 461.0L1402.1 462.8L1403.6 462.7L1405.1 462.9L1406.7 464.0L1408.2 463.6L1409.7 464.7L1411.3 463.7L1412.8 465.1L1414.4 465.4L1415.9 466.4L1417.4 466.9L1419.0 466.1L1420.5 467.6L1422.0 466.3L1423.6 465.4L1425.1 465.2L1426.6 467.5L1428.2 466.6L1429.7 466.2L1431.2 466.2L1432.8 466.0L1434.3 467.4L1435.8 466.6L1437.4 467.7L1438.9 466.5L1440.4 465.2L1442.0 467.1L1443.5 466.4L1445.1 466.5L1446.6 467.5L1448.1 466.4L1449.7 467.3L1451.2 466.6L1452.7 466.2L1454.3 466.9L1455.8 466.2L1457.3 467.3L1458.9 467.2L1460.4 466.6L1461.9 467.0L1463.5 466.9L1465.0 466.4L1466.5 467.1L1468.1 466.5L1469.6 467.0L1469.1 466.0" fill="none" stroke="#cc2590" stroke-width="2.1" stroke-linejoin="round"/>
<defs><path id="rh" d="M1224.0 466.3L1225.5 466.4L1227.1 466.0L1228.6 466.1L1230.2 466.1L1231.7 466.5L1233.2 466.0L1234.8 466.4L1236.3 466.8L1237.8 466.4L1239.4 465.7L1240.9 466.3L1242.4 466.6L1244.0 466.1L1245.5 466.6L1247.0 466.4L1248.6 466.4L1250.1 466.1L1251.6 466.0L1253.2 466.1L1254.7 466.2L1256.2 466.4L1257.8 466.3L1259.3 466.1L1260.9 466.2L1262.4 466.3L1263.9 465.6L1265.5 465.9L1267.0 465.8L1268.5 466.0L1270.1 466.0L1271.6 466.0L1273.1 465.8L1274.7 466.3L1276.2 466.1L1277.7 465.5L1279.3 466.0L1280.8 465.6L1282.3 466.6L1283.9 465.8L1285.4 465.8L1286.9 465.9L1288.5 465.7L1290.0 465.7L1291.6 466.2L1293.1 465.7L1294.6 465.8L1296.2 465.8L1297.7 464.9L1299.2 465.7L1300.8 465.2L1302.3 465.1L1303.8 464.3L1305.4 464.7L1306.9 464.1L1308.4 463.2L1310.0 463.3L1311.5 461.6L1313.0 459.9L1314.6 458.2L1316.1 456.1L1317.6 453.1L1319.2 449.1L1320.7 444.6L1322.3 439.1L1323.8 431.6L1325.3 424.4L1326.9 416.1L1328.4 408.1L1329.9 400.7L1331.5 393.4L1333.0 386.9L1334.5 382.4L1336.1 379.5L1337.6 376.7L1339.1 375.3L1340.7 374.6L1342.2 373.7L1343.7 375.2L1345.3 376.5L1346.8 378.5L1348.3 380.5L1349.9 383.8L1351.4 387.8L1353.0 392.5L1354.5 397.1L1356.0 402.0L1357.6 407.6L1359.1 412.3L1360.6 416.2L1362.2 420.4L1363.7 424.9L1365.2 427.5L1366.8 431.0L1368.3 433.8L1369.8 435.5L1371.4 437.8L1372.9 439.9L1374.4 441.3L1376.0 442.8L1377.5 444.4L1379.0 446.1L1380.6 446.7L1382.1 447.7L1383.7 448.3L1385.2 448.5L1386.7 449.9L1388.3 449.0L1389.8 449.9L1391.3 450.6L1392.9 450.2L1394.4 451.2L1395.9 451.8L1397.5 451.4L1399.0 452.2L1400.5 452.1L1402.1 453.0L1403.6 453.3L1405.1 453.7L1406.7 454.5L1408.2 454.6L1409.7 455.3L1411.3 455.5L1412.8 455.3L1414.4 456.2L1415.9 456.7L1417.4 456.5L1419.0 457.9L1420.5 457.8L1422.0 458.1L1423.6 457.9L1425.1 458.4L1426.6 458.6L1428.2 458.5L1429.7 458.7L1431.2 458.1L1432.8 459.3L1434.3 458.5L1435.8 458.2L1437.4 458.6L1438.9 458.7L1440.4 459.2L1442.0 458.6L1443.5 459.1L1445.1 458.6L1446.6 459.7L1448.1 459.2L1449.7 459.6L1451.2 458.6L1452.7 459.2L1454.3 458.7L1455.8 459.3L1457.3 459.4L1458.9 458.7L1460.4 458.9L1461.9 459.0L1463.5 458.9L1465.0 459.3L1466.5 459.2L1468.1 459.1L1469.6 459.7L1469.1 459.8"/></defs>
<use href="#rh" fill="none" stroke="#ab0f34" stroke-opacity="0.35" stroke-width="6.5" stroke-linejoin="round"/>
<use href="#rh" fill="none" stroke="#ab0f34" stroke-width="4.3" stroke-linejoin="round"/>
<text transform="matrix(0.965 0 0 1 1209.3 474.9)" font-size="33.5" text-anchor="end">0</text>
<text transform="matrix(0.965 0 0 1 1209.3 427.1)" font-size="33.5" text-anchor="end">0.5</text>
<text transform="matrix(0.965 0 0 1 1209.3 378)" font-size="33.5" text-anchor="end">1.0</text>
<text transform="matrix(0.965 0 0 1 1209.3 329.0)" font-size="33.5" text-anchor="end">1.5</text>
<text transform="matrix(0.965 0 0 1 1273.4 500.4)" font-size="33.5" text-anchor="middle">−20</text>
<text transform="matrix(0.965 0 0 1 1340.9 500.4)" font-size="33.5" text-anchor="middle">0</text>
<text transform="matrix(0.965 0 0 1 1403.2 500.4)" font-size="33.5" text-anchor="middle">20</text>
<text transform="matrix(0.965 0 0 1 1463.5 500.4)" font-size="33.5" text-anchor="middle">40</text>
<text transform="matrix(0.95 0 0 1 1344.8 298.8)" font-size="34.3" text-anchor="middle">Exp 8</text>
<text x="1111.8" y="294.2" class="pl">(<tspan font-style="italic">h</tspan><tspan dx="-1.9">)</tspan></text>
<path d="M119.9 588.8V737H367" fill="none" stroke="#1e1e1e" stroke-width="1.8"/>
<path d="M119.9 688h4M119.9 639h4M119.9 590h4M175.1 737v-4.3M237.5 737v-4.3M299.9 737v-4.3M362.3 737v-4.3" stroke="#1e1e1e" stroke-width="1.8"/>
<path d="M120.5 735.0L122.1 735.0L123.6 735.0L125.2 735.0L126.8 735.0L128.3 735.0L129.9 735.0L131.4 735.0L133.0 735.0L134.6 735.0L136.1 735.0L137.7 735.0L139.2 735.0L140.8 735.0L142.4 735.0L143.9 735.0L145.5 735.0L147.0 735.0L148.6 735.0L150.2 735.0L151.7 735.0L153.3 735.0L154.8 735.0L156.4 735.0L158.0 735.0L159.5 735.0L161.1 735.0L162.6 735.0L164.2 735.0L165.8 735.0L167.3 735.0L168.9 735.0L170.4 735.0L172.0 735.0L173.6 734.9L175.1 734.9L176.7 734.9L178.2 734.9L179.8 734.9L181.4 734.9L182.9 734.8L184.5 734.8L186.0 734.8L187.6 734.7L189.2 734.6L190.7 734.6L192.3 734.5L193.8 734.4L195.4 734.3L197.0 734.2L198.5 734.1L200.1 733.9L201.6 733.8L203.2 733.5L204.8 733.0L206.3 732.2L207.9 731.1L209.4 729.6L211.0 727.8L212.6 725.6L214.1 722.9L215.7 719.5L217.2 715.3L218.8 710.1L220.4 703.8L221.9 696.5L223.5 688.2L225.0 679.6L226.6 671.6L228.2 664.5L229.7 658.5L231.3 653.8L232.8 650.3L234.4 648.0L236.0 646.0L237.5 643.6L239.1 643.9L240.6 646.4L242.2 648.2L243.8 650.4L245.3 653.4L246.9 657.3L248.4 661.9L250.0 666.9L251.6 671.9L253.1 676.9L254.7 681.8L256.2 686.7L257.8 691.3L259.4 695.7L260.9 699.8L262.5 703.7L264.0 707.2L265.6 710.4L267.2 713.4L268.7 716.0L270.3 718.1L271.8 719.8L273.4 721.1L275.0 722.1L276.5 722.8L278.1 723.3L279.6 723.7L281.2 723.9L282.8 724.0L284.3 724.2L285.9 724.3L287.4 724.4L289.0 724.5L290.6 724.7L292.1 724.8L293.7 725.0L295.2 725.2L296.8 725.5L298.4 725.7L299.9 725.9L301.5 726.2L303.0 726.5L304.6 726.8L306.2 727.1L307.7 727.5L309.3 727.9L310.8 728.3L312.4 728.7L314.0 729.1L315.5 729.5L317.1 729.8L318.6 730.1L320.2 730.3L321.8 730.5L323.3 730.7L324.9 730.9L326.4 731.1L328.0 731.2L329.6 731.3L331.1 731.4L332.7 731.5L334.2 731.6L335.8 731.7L337.4 731.8L338.9 731.9L340.5 732.0L342.0 732.1L343.6 732.1L345.2 732.2L346.7 732.2L348.3 732.3L349.8 732.4L351.4 732.4L353.0 732.5L354.5 732.6L356.1 732.6L357.6 732.7L359.2 732.7L360.8 732.8L362.3 732.8L363.9 732.8L365.4 732.8L366.1 732.8L366.1 736.1L365.4 736.1L363.9 736.1L362.3 736.0L360.8 736.0L359.2 735.9L357.6 735.8L356.1 735.7L354.5 735.6L353.0 735.5L351.4 735.4L349.8 735.3L348.3 735.3L346.7 735.2L345.2 735.1L343.6 735.1L342.0 735.0L340.5 734.9L338.9 734.8L337.4 734.8L335.8 734.7L334.2 734.6L332.7 734.5L331.1 734.4L329.6 734.3L328.0 734.1L326.4 734.0L324.9 733.8L323.3 733.7L321.8 733.5L320.2 733.3L318.6 733.0L317.1 732.8L315.5 732.4L314.0 732.1L312.4 731.7L310.8 731.2L309.3 730.8L307.7 730.4L306.2 730.0L304.6 729.7L303.0 729.4L301.5 729.1L299.9 728.9L298.4 728.6L296.8 728.4L295.2 728.2L293.7 728.0L292.1 727.8L290.6 727.6L289.0 727.5L287.4 727.3L285.9 727.2L284.3 727.1L282.8 727.0L281.2 726.8L279.6 726.6L278.1 726.3L276.5 725.8L275.0 725.0L273.4 724.0L271.8 722.7L270.3 721.0L268.7 718.9L267.2 716.3L265.6 713.4L264.0 710.1L262.5 706.6L260.9 702.7L259.4 698.6L257.8 694.2L256.2 689.6L254.7 684.8L253.1 679.8L251.6 674.8L250.0 669.8L248.4 664.8L246.9 660.2L245.3 656.3L243.8 653.4L242.2 651.2L240.6 649.6L239.1 648.7L237.5 648.6L236.0 649.3L234.4 650.9L232.8 653.3L231.3 656.7L229.7 661.4L228.2 667.4L226.6 674.5L225.0 682.5L223.5 691.1L221.9 699.4L220.4 706.8L218.8 713.0L217.2 718.2L215.7 722.4L214.1 725.8L212.6 728.6L211.0 730.8L209.4 732.6L207.9 734.0L206.3 735.2L204.8 736.0L203.2 736.4L201.6 736.7L200.1 736.9L198.5 737L197.0 737L195.4 737L193.8 737L192.3 737L190.7 737L189.2 737L187.6 737L186.0 737L184.5 737L182.9 737L181.4 737L179.8 737L178.2 737L176.7 737L175.1 737L173.6 737L172.0 737L170.4 737L168.9 737L167.3 737L165.8 737L164.2 737L162.6 737L161.1 737L159.5 737L158.0 737L156.4 737L154.8 737L153.3 737L151.7 737L150.2 737L148.6 737L147.0 737L145.5 737L143.9 737L142.4 737L140.8 737L139.2 737L137.7 737L136.1 737L134.6 737L133.0 737L131.4 737L129.9 737L128.3 737L126.8 737L125.2 737L123.6 737L122.1 737L120.5 737Z" fill="#b6b6b6"/>
<path d="M120.5 735.7L122.1 736.2L123.6 736.5L125.2 736.4L126.8 736.1L128.3 737.0L129.9 737.0L131.4 736.9L133.0 736.4L134.6 737.7L136.1 737.5L137.7 736.3L139.2 736.4L140.8 737.2L142.4 736.0L143.9 736.7L145.5 736.5L147.0 736.1L148.6 736.3L150.2 735.5L151.7 736.1L153.3 735.3L154.8 737.8L156.4 737.4L158.0 737.2L159.5 736.6L161.1 737.1L162.6 737.2L164.2 737.1L165.8 737.0L167.3 735.9L168.9 736.7L170.4 736.1L172.0 735.7L173.6 735.7L175.1 736.7L176.7 737.0L178.2 735.6L179.8 737.4L181.4 737.2L182.9 736.1L184.5 736.0L186.0 736.2L187.6 736.8L189.2 735.9L190.7 735.4L192.3 736.2L193.8 734.6L195.4 735.9L197.0 736.4L198.5 735.7L200.1 735.9L201.6 735.5L203.2 735.4L204.8 734.6L206.3 733.2L207.9 732.4L209.4 731.0L211.0 730.1L212.6 728.1L214.1 724.6L215.7 720.5L217.2 716.3L218.8 711.4L220.4 706.1L221.9 698.2L223.5 689.6L225.0 680.6L226.6 673.6L228.2 666.1L229.7 659.9L231.3 655.3L232.8 652.8L234.4 649.3L236.0 647.7L237.5 645.1L239.1 644.7L240.6 647.7L242.2 649.6L243.8 651.4L245.3 654.7L246.9 658.2L248.4 663.7L250.0 668.3L251.6 673.7L253.1 678.8L254.7 681.4L256.2 688.3L257.8 691.7L259.4 697.2L260.9 700.7L262.5 705.2L264.0 709.5L265.6 710.9L267.2 715.0L268.7 717.4L270.3 718.4L271.8 721.6L273.4 722.5L275.0 723.2L276.5 723.8L278.1 726.7L279.6 724.9L281.2 724.2L282.8 724.9L284.3 725.4L285.9 725.5L287.4 725.8L289.0 725.3L290.6 726.4L292.1 726.0L293.7 725.6L295.2 726.2L296.8 726.6L298.4 727.6L299.9 727.6L301.5 727.4L303.0 727.9L304.6 728.3L306.2 729.7L307.7 728.5L309.3 729.5L310.8 730.1L312.4 729.5L314.0 730.6L315.5 730.9L317.1 730.9L318.6 731.7L320.2 732.2L321.8 732.5L323.3 731.9L324.9 732.3L326.4 733.7L328.0 731.8L329.6 732.7L331.1 733.2L332.7 732.8L334.2 733.2L335.8 733.0L337.4 733.4L338.9 733.8L340.5 732.9L342.0 733.2L343.6 733.1L345.2 733.0L346.7 733.3L348.3 732.6L349.8 733.8L351.4 734.4L353.0 734.5L354.5 734.2L356.1 732.9L357.6 734.4L359.2 733.1L360.8 733.5L362.3 734.7L363.9 733.0L365.4 734.1L366.1 733.8" fill="none" stroke="#138374" stroke-width="2.1" stroke-linejoin="round"/>
<path d="M120.5 736.4L122.1 736.0L123.6 736.8L125.2 736.2L126.8 737.1L128.3 737.2L129.9 735.7L131.4 736.2L133.0 736.3L134.6 735.8L136.1 735.8L137.7 736.5L139.2 736.4L140.8 735.5L142.4 736.2L143.9 736.8L145.5 735.8L147.0 735.9L148.6 737.4L150.2 737.3L151.7 735.5L153.3 735.7L154.8 736.7L156.4 735.7L158.0 736.3L159.5 736.2L161.1 736.8L162.6 734.9L164.2 735.1L165.8 735.7L167.3 737.0L168.9 736.3L170.4 735.4L172.0 736.7L173.6 736.8L175.1 736.3L176.7 736.2L178.2 736.7L179.8 737.1L181.4 736.4L182.9 736.6L184.5 736.2L186.0 736.0L187.6 735.6L189.2 736.3L190.7 735.9L192.3 735.8L193.8 736.4L195.4 736.1L197.0 736.2L198.5 734.6L200.1 735.7L201.6 734.9L203.2 734.5L204.8 734.0L206.3 734.4L207.9 733.0L209.4 730.7L211.0 728.6L212.6 727.1L214.1 724.1L215.7 722.0L217.2 715.9L218.8 710.4L220.4 705.1L221.9 698.0L223.5 689.7L225.0 681.5L226.6 674.3L228.2 665.7L229.7 659.6L231.3 654.2L232.8 651.9L234.4 649.9L236.0 647.7L237.5 647.8L239.1 647.2L240.6 649.0L242.2 649.9L243.8 651.3L245.3 654.5L246.9 657.8L248.4 662.3L250.0 668.5L251.6 673.9L253.1 679.5L254.7 683.3L256.2 688.0L257.8 692.1L259.4 697.7L260.9 701.5L262.5 704.8L264.0 709.1L265.6 712.2L267.2 713.7L268.7 717.9L270.3 719.7L271.8 721.0L273.4 722.3L275.0 724.6L276.5 725.2L278.1 725.9L279.6 724.4L281.2 725.0L282.8 726.1L284.3 724.9L285.9 725.3L287.4 724.8L289.0 727.1L290.6 726.8L292.1 726.6L293.7 726.6L295.2 726.5L296.8 726.7L298.4 727.5L299.9 727.0L301.5 728.4L303.0 727.7L304.6 727.7L306.2 729.4L307.7 728.9L309.3 729.7L310.8 729.5L312.4 728.8L314.0 730.9L315.5 730.2L317.1 732.0L318.6 730.6L320.2 730.7L321.8 732.2L323.3 732.5L324.9 732.4L326.4 731.8L328.0 733.2L329.6 731.9L331.1 732.6L332.7 732.5L334.2 732.9L335.8 733.7L337.4 732.9L338.9 733.7L340.5 733.9L342.0 732.5L343.6 732.9L345.2 733.4L346.7 733.4L348.3 734.0L349.8 732.7L351.4 734.3L353.0 734.4L354.5 733.9L356.1 733.2L357.6 734.1L359.2 733.9L360.8 734.6L362.3 734.2L363.9 734.7L365.4 734.1L366.1 735.2" fill="none" stroke="#7b3f98" stroke-width="2.1" stroke-linejoin="round"/>
<path d="M120.5 735.1L122.1 735.9L123.6 736.8L125.2 735.6L126.8 736.9L128.3 735.8L129.9 736.6L131.4 735.9L133.0 736.2L134.6 736.6L136.1 736.4L137.7 736.3L139.2 737.8L140.8 736.5L142.4 735.9L143.9 737.0L145.5 737.0L147.0 737.2L148.6 737.5L150.2 735.9L151.7 737.1L153.3 737.1L154.8 736.5L156.4 736.6L158.0 734.7L159.5 736.1L161.1 737.5L162.6 735.4L164.2 736.1L165.8 736.6L167.3 736.8L168.9 737.4L170.4 735.4L172.0 736.4L173.6 736.9L175.1 735.6L176.7 736.4L178.2 737.5L179.8 737.2L181.4 736.7L182.9 734.7L184.5 736.2L186.0 736.5L187.6 736.0L189.2 736.1L190.7 737.9L192.3 735.8L193.8 735.3L195.4 735.9L197.0 735.5L198.5 735.4L200.1 735.3L201.6 735.7L203.2 735.1L204.8 733.8L206.3 733.6L207.9 732.8L209.4 730.8L211.0 730.0L212.6 727.6L214.1 723.8L215.7 721.2L217.2 717.9L218.8 712.5L220.4 705.3L221.9 698.5L223.5 689.3L225.0 680.2L226.6 673.4L228.2 666.1L229.7 660.3L231.3 655.2L232.8 652.0L234.4 649.1L236.0 648.2L237.5 647.6L239.1 647.2L240.6 648.6L242.2 648.6L243.8 651.4L245.3 655.7L246.9 659.8L248.4 663.5L250.0 668.3L251.6 672.6L253.1 678.6L254.7 683.8L256.2 687.3L257.8 693.1L259.4 697.4L260.9 701.5L262.5 704.5L264.0 709.0L265.6 711.0L267.2 715.7L268.7 717.5L270.3 718.9L271.8 722.0L273.4 723.2L275.0 723.2L276.5 725.6L278.1 724.2L279.6 725.3L281.2 726.1L282.8 724.1L284.3 726.2L285.9 725.7L287.4 725.9L289.0 725.3L290.6 726.3L292.1 725.6L293.7 725.9L295.2 726.4L296.8 726.2L298.4 728.1L299.9 726.6L301.5 727.2L303.0 727.8L304.6 728.2L306.2 729.1L307.7 729.4L309.3 729.2L310.8 729.5L312.4 730.2L314.0 731.1L315.5 731.4L317.1 731.0L318.6 730.3L320.2 733.1L321.8 732.6L323.3 732.4L324.9 732.6L326.4 732.2L328.0 732.1L329.6 732.6L331.1 732.8L332.7 732.7L334.2 732.3L335.8 733.1L337.4 733.7L338.9 733.2L340.5 733.7L342.0 732.6L343.6 733.8L345.2 734.0L346.7 733.5L348.3 733.3L349.8 734.7L351.4 734.1L353.0 735.0L354.5 734.6L356.1 735.3L357.6 734.8L359.2 734.2L360.8 735.1L362.3 735.1L363.9 735.7L365.4 735.0L366.1 735.1" fill="none" stroke="#cc2590" stroke-width="2.1" stroke-linejoin="round"/>
<defs><path id="ri" d="M120.5 736.8L122.1 736.9L123.6 736.8L125.2 736.9L126.8 736.7L128.3 736.8L129.9 736.8L131.4 736.6L133.0 736.5L134.6 736.5L136.1 737.3L137.7 736.5L139.2 736.4L140.8 736.4L142.4 736.5L143.9 736.6L145.5 736.1L147.0 735.8L148.6 736.6L150.2 735.9L151.7 736.6L153.3 736.5L154.8 736.9L156.4 737.0L158.0 736.6L159.5 736.3L161.1 736.0L162.6 736.2L164.2 736.5L165.8 735.7L167.3 736.5L168.9 736.4L170.4 736.7L172.0 736.3L173.6 736.5L175.1 736.2L176.7 736.2L178.2 735.8L179.8 736.4L181.4 736.9L182.9 736.4L184.5 736.4L186.0 735.9L187.6 736.7L189.2 735.8L190.7 736.3L192.3 736.0L193.8 735.5L195.4 736.1L197.0 735.7L198.5 735.6L200.1 735.6L201.6 735.2L203.2 734.8L204.8 734.7L206.3 733.6L207.9 732.6L209.4 730.9L211.0 728.8L212.6 726.9L214.1 724.2L215.7 721.0L217.2 717.2L218.8 710.9L220.4 705.3L221.9 697.2L223.5 689.3L225.0 680.9L226.6 672.2L228.2 665.3L229.7 660.0L231.3 655.2L232.8 651.8L234.4 649.1L236.0 648.6L237.5 647.1L239.1 646.9L240.6 648.7L242.2 649.9L243.8 651.8L245.3 655.3L246.9 658.8L248.4 663.6L250.0 668.4L251.6 673.0L253.1 678.7L254.7 683.4L256.2 687.8L257.8 692.5L259.4 697.5L260.9 701.1L262.5 705.1L264.0 708.9L265.6 712.0L267.2 714.3L268.7 717.7L270.3 719.9L271.8 721.5L273.4 723.1L275.0 723.7L276.5 724.6L278.1 725.4L279.6 725.0L281.2 726.0L282.8 726.1L284.3 725.9L285.9 726.4L287.4 726.2L289.0 725.7L290.6 726.5L292.1 726.4L293.7 726.6L295.2 726.8L296.8 727.4L298.4 727.4L299.9 727.2L301.5 727.8L303.0 728.2L304.6 728.0L306.2 728.4L307.7 728.8L309.3 729.1L310.8 729.9L312.4 730.5L314.0 731.3L315.5 731.4L317.1 731.7L318.6 732.0L320.2 732.3L321.8 731.9L323.3 732.4L324.9 732.5L326.4 732.5L328.0 732.5L329.6 732.6L331.1 732.8L332.7 732.6L334.2 733.3L335.8 733.2L337.4 733.3L338.9 733.5L340.5 733.7L342.0 733.3L343.6 733.6L345.2 733.1L346.7 732.9L348.3 733.1L349.8 734.4L351.4 733.3L353.0 734.1L354.5 734.5L356.1 733.9L357.6 734.7L359.2 734.8L360.8 734.6L362.3 735.1L363.9 734.5L365.4 734.1L366.1 734.5"/></defs>
<use href="#ri" fill="none" stroke="#ab0f34" stroke-opacity="0.35" stroke-width="6.5" stroke-linejoin="round"/>
<use href="#ri" fill="none" stroke="#ab0f34" stroke-width="4.3" stroke-linejoin="round"/>
<text transform="matrix(0.965 0 0 1 109.3 744.9)" font-size="33.5" text-anchor="end">0</text>
<text transform="matrix(0.965 0 0 1 109.3 697.1)" font-size="33.5" text-anchor="end">0.5</text>
<text transform="matrix(0.965 0 0 1 109.3 648.1)" font-size="33.5" text-anchor="end">1.0</text>
<text transform="matrix(0.965 0 0 1 109.3 599.1)" font-size="33.5" text-anchor="end">1.5</text>
<text transform="matrix(0.965 0 0 1 171.6 770.4)" font-size="33.5" text-anchor="middle">−20</text>
<text transform="matrix(0.965 0 0 1 238.7 770.4)" font-size="33.5" text-anchor="middle">0</text>
<text transform="matrix(0.965 0 0 1 299.6 770.4)" font-size="33.5" text-anchor="middle">20</text>
<text transform="matrix(0.965 0 0 1 362 770.4)" font-size="33.5" text-anchor="middle">40</text>
<text transform="matrix(0.95 0 0 1 242.4 573.2)" font-size="34.3" text-anchor="middle">Exp 9</text>
<text x="17.1" y="568" class="pl">(<tspan font-style="italic">i</tspan><tspan dx="-1.7">)</tspan></text>
<path d="M488.2 588.8V737H733.9" fill="none" stroke="#1e1e1e" stroke-width="1.8"/>
<path d="M488.2 688h4M488.2 639h4M488.2 590h4M542.8 737v-4.3M604.8 737v-4.3M666.8 737v-4.3M728.8 737v-4.3" stroke="#1e1e1e" stroke-width="1.8"/>
<path d="M488.8 735.0L490.4 735.0L491.9 735.0L493.5 735.0L495.0 735.0L496.6 735.0L498.1 735.0L499.7 735.0L501.2 735.0L502.8 735.0L504.3 735.0L505.9 734.9L507.4 734.9L509.0 734.9L510.5 734.9L512.1 734.9L513.6 734.9L515.2 734.9L516.7 734.9L518.3 734.9L519.8 734.9L521.4 734.9L522.9 734.8L524.5 734.8L526.0 734.8L527.6 734.8L529.1 734.8L530.7 734.8L532.2 734.8L533.8 734.8L535.3 734.7L536.9 734.7L538.4 734.7L540.0 734.7L541.5 734.7L543.1 734.7L544.6 734.6L546.2 734.6L547.7 734.6L549.3 734.5L550.8 734.5L552.4 734.4L553.9 734.3L555.5 734.3L557.0 734.2L558.6 734.1L560.1 733.9L561.7 733.8L563.2 733.7L564.8 733.5L566.3 733.3L567.9 733.2L569.4 733.0L571.0 732.7L572.5 732.3L574.1 731.7L575.6 730.9L577.2 729.8L578.7 728.5L580.3 726.7L581.8 724.3L583.4 721.0L584.9 716.6L586.5 711.0L588.0 704.3L589.6 696.9L591.1 689.0L592.7 680.7L594.2 672.5L595.8 664.7L597.3 657.7L598.9 652.3L600.4 648.5L602.0 646.2L603.5 642.0L605.1 639.3L606.6 641.4L608.2 645.2L609.7 646.9L611.3 649.1L612.8 652.0L614.4 655.6L615.9 659.9L617.5 664.6L619.0 669.4L620.6 674.2L622.1 679.2L623.7 684.1L625.2 688.8L626.8 693.4L628.3 697.7L629.9 701.7L631.4 705.3L633.0 708.5L634.5 711.4L636.1 713.7L637.6 715.5L639.2 716.7L640.7 717.5L642.3 718.2L643.8 718.6L645.4 719.0L646.9 719.3L648.5 719.5L650.0 719.6L651.6 719.7L653.1 719.8L654.7 719.8L656.2 719.9L657.8 719.9L659.3 719.9L660.9 720.0L662.4 720.0L664.0 720.1L665.5 720.2L667.1 720.3L668.6 720.4L670.2 720.6L671.7 720.7L673.3 720.8L674.8 721.0L676.4 721.3L677.9 721.7L679.5 722.1L681.0 722.6L682.6 723.0L684.1 723.4L685.7 723.8L687.2 724.1L688.8 724.4L690.3 724.6L691.9 724.8L693.4 725.0L695.0 725.2L696.5 725.3L698.1 725.4L699.6 725.5L701.2 725.6L702.7 725.7L704.3 725.8L705.8 725.9L707.4 726.0L708.9 726.0L710.5 726.1L712.0 726.2L713.6 726.2L715.1 726.3L716.7 726.5L718.2 726.6L719.8 726.7L721.3 726.9L722.9 727.0L724.4 727.2L726.0 727.3L727.5 727.4L729.1 727.6L730.6 727.7L732.2 727.8L733.0 727.8L733.0 735.4L732.2 735.4L730.6 735.4L729.1 735.4L727.5 735.4L726.0 735.3L724.4 735.3L722.9 735.2L721.3 735.1L719.8 735.1L718.2 735.0L716.7 734.9L715.1 734.9L713.6 734.8L712.0 734.8L710.5 734.8L708.9 734.8L707.4 734.7L705.8 734.7L704.3 734.7L702.7 734.6L701.2 734.6L699.6 734.5L698.1 734.4L696.5 734.3L695.0 734.2L693.4 734.0L691.9 733.9L690.3 733.7L688.8 733.5L687.2 733.2L685.7 732.9L684.1 732.5L682.6 732.0L681.0 731.5L679.5 730.9L677.9 730.6L676.4 730.2L674.8 729.8L673.3 729.5L671.7 729.2L670.2 728.9L668.6 728.6L667.1 728.4L665.5 728.1L664.0 727.9L662.4 727.7L660.9 727.4L659.3 727.2L657.8 727.1L656.2 726.9L654.7 726.7L653.1 726.5L651.6 726.3L650.0 726.1L648.5 725.9L646.9 725.6L645.4 725.2L643.8 724.7L642.3 724.2L640.7 723.5L639.2 722.6L637.6 721.3L636.1 719.4L634.5 716.6L633.0 713.3L631.4 710.1L629.9 706.5L628.3 702.4L626.8 698.0L625.2 693.4L623.7 688.7L622.1 683.7L620.6 678.8L619.0 673.9L617.5 669.1L615.9 664.4L614.4 660.0L612.8 656.3L611.3 653.5L609.7 651.2L608.2 649.6L606.6 648.6L605.1 648.4L603.5 648.9L602.0 650.3L600.4 652.7L598.9 656.4L597.3 661.8L595.8 668.8L594.2 676.6L592.7 684.7L591.1 693.0L589.6 700.9L588.0 708.3L586.5 714.9L584.9 720.5L583.4 724.9L581.8 728.1L580.3 730.5L578.7 732.3L577.2 733.6L575.6 734.6L574.1 735.4L572.5 736.0L571.0 736.4L569.4 736.6L567.9 736.8L566.3 737.0L564.8 737L563.2 737L561.7 737L560.1 737L558.6 737L557.0 737L555.5 737L553.9 737L552.4 737L550.8 737L549.3 737L547.7 737L546.2 737L544.6 737L543.1 737L541.5 737L540.0 737L538.4 737L536.9 737L535.3 737L533.8 737L532.2 737L530.7 737L529.1 737L527.6 737L526.0 737L524.5 737L522.9 737L521.4 737L519.8 737L518.3 737L516.7 737L515.2 737L513.6 737L512.1 737L510.5 737L509.0 737L507.4 737L505.9 737L504.3 737L502.8 737L501.2 737L499.7 737L498.1 737L496.6 737L495.0 737L493.5 737L491.9 737L490.4 737L488.8 737Z" fill="#b6b6b6"/>
<path d="M488.8 736.2L490.4 735.7L491.9 735.7L493.5 737.9L495.0 736.1L496.6 736.5L498.1 736.1L499.7 736.5L501.2 736.3L502.8 736.2L504.3 735.7L505.9 735.6L507.4 736.0L509.0 736.6L510.5 737.7L512.1 737.1L513.6 737.5L515.2 736.7L516.7 736.3L518.3 735.6L519.8 736.4L521.4 735.1L522.9 736.2L524.5 737.3L526.0 736.5L527.6 737.0L529.1 736.1L530.7 735.5L532.2 736.0L533.8 736.1L535.3 737.0L536.9 737.5L538.4 735.8L540.0 736.0L541.5 736.2L543.1 736.0L544.6 735.5L546.2 736.2L547.7 736.4L549.3 736.3L550.8 735.3L552.4 735.9L553.9 734.9L555.5 736.4L557.0 735.1L558.6 735.5L560.1 735.3L561.7 735.1L563.2 734.6L564.8 734.1L566.3 736.0L567.9 735.0L569.4 734.8L571.0 735.6L572.5 733.9L574.1 733.7L575.6 732.5L577.2 732.2L578.7 730.4L580.3 728.6L581.8 725.8L583.4 722.9L584.9 719.0L586.5 711.4L588.0 706.0L589.6 698.4L591.1 690.5L592.7 681.2L594.2 674.7L595.8 665.9L597.3 659.3L598.9 653.7L600.4 649.3L602.0 647.5L603.5 641.7L605.1 639.5L606.6 642.1L608.2 646.0L609.7 648.8L611.3 650.8L612.8 655.1L614.4 657.7L615.9 661.0L617.5 666.1L619.0 670.8L620.6 676.0L622.1 680.7L623.7 685.4L625.2 691.7L626.8 695.3L628.3 699.4L629.9 703.5L631.4 707.1L633.0 711.3L634.5 713.6L636.1 716.3L637.6 715.6L639.2 718.9L640.7 720.1L642.3 721.3L643.8 720.6L645.4 719.9L646.9 721.5L648.5 720.9L650.0 720.2L651.6 720.8L653.1 721.8L654.7 721.8L656.2 721.4L657.8 720.3L659.3 722.4L660.9 720.2L662.4 720.9L664.0 720.2L665.5 721.9L667.1 721.4L668.6 721.8L670.2 721.4L671.7 721.4L673.3 721.7L674.8 720.7L676.4 722.7L677.9 723.0L679.5 722.7L681.0 723.4L682.6 724.0L684.1 725.2L685.7 724.9L687.2 725.0L688.8 724.9L690.3 724.5L691.9 725.3L693.4 725.9L695.0 725.8L696.5 726.2L698.1 726.7L699.6 726.6L701.2 726.6L702.7 726.9L704.3 726.7L705.8 726.7L707.4 727.0L708.9 725.8L710.5 727.6L712.0 726.2L713.6 727.6L715.1 727.2L716.7 727.9L718.2 727.4L719.8 727.0L721.3 728.3L722.9 727.9L724.4 728.0L726.0 728.2L727.5 728.9L729.1 728.9L730.6 728.6L732.2 727.7L733.0 728.4" fill="none" stroke="#138374" stroke-width="2.1" stroke-linejoin="round"/>
<path d="M488.8 736.6L490.4 737.6L491.9 736.7L493.5 736.5L495.0 737.2L496.6 736.4L498.1 736.5L499.7 736.6L501.2 735.6L502.8 737.1L504.3 736.7L505.9 736.3L507.4 735.8L509.0 736.6L510.5 737.3L512.1 736.1L513.6 735.8L515.2 736.7L516.7 735.5L518.3 735.1L519.8 736.1L521.4 736.0L522.9 736.2L524.5 736.0L526.0 736.6L527.6 736.2L529.1 736.0L530.7 736.1L532.2 736.7L533.8 736.9L535.3 736.9L536.9 736.7L538.4 734.3L540.0 735.7L541.5 736.1L543.1 736.4L544.6 735.3L546.2 737.1L547.7 736.3L549.3 735.8L550.8 736.2L552.4 735.8L553.9 735.5L555.5 736.2L557.0 735.5L558.6 734.8L560.1 735.2L561.7 735.4L563.2 734.7L564.8 735.9L566.3 734.3L567.9 735.9L569.4 735.2L571.0 733.8L572.5 734.0L574.1 734.1L575.6 732.4L577.2 730.8L578.7 730.2L580.3 729.6L581.8 725.1L583.4 723.1L584.9 718.3L586.5 712.6L588.0 705.8L589.6 698.5L591.1 691.3L592.7 682.8L594.2 673.7L595.8 667.4L597.3 658.7L598.9 654.4L600.4 650.4L602.0 648.6L603.5 643.7L605.1 641.7L606.6 642.9L608.2 646.8L609.7 649.0L611.3 652.2L612.8 653.4L614.4 658.2L615.9 662.1L617.5 666.6L619.0 670.9L620.6 676.4L622.1 680.2L623.7 685.1L625.2 691.1L626.8 694.3L628.3 700.5L629.9 703.5L631.4 707.4L633.0 710.5L634.5 713.6L636.1 715.5L637.6 717.2L639.2 718.6L640.7 720.2L642.3 720.8L643.8 721.4L645.4 721.3L646.9 721.3L648.5 720.7L650.0 722.3L651.6 722.6L653.1 722.0L654.7 722.8L656.2 723.3L657.8 722.7L659.3 723.4L660.9 723.1L662.4 722.1L664.0 723.0L665.5 723.3L667.1 724.1L668.6 723.5L670.2 724.0L671.7 723.9L673.3 724.8L674.8 725.2L676.4 726.2L677.9 726.5L679.5 726.7L681.0 727.3L682.6 727.7L684.1 728.2L685.7 729.5L687.2 727.4L688.8 729.1L690.3 729.6L691.9 730.3L693.4 729.1L695.0 730.1L696.5 730.6L698.1 729.9L699.6 729.1L701.2 730.2L702.7 729.8L704.3 730.9L705.8 730.1L707.4 731.7L708.9 730.8L710.5 730.3L712.0 730.6L713.6 730.3L715.1 731.3L716.7 732.0L718.2 731.1L719.8 731.9L721.3 730.9L722.9 731.8L724.4 733.2L726.0 731.1L727.5 732.8L729.1 732.8L730.6 731.1L732.2 731.4L733.0 731.7" fill="none" stroke="#7b3f98" stroke-width="2.1" stroke-linejoin="round"/>
<path d="M488.8 737.1L490.4 736.3L491.9 736.4L493.5 736.9L495.0 736.6L496.6 736.6L498.1 736.3L499.7 737.2L501.2 736.0L502.8 737.5L504.3 736.3L505.9 736.0L507.4 736.9L509.0 736.7L510.5 735.3L512.1 736.6L513.6 735.6L515.2 735.9L516.7 736.9L518.3 735.9L519.8 736.6L521.4 736.2L522.9 737.6L524.5 736.3L526.0 735.7L527.6 735.7L529.1 735.8L530.7 736.4L532.2 736.3L533.8 736.9L535.3 736.4L536.9 736.4L538.4 736.5L540.0 736.2L541.5 736.4L543.1 736.7L544.6 736.7L546.2 735.9L547.7 735.1L549.3 735.6L550.8 736.2L552.4 734.5L553.9 735.7L555.5 736.1L557.0 735.4L558.6 735.0L560.1 736.6L561.7 736.3L563.2 735.1L564.8 735.9L566.3 735.8L567.9 734.1L569.4 736.2L571.0 733.8L572.5 733.8L574.1 732.7L575.6 732.6L577.2 730.7L578.7 730.2L580.3 729.0L581.8 726.1L583.4 722.6L584.9 719.3L586.5 712.2L588.0 706.6L589.6 698.5L591.1 690.8L592.7 682.5L594.2 674.3L595.8 666.4L597.3 659.0L598.9 653.7L600.4 650.6L602.0 647.9L603.5 645.8L605.1 645.5L606.6 645.7L608.2 647.1L609.7 648.8L611.3 651.0L612.8 653.4L614.4 657.5L615.9 661.0L617.5 664.7L619.0 671.2L620.6 675.1L622.1 680.5L623.7 685.2L625.2 691.1L626.8 694.5L628.3 699.8L629.9 703.4L631.4 707.1L633.0 711.1L634.5 716.1L636.1 718.8L637.6 721.0L639.2 722.9L640.7 722.9L642.3 723.6L643.8 723.9L645.4 724.5L646.9 724.6L648.5 724.5L650.0 726.5L651.6 724.4L653.1 725.9L654.7 726.2L656.2 726.2L657.8 725.7L659.3 726.3L660.9 726.4L662.4 726.2L664.0 727.1L665.5 727.1L667.1 727.3L668.6 728.3L670.2 727.5L671.7 728.7L673.3 728.3L674.8 729.3L676.4 729.4L677.9 729.9L679.5 729.6L681.0 730.1L682.6 730.4L684.1 731.4L685.7 732.0L687.2 732.4L688.8 731.7L690.3 732.2L691.9 731.4L693.4 731.1L695.0 732.1L696.5 732.3L698.1 731.8L699.6 731.8L701.2 733.2L702.7 732.4L704.3 732.0L705.8 734.4L707.4 733.1L708.9 732.9L710.5 733.5L712.0 732.7L713.6 734.1L715.1 732.3L716.7 732.5L718.2 733.3L719.8 733.0L721.3 734.4L722.9 732.7L724.4 733.4L726.0 734.1L727.5 734.4L729.1 734.7L730.6 734.4L732.2 735.6L733.0 734.0" fill="none" stroke="#cc2590" stroke-width="2.1" stroke-linejoin="round"/>
<defs><path id="rj" d="M488.8 736.5L490.4 736.8L491.9 736.4L493.5 736.4L495.0 736.3L496.6 736.2L498.1 736.1L499.7 736.3L501.2 735.9L502.8 736.6L504.3 735.9L505.9 737.1L507.4 737.0L509.0 736.8L510.5 736.3L512.1 736.2L513.6 736.8L515.2 736.4L516.7 736.6L518.3 736.1L519.8 736.7L521.4 736.1L522.9 736.4L524.5 735.7L526.0 736.1L527.6 736.5L529.1 736.1L530.7 736.1L532.2 736.6L533.8 736.2L535.3 736.7L536.9 735.4L538.4 736.4L540.0 736.4L541.5 735.7L543.1 735.7L544.6 736.5L546.2 735.8L547.7 735.9L549.3 736.3L550.8 735.9L552.4 736.1L553.9 735.6L555.5 735.9L557.0 736.1L558.6 735.7L560.1 734.7L561.7 735.6L563.2 735.3L564.8 734.8L566.3 735.4L567.9 734.2L569.4 735.2L571.0 734.1L572.5 734.4L574.1 733.3L575.6 732.0L577.2 731.5L578.7 730.2L580.3 728.5L581.8 726.3L583.4 722.4L584.9 718.4L586.5 712.9L588.0 705.9L589.6 698.3L591.1 690.3L592.7 682.6L594.2 674.5L595.8 666.1L597.3 659.0L598.9 654.4L600.4 649.7L602.0 647.9L603.5 646.2L605.1 645.3L606.6 646.1L608.2 647.0L609.7 649.2L611.3 651.7L612.8 653.7L614.4 657.8L615.9 662.1L617.5 666.2L619.0 670.9L620.6 676.6L622.1 680.9L623.7 685.9L625.2 690.5L626.8 695.2L628.3 699.4L629.9 703.9L631.4 707.6L633.0 710.3L634.5 712.8L636.1 715.6L637.6 716.9L639.2 718.4L640.7 719.9L642.3 720.9L643.8 720.7L645.4 720.6L646.9 721.6L648.5 720.8L650.0 721.6L651.6 722.5L653.1 722.4L654.7 721.8L656.2 721.8L657.8 722.9L659.3 722.7L660.9 722.7L662.4 723.2L664.0 723.1L665.5 722.8L667.1 724.0L668.6 723.7L670.2 723.8L671.7 724.0L673.3 724.8L674.8 724.8L676.4 725.7L677.9 725.9L679.5 726.9L681.0 726.9L682.6 727.4L684.1 727.4L685.7 728.1L687.2 729.1L688.8 730.2L690.3 728.9L691.9 729.2L693.4 729.8L695.0 730.0L696.5 729.7L698.1 730.1L699.6 729.7L701.2 730.2L702.7 730.7L704.3 731.1L705.8 730.5L707.4 730.5L708.9 730.8L710.5 731.1L712.0 731.0L713.6 730.6L715.1 731.1L716.7 731.4L718.2 730.9L719.8 730.8L721.3 731.6L722.9 731.7L724.4 732.0L726.0 731.9L727.5 731.7L729.1 731.9L730.6 731.8L732.2 731.9L733.0 732.1"/></defs>
<use href="#rj" fill="none" stroke="#ab0f34" stroke-opacity="0.35" stroke-width="6.5" stroke-linejoin="round"/>
<use href="#rj" fill="none" stroke="#ab0f34" stroke-width="4.3" stroke-linejoin="round"/>
<text transform="matrix(0.965 0 0 1 477.6 744.9)" font-size="33.5" text-anchor="end">0</text>
<text transform="matrix(0.965 0 0 1 477.6 697.1)" font-size="33.5" text-anchor="end">0.5</text>
<text transform="matrix(0.965 0 0 1 477.6 648.1)" font-size="33.5" text-anchor="end">1.0</text>
<text transform="matrix(0.965 0 0 1 477.6 599.1)" font-size="33.5" text-anchor="end">1.5</text>
<text transform="matrix(0.965 0 0 1 535.2 770.4)" font-size="33.5" text-anchor="middle">−20</text>
<text transform="matrix(0.965 0 0 1 602.3 770.4)" font-size="33.5" text-anchor="middle">0</text>
<text transform="matrix(0.965 0 0 1 664.6 770.4)" font-size="33.5" text-anchor="middle">20</text>
<text transform="matrix(0.965 0 0 1 726 770.4)" font-size="33.5" text-anchor="middle">40</text>
<text transform="matrix(0.95 0 0 1 613.3 573.2)" font-size="34.3" text-anchor="middle">Exp 10</text>
<text x="382.9" y="566.1" class="pl">(<tspan font-style="italic" dx="7.5">j</tspan><tspan dx="-0.4">)</tspan></text>
<path d="M857.4 588.8V737H1104.9" fill="none" stroke="#1e1e1e" stroke-width="1.8"/>
<path d="M857.4 688h4M857.4 639h4M857.4 590h4M918.9 737v-4.3M979.5 737v-4.3M1040.1 737v-4.3M1100.7 737v-4.3" stroke="#1e1e1e" stroke-width="1.8"/>
<path d="M858.0 735.0L859.5 735.0L861.0 735.0L862.6 735.0L864.1 735.0L865.6 735.0L867.1 735.0L868.6 735.0L870.1 735.0L871.6 735.0L873.2 735.0L874.7 735.0L876.2 735.0L877.7 735.0L879.2 735.0L880.7 735.0L882.2 735.0L883.8 735.0L885.3 735.0L886.8 735.0L888.3 734.9L889.8 734.9L891.3 734.9L892.9 734.9L894.4 734.9L895.9 734.9L897.4 734.9L898.9 734.9L900.4 734.9L901.9 734.9L903.5 734.9L905.0 734.9L906.5 734.8L908.0 734.8L909.5 734.8L911.0 734.8L912.5 734.8L914.1 734.8L915.6 734.8L917.1 734.8L918.6 734.7L920.1 734.7L921.6 734.7L923.2 734.6L924.7 734.6L926.2 734.5L927.7 734.4L929.2 734.3L930.7 734.2L932.2 734.0L933.8 733.9L935.3 733.7L936.8 733.5L938.3 733.3L939.8 733.0L941.3 732.7L942.8 732.3L944.4 731.7L945.9 731.0L947.4 730.0L948.9 728.8L950.4 727.2L951.9 725.0L953.5 722.2L955.0 718.5L956.5 713.7L958.0 708.0L959.5 701.3L961.0 693.7L962.5 685.6L964.1 677.6L965.6 670.3L967.1 664.0L968.6 658.7L970.1 654.2L971.6 650.6L973.1 647.7L974.7 645.6L976.2 644.0L977.7 641.6L979.2 636.9L980.7 633.9L982.2 639.8L983.8 649.6L985.3 653.5L986.8 658.1L988.3 663.0L989.8 668.1L991.3 673.3L992.8 678.6L994.4 684.0L995.9 689.4L997.4 694.6L998.9 699.2L1000.4 703.1L1001.9 706.4L1003.4 709.2L1005.0 711.7L1006.5 713.9L1008.0 715.9L1009.5 717.6L1011.0 719.0L1012.5 720.0L1014.1 720.8L1015.6 721.4L1017.1 721.8L1018.6 722.1L1020.1 722.4L1021.6 722.6L1023.1 722.7L1024.7 722.8L1026.2 723.0L1027.7 723.1L1029.2 723.2L1030.7 723.4L1032.2 723.6L1033.7 723.8L1035.3 724.1L1036.8 724.4L1038.3 724.7L1039.8 725.0L1041.3 725.3L1042.8 725.6L1044.4 725.9L1045.9 726.3L1047.4 726.6L1048.9 726.9L1050.4 727.0L1051.9 727.0L1053.4 727.2L1055.0 727.3L1056.5 727.4L1058.0 727.6L1059.5 727.7L1061.0 727.9L1062.5 728.7L1064.0 729.4L1065.6 729.6L1067.1 729.7L1068.6 729.8L1070.1 730.0L1071.6 730.1L1073.1 730.2L1074.7 730.4L1076.2 730.6L1077.7 730.8L1079.2 730.9L1080.7 731.1L1082.2 731.2L1083.7 731.4L1085.3 731.5L1086.8 731.6L1088.3 731.7L1089.8 731.7L1091.3 731.8L1092.8 731.9L1094.3 731.9L1095.9 732.0L1097.4 732.0L1098.9 732.1L1100.4 732.1L1101.9 732.1L1103.4 732.2L1104.0 732.2L1104.0 735.1L1103.4 735.1L1101.9 735.1L1100.4 735.1L1098.9 735.0L1097.4 735.0L1095.9 734.9L1094.3 734.9L1092.8 734.8L1091.3 734.7L1089.8 734.7L1088.3 734.6L1086.8 734.5L1085.3 734.4L1083.7 734.3L1082.2 734.2L1080.7 734.0L1079.2 733.9L1077.7 733.7L1076.2 733.5L1074.7 733.3L1073.1 733.2L1071.6 733.0L1070.1 732.9L1068.6 732.8L1067.1 732.6L1065.6 732.5L1064.0 732.4L1062.5 732.2L1061.0 732.1L1059.5 731.9L1058.0 731.7L1056.5 731.5L1055.0 731.2L1053.4 730.9L1051.9 730.5L1050.4 730.2L1048.9 729.9L1047.4 729.5L1045.9 729.2L1044.4 730.2L1042.8 730.7L1041.3 728.6L1039.8 727.9L1038.3 727.6L1036.8 727.3L1035.3 727.0L1033.7 726.8L1032.2 726.5L1030.7 726.3L1029.2 726.2L1027.7 726.0L1026.2 725.9L1024.7 725.8L1023.1 725.7L1021.6 725.5L1020.1 725.3L1018.6 725.1L1017.1 724.8L1015.6 724.3L1014.1 723.7L1012.5 722.9L1011.0 721.9L1009.5 720.6L1008.0 718.9L1006.5 716.9L1005.0 714.6L1003.4 712.1L1001.9 709.3L1000.4 706.0L998.9 702.2L997.4 697.5L995.9 692.3L994.4 686.9L992.8 681.5L991.3 676.2L989.8 671.0L988.3 666.0L986.8 661.0L985.3 656.4L983.8 652.5L982.2 649.6L980.7 647.7L979.2 646.8L977.7 646.7L976.2 647.3L974.7 648.6L973.1 650.7L971.6 653.5L970.1 657.2L968.6 661.6L967.1 667.0L965.6 673.3L964.1 680.5L962.5 688.6L961.0 696.7L959.5 704.2L958.0 710.9L956.5 716.7L955.0 721.4L953.5 725.1L951.9 728.0L950.4 730.1L948.9 731.8L947.4 733.0L945.9 733.9L944.4 734.7L942.8 735.3L941.3 735.7L939.8 736.0L938.3 736.2L936.8 736.4L935.3 736.6L933.8 736.8L932.2 737.0L930.7 737L929.2 737L927.7 737L926.2 737L924.7 737L923.2 737L921.6 737L920.1 737L918.6 737L917.1 737L915.6 737L914.1 737L912.5 737L911.0 737L909.5 737L908.0 737L906.5 737L905.0 737L903.5 737L901.9 737L900.4 737L898.9 737L897.4 737L895.9 737L894.4 737L892.9 737L891.3 737L889.8 737L888.3 737L886.8 737L885.3 737L883.8 737L882.2 737L880.7 737L879.2 737L877.7 737L876.2 737L874.7 737L873.2 737L871.6 737L870.1 737L868.6 737L867.1 737L865.6 737L864.1 737L862.6 737L861.0 737L859.5 737L858.0 737Z" fill="#b6b6b6"/>
<path d="M858.0 736.2L859.5 737.1L861.0 735.7L862.6 736.4L864.1 736.1L865.6 737.3L867.1 736.6L868.6 736.2L870.1 736.9L871.6 736.5L873.2 736.2L874.7 737.4L876.2 736.9L877.7 737.5L879.2 737.1L880.7 736.9L882.2 736.5L883.8 735.8L885.3 736.8L886.8 736.4L888.3 736.8L889.8 736.4L891.3 736.0L892.9 735.8L894.4 736.8L895.9 737.1L897.4 736.2L898.9 736.6L900.4 737.2L901.9 735.8L903.5 736.1L905.0 735.6L906.5 737.0L908.0 736.4L909.5 736.0L911.0 735.3L912.5 736.1L914.1 736.8L915.6 736.0L917.1 736.0L918.6 736.6L920.1 735.4L921.6 736.2L923.2 736.4L924.7 735.6L926.2 735.4L927.7 736.0L929.2 735.7L930.7 735.5L932.2 735.6L933.8 735.4L935.3 734.6L936.8 734.5L938.3 735.0L939.8 735.2L941.3 735.0L942.8 733.3L944.4 733.8L945.9 732.9L947.4 731.5L948.9 730.6L950.4 729.1L951.9 727.5L953.5 723.0L955.0 720.3L956.5 715.1L958.0 709.3L959.5 703.4L961.0 695.7L962.5 686.5L964.1 678.9L965.6 671.9L967.1 664.6L968.6 660.6L970.1 655.6L971.6 652.2L973.1 649.4L974.7 648.2L976.2 644.8L977.7 642.2L979.2 644.0L980.7 644.9L982.2 647.8L983.8 650.2L985.3 655.6L986.8 659.7L988.3 664.7L989.8 669.6L991.3 674.6L992.8 679.5L994.4 685.0L995.9 691.1L997.4 696.1L998.9 701.6L1000.4 704.1L1001.9 707.5L1003.4 710.0L1005.0 713.9L1006.5 714.6L1008.0 717.9L1009.5 720.0L1011.0 720.4L1012.5 721.9L1014.1 721.0L1015.6 722.6L1017.1 722.3L1018.6 723.7L1020.1 723.8L1021.6 723.6L1023.1 724.7L1024.7 724.5L1026.2 724.1L1027.7 724.2L1029.2 723.8L1030.7 724.7L1032.2 726.3L1033.7 724.8L1035.3 725.8L1036.8 725.5L1038.3 726.6L1039.8 726.7L1041.3 726.6L1042.8 726.0L1044.4 727.1L1045.9 728.4L1047.4 727.9L1048.9 728.7L1050.4 728.4L1051.9 728.0L1053.4 729.6L1055.0 729.9L1056.5 729.6L1058.0 730.0L1059.5 730.6L1061.0 730.2L1062.5 731.0L1064.0 730.8L1065.6 729.6L1067.1 731.1L1068.6 730.9L1070.1 730.9L1071.6 731.8L1073.1 731.4L1074.7 732.2L1076.2 732.7L1077.7 732.3L1079.2 731.5L1080.7 732.1L1082.2 733.2L1083.7 732.7L1085.3 732.5L1086.8 733.0L1088.3 733.4L1089.8 733.3L1091.3 733.6L1092.8 732.8L1094.3 733.2L1095.9 733.3L1097.4 733.5L1098.9 732.3L1100.4 733.4L1101.9 732.8L1103.4 734.5L1104.0 734.6" fill="none" stroke="#138374" stroke-width="2.1" stroke-linejoin="round"/>
<path d="M858.0 737.5L859.5 737.0L861.0 736.2L862.6 737.1L864.1 736.4L865.6 736.8L867.1 735.9L868.6 736.1L870.1 736.7L871.6 737.5L873.2 736.4L874.7 737.8L876.2 738.1L877.7 735.7L879.2 736.4L880.7 735.9L882.2 736.3L883.8 736.1L885.3 736.4L886.8 737.0L888.3 737.0L889.8 736.6L891.3 736.4L892.9 736.5L894.4 736.5L895.9 736.7L897.4 736.4L898.9 736.7L900.4 735.6L901.9 736.8L903.5 737.4L905.0 736.4L906.5 735.5L908.0 737.1L909.5 736.1L911.0 734.5L912.5 736.1L914.1 736.6L915.6 736.5L917.1 737.0L918.6 736.6L920.1 736.3L921.6 735.0L923.2 735.4L924.7 736.1L926.2 736.4L927.7 735.2L929.2 735.4L930.7 735.9L932.2 734.3L933.8 734.2L935.3 735.0L936.8 735.1L938.3 734.5L939.8 733.1L941.3 734.2L942.8 733.0L944.4 733.6L945.9 732.4L947.4 731.6L948.9 730.7L950.4 728.4L951.9 727.0L953.5 724.4L955.0 720.2L956.5 716.0L958.0 709.1L959.5 703.3L961.0 695.4L962.5 686.5L964.1 679.0L965.6 671.5L967.1 665.2L968.6 660.2L970.1 656.3L971.6 651.9L973.1 649.3L974.7 646.2L976.2 645.9L977.7 643.9L979.2 638.2L980.7 634.9L982.2 640.3L983.8 650.2L985.3 654.9L986.8 658.8L988.3 663.7L989.8 670.1L991.3 674.2L992.8 681.1L994.4 684.6L995.9 691.1L997.4 695.4L998.9 700.8L1000.4 703.9L1001.9 707.9L1003.4 710.5L1005.0 712.9L1006.5 715.7L1008.0 718.3L1009.5 718.8L1011.0 721.0L1012.5 721.5L1014.1 722.2L1015.6 724.1L1017.1 722.0L1018.6 723.2L1020.1 722.8L1021.6 723.8L1023.1 724.0L1024.7 726.6L1026.2 724.6L1027.7 725.6L1029.2 725.5L1030.7 724.6L1032.2 725.3L1033.7 726.3L1035.3 725.6L1036.8 725.9L1038.3 726.4L1039.8 725.5L1041.3 727.3L1042.8 730.1L1044.4 729.7L1045.9 727.3L1047.4 727.5L1048.9 727.6L1050.4 727.7L1051.9 728.2L1053.4 728.0L1055.0 728.2L1056.5 727.4L1058.0 727.7L1059.5 728.7L1061.0 727.7L1062.5 729.7L1064.0 730.4L1065.6 730.5L1067.1 731.5L1068.6 730.9L1070.1 730.9L1071.6 731.2L1073.1 731.7L1074.7 733.5L1076.2 730.8L1077.7 732.2L1079.2 732.2L1080.7 733.1L1082.2 732.5L1083.7 731.4L1085.3 733.7L1086.8 732.4L1088.3 733.1L1089.8 732.4L1091.3 732.6L1092.8 733.0L1094.3 733.9L1095.9 733.9L1097.4 733.1L1098.9 733.8L1100.4 733.3L1101.9 733.7L1103.4 733.7L1104.0 734.0" fill="none" stroke="#7b3f98" stroke-width="2.1" stroke-linejoin="round"/>
<path d="M858.0 736.1L859.5 736.4L861.0 736.6L862.6 736.5L864.1 736.0L865.6 737.5L867.1 736.2L868.6 736.9L870.1 736.6L871.6 737.2L873.2 735.2L874.7 737.7L876.2 736.3L877.7 735.7L879.2 736.5L880.7 737.8L882.2 736.7L883.8 735.7L885.3 736.1L886.8 737.2L888.3 735.6L889.8 736.3L891.3 736.2L892.9 737.7L894.4 736.2L895.9 737.1L897.4 735.9L898.9 735.9L900.4 736.9L901.9 736.7L903.5 735.3L905.0 736.7L906.5 736.7L908.0 735.9L909.5 736.4L911.0 736.4L912.5 736.0L914.1 735.9L915.6 735.8L917.1 736.1L918.6 735.4L920.1 736.1L921.6 735.2L923.2 736.1L924.7 736.0L926.2 735.3L927.7 736.4L929.2 736.9L930.7 736.4L932.2 734.7L933.8 736.1L935.3 735.3L936.8 734.9L938.3 734.4L939.8 734.5L941.3 735.0L942.8 734.1L944.4 732.9L945.9 732.0L947.4 731.2L948.9 730.6L950.4 729.8L951.9 725.8L953.5 723.6L955.0 719.7L956.5 714.7L958.0 709.7L959.5 703.1L961.0 694.4L962.5 686.5L964.1 679.7L965.6 671.9L967.1 665.8L968.6 659.8L970.1 655.5L971.6 652.3L973.1 648.9L974.7 646.4L976.2 645.8L977.7 645.8L979.2 644.7L980.7 646.9L982.2 648.6L983.8 650.5L985.3 655.0L986.8 659.5L988.3 664.8L989.8 669.9L991.3 673.9L992.8 679.2L994.4 686.0L995.9 690.9L997.4 696.3L998.9 700.9L1000.4 705.5L1001.9 707.1L1003.4 711.3L1005.0 712.6L1006.5 715.8L1008.0 718.2L1009.5 718.3L1011.0 720.7L1012.5 721.3L1014.1 722.1L1015.6 722.8L1017.1 722.6L1018.6 723.0L1020.1 724.2L1021.6 724.5L1023.1 723.8L1024.7 723.4L1026.2 725.8L1027.7 725.2L1029.2 724.9L1030.7 724.2L1032.2 724.7L1033.7 725.4L1035.3 725.0L1036.8 726.8L1038.3 726.2L1039.8 726.7L1041.3 726.1L1042.8 726.5L1044.4 726.9L1045.9 727.9L1047.4 727.9L1048.9 728.2L1050.4 728.9L1051.9 729.2L1053.4 730.3L1055.0 729.6L1056.5 729.4L1058.0 730.2L1059.5 731.3L1061.0 730.3L1062.5 730.8L1064.0 730.7L1065.6 731.3L1067.1 731.3L1068.6 730.8L1070.1 731.3L1071.6 732.1L1073.1 732.3L1074.7 732.4L1076.2 732.5L1077.7 732.0L1079.2 732.2L1080.7 733.1L1082.2 732.0L1083.7 732.8L1085.3 731.8L1086.8 732.8L1088.3 732.7L1089.8 732.5L1091.3 733.6L1092.8 732.9L1094.3 733.2L1095.9 733.3L1097.4 733.0L1098.9 734.4L1100.4 733.3L1101.9 733.7L1103.4 732.8L1104.0 733.4" fill="none" stroke="#cc2590" stroke-width="2.1" stroke-linejoin="round"/>
<defs><path id="rk" d="M858.0 736.4L859.5 736.4L861.0 736.3L862.6 736.5L864.1 737.0L865.6 736.4L867.1 736.4L868.6 736.3L870.1 737.3L871.6 737.0L873.2 736.7L874.7 736.7L876.2 736.2L877.7 736.4L879.2 736.5L880.7 736.5L882.2 736.1L883.8 736.2L885.3 736.6L886.8 736.5L888.3 735.7L889.8 736.4L891.3 736.8L892.9 736.2L894.4 736.5L895.9 735.9L897.4 736.6L898.9 736.0L900.4 735.9L901.9 736.2L903.5 737.1L905.0 736.1L906.5 735.9L908.0 736.5L909.5 736.4L911.0 736.8L912.5 735.8L914.1 735.7L915.6 736.1L917.1 736.3L918.6 736.3L920.1 736.6L921.6 735.6L923.2 735.8L924.7 736.0L926.2 736.2L927.7 736.0L929.2 735.6L930.7 735.3L932.2 735.8L933.8 735.6L935.3 736.1L936.8 734.9L938.3 735.3L939.8 734.1L941.3 734.0L942.8 733.5L944.4 733.0L945.9 732.1L947.4 731.3L948.9 730.3L950.4 728.5L951.9 726.7L953.5 723.6L955.0 719.9L956.5 715.7L958.0 709.5L959.5 702.8L961.0 695.2L962.5 687.1L964.1 679.2L965.6 671.5L967.1 665.9L968.6 660.7L970.1 656.1L971.6 651.9L973.1 648.6L974.7 646.9L976.2 645.9L977.7 645.5L979.2 645.3L980.7 646.2L982.2 648.7L983.8 650.8L985.3 655.3L986.8 659.9L988.3 664.0L989.8 669.6L991.3 674.5L992.8 679.7L994.4 684.8L995.9 690.3L997.4 696.2L998.9 700.5L1000.4 704.7L1001.9 707.5L1003.4 710.5L1005.0 713.0L1006.5 714.9L1008.0 716.8L1009.5 719.3L1011.0 720.5L1012.5 721.1L1014.1 722.2L1015.6 723.1L1017.1 723.9L1018.6 723.3L1020.1 724.1L1021.6 724.8L1023.1 724.2L1024.7 724.8L1026.2 723.5L1027.7 725.0L1029.2 724.7L1030.7 724.2L1032.2 725.3L1033.7 725.6L1035.3 726.0L1036.8 726.2L1038.3 726.1L1039.8 726.2L1041.3 726.6L1042.8 727.1L1044.4 727.5L1045.9 727.6L1047.4 728.1L1048.9 728.7L1050.4 728.8L1051.9 729.9L1053.4 730.1L1055.0 729.3L1056.5 729.8L1058.0 729.8L1059.5 730.0L1061.0 730.8L1062.5 730.4L1064.0 730.5L1065.6 730.9L1067.1 731.4L1068.6 731.2L1070.1 731.3L1071.6 731.9L1073.1 731.9L1074.7 732.0L1076.2 732.4L1077.7 731.9L1079.2 732.5L1080.7 732.3L1082.2 733.1L1083.7 733.1L1085.3 732.6L1086.8 733.5L1088.3 732.7L1089.8 733.6L1091.3 733.3L1092.8 733.0L1094.3 733.0L1095.9 733.3L1097.4 733.5L1098.9 733.3L1100.4 733.8L1101.9 733.1L1103.4 733.6L1104.0 733.6"/></defs>
<use href="#rk" fill="none" stroke="#ab0f34" stroke-opacity="0.35" stroke-width="6.5" stroke-linejoin="round"/>
<use href="#rk" fill="none" stroke="#ab0f34" stroke-width="4.3" stroke-linejoin="round"/>
<text transform="matrix(0.965 0 0 1 844.8 744.9)" font-size="33.5" text-anchor="end">0</text>
<text transform="matrix(0.965 0 0 1 844.8 697.1)" font-size="33.5" text-anchor="end">0.5</text>
<text transform="matrix(0.965 0 0 1 844.8 648.1)" font-size="33.5" text-anchor="end">1.0</text>
<text transform="matrix(0.965 0 0 1 844.8 599.1)" font-size="33.5" text-anchor="end">1.5</text>
<text transform="matrix(0.965 0 0 1 909 770.4)" font-size="33.5" text-anchor="middle">−20</text>
<text transform="matrix(0.965 0 0 1 975.9 770.4)" font-size="33.5" text-anchor="middle">0</text>
<text transform="matrix(0.965 0 0 1 1038.6 770.4)" font-size="33.5" text-anchor="middle">20</text>
<text transform="matrix(0.965 0 0 1 1099.8 770.4)" font-size="33.5" text-anchor="middle">40</text>
<text transform="matrix(0.95 0 0 1 979.3 573.2)" font-size="34.3" text-anchor="middle">Exp 11</text>
<text x="751.7" y="567.9" class="pl">(<tspan font-style="italic">k</tspan><tspan dx="-1.9">)</tspan></text>
<path d="M1223.4 588.8V737H1470.5" fill="none" stroke="#1e1e1e" stroke-width="1.8"/>
<path d="M1223.4 688h4M1223.4 639h4M1223.4 590h4M1281.3 737v-4.3M1342.1 737v-4.3M1402.9 737v-4.3M1463.7 737v-4.3" stroke="#1e1e1e" stroke-width="1.8"/>
<path d="M1224.0 735.0L1225.5 735.0L1227.0 735.0L1228.6 735.0L1230.1 735.0L1231.6 735.0L1233.1 735.0L1234.6 735.0L1236.2 735.0L1237.7 735.0L1239.2 735.0L1240.7 735.0L1242.2 735.0L1243.8 735.0L1245.3 734.9L1246.8 734.9L1248.3 734.9L1249.8 734.9L1251.4 734.9L1252.9 734.9L1254.4 734.9L1255.9 734.9L1257.4 734.9L1259.0 734.9L1260.5 734.8L1262.0 734.8L1263.5 734.8L1265.0 734.8L1266.6 734.8L1268.1 734.8L1269.6 734.8L1271.1 734.7L1272.6 734.7L1274.2 734.7L1275.7 734.7L1277.2 734.7L1278.7 734.7L1280.2 734.6L1281.8 734.6L1283.3 734.6L1284.8 734.5L1286.3 734.5L1287.8 734.4L1289.4 734.3L1290.9 734.2L1292.4 734.1L1293.9 734.0L1295.4 733.9L1297.0 733.8L1298.5 733.6L1300.0 733.4L1301.5 733.2L1303.0 733.0L1304.6 732.8L1306.1 732.5L1307.6 732.0L1309.1 731.4L1310.6 730.7L1312.2 729.7L1313.7 728.5L1315.2 727.0L1316.7 725.0L1318.2 722.4L1319.8 719.2L1321.3 715.0L1322.8 709.8L1324.3 703.6L1325.8 696.5L1327.4 688.5L1328.9 680.2L1330.4 672.3L1331.9 664.3L1333.4 656.7L1335.0 650.2L1336.5 645.1L1338.0 640.8L1339.5 637.1L1341.0 634.8L1342.6 634.6L1344.1 636.1L1345.6 638.7L1347.1 641.7L1348.6 645.0L1350.2 648.7L1351.7 652.8L1353.2 657.1L1354.7 661.6L1356.2 666.1L1357.8 670.7L1359.3 675.4L1360.8 680.1L1362.3 684.7L1363.8 689.0L1365.4 692.9L1366.9 696.4L1368.4 699.4L1369.9 702.2L1371.4 704.8L1373.0 707.1L1374.5 709.2L1376.0 710.7L1377.5 711.9L1379.0 713.0L1380.6 714.1L1382.1 715.1L1383.6 715.9L1385.1 716.5L1386.6 717.2L1388.2 717.8L1389.7 718.3L1391.2 718.9L1392.7 719.3L1394.2 719.7L1395.8 720.1L1397.3 720.3L1398.8 720.4L1400.3 720.5L1401.8 720.6L1403.4 720.6L1404.9 720.7L1406.4 720.7L1407.9 720.8L1409.4 721.0L1411.0 721.3L1412.5 721.7L1414.0 722.1L1415.5 722.7L1417.0 723.3L1418.6 723.8L1420.1 724.4L1421.6 724.9L1423.1 725.4L1424.6 725.7L1426.2 726.0L1427.7 726.3L1429.2 726.5L1430.7 726.7L1432.2 727.0L1433.8 727.2L1435.3 727.3L1436.8 727.5L1438.3 727.6L1439.8 727.7L1441.4 727.8L1442.9 727.9L1444.4 728.0L1445.9 728.0L1447.4 728.1L1449.0 728.2L1450.5 728.2L1452.0 728.3L1453.5 728.4L1455.0 728.4L1456.6 728.5L1458.1 728.6L1459.6 728.6L1461.1 728.7L1462.6 728.8L1464.2 728.8L1465.7 728.9L1467.2 728.9L1468.7 728.9L1469.6 728.9L1469.6 737L1468.7 737L1467.2 737L1465.7 737L1464.2 737L1462.6 737L1461.1 737L1459.6 737L1458.1 737L1456.6 736.9L1455.0 736.9L1453.5 736.8L1452.0 736.7L1450.5 736.7L1449.0 736.6L1447.4 736.5L1445.9 736.5L1444.4 736.4L1442.9 736.3L1441.4 736.2L1439.8 736.1L1438.3 736.0L1436.8 735.9L1435.3 735.8L1433.8 735.7L1432.2 735.6L1430.7 735.5L1429.2 735.4L1427.7 735.3L1426.2 735.2L1424.6 735.1L1423.1 734.9L1421.6 734.8L1420.1 734.7L1418.6 734.6L1417.0 734.4L1415.5 734.3L1414.0 734.1L1412.5 733.9L1411.0 733.6L1409.4 733.3L1407.9 733.1L1406.4 732.8L1404.9 732.6L1403.4 732.4L1401.8 732.2L1400.3 732.0L1398.8 731.8L1397.3 731.6L1395.8 731.5L1394.2 731.3L1392.7 731.1L1391.2 730.8L1389.7 730.6L1388.2 730.4L1386.6 730.2L1385.1 729.9L1383.6 729.7L1382.1 729.5L1380.6 729.2L1379.0 728.9L1377.5 728.4L1376.0 727.6L1374.5 726.7L1373.0 725.4L1371.4 723.7L1369.9 721.4L1368.4 718.4L1366.9 714.5L1365.4 710.7L1363.8 706.8L1362.3 702.5L1360.8 697.9L1359.3 693.2L1357.8 688.5L1356.2 684.2L1354.7 679.9L1353.2 675.7L1351.7 671.6L1350.2 667.6L1348.6 664.1L1347.1 661.7L1345.6 659.9L1344.1 658.7L1342.6 657.9L1341.0 657.5L1339.5 657.3L1338.0 657.7L1336.5 659.3L1335.0 662.4L1333.4 666.9L1331.9 672.8L1330.4 679.6L1328.9 687.3L1327.4 695.3L1325.8 703.1L1324.3 710.1L1322.8 716.1L1321.3 721.1L1319.8 725.1L1318.2 728.3L1316.7 730.8L1315.2 732.6L1313.7 734.0L1312.2 735.1L1310.6 736.0L1309.1 736.6L1307.6 737L1306.1 737L1304.6 737L1303.0 737L1301.5 737L1300.0 737L1298.5 737L1297.0 737L1295.4 737L1293.9 737L1292.4 737L1290.9 737L1289.4 737L1287.8 737L1286.3 737L1284.8 737L1283.3 737L1281.8 737L1280.2 737L1278.7 737L1277.2 737L1275.7 737L1274.2 737L1272.6 737L1271.1 737L1269.6 737L1268.1 737L1266.6 737L1265.0 737L1263.5 737L1262.0 737L1260.5 737L1259.0 737L1257.4 737L1255.9 737L1254.4 737L1252.9 737L1251.4 737L1249.8 737L1248.3 737L1246.8 737L1245.3 737L1243.8 737L1242.2 737L1240.7 737L1239.2 737L1237.7 737L1236.2 737L1234.6 737L1233.1 737L1231.6 737L1230.1 737L1228.6 737L1227.0 737L1225.5 737L1224.0 737Z" fill="#b6b6b6"/>
<path d="M1224.0 735.3L1225.5 736.6L1227.0 735.7L1228.6 734.9L1230.1 736.0L1231.6 736.3L1233.1 736.9L1234.6 736.1L1236.2 737.2L1237.7 737.2L1239.2 737.0L1240.7 737.1L1242.2 736.5L1243.8 735.9L1245.3 736.6L1246.8 736.8L1248.3 736.4L1249.8 736.0L1251.4 735.2L1252.9 736.5L1254.4 736.3L1255.9 735.3L1257.4 736.1L1259.0 736.5L1260.5 736.0L1262.0 736.5L1263.5 736.4L1265.0 735.1L1266.6 735.7L1268.1 736.2L1269.6 736.4L1271.1 736.7L1272.6 734.7L1274.2 735.7L1275.7 736.2L1277.2 736.4L1278.7 736.7L1280.2 735.1L1281.8 735.4L1283.3 734.9L1284.8 736.0L1286.3 734.6L1287.8 736.0L1289.4 735.8L1290.9 735.4L1292.4 733.7L1293.9 734.5L1295.4 735.2L1297.0 733.7L1298.5 734.3L1300.0 734.2L1301.5 734.5L1303.0 734.0L1304.6 733.7L1306.1 733.0L1307.6 732.8L1309.1 732.1L1310.6 731.9L1312.2 730.4L1313.7 729.9L1315.2 726.8L1316.7 726.5L1318.2 723.1L1319.8 720.6L1321.3 715.8L1322.8 711.1L1324.3 705.3L1325.8 696.9L1327.4 689.3L1328.9 680.8L1330.4 673.1L1331.9 664.1L1333.4 657.4L1335.0 650.8L1336.5 645.4L1338.0 641.4L1339.5 636.9L1341.0 636.4L1342.6 635.7L1344.1 638.0L1345.6 638.9L1347.1 641.8L1348.6 645.9L1350.2 648.4L1351.7 653.7L1353.2 657.5L1354.7 662.1L1356.2 667.0L1357.8 671.5L1359.3 677.2L1360.8 681.2L1362.3 684.7L1363.8 690.4L1365.4 692.9L1366.9 697.2L1368.4 699.5L1369.9 702.5L1371.4 706.3L1373.0 707.6L1374.5 709.5L1376.0 711.2L1377.5 712.5L1379.0 714.6L1380.6 714.1L1382.1 715.1L1383.6 717.0L1385.1 716.3L1386.6 717.7L1388.2 719.2L1389.7 719.1L1391.2 719.3L1392.7 719.7L1394.2 720.0L1395.8 720.5L1397.3 721.1L1398.8 721.9L1400.3 721.8L1401.8 721.0L1403.4 720.9L1404.9 721.8L1406.4 720.4L1407.9 721.3L1409.4 721.6L1411.0 721.4L1412.5 721.8L1414.0 723.1L1415.5 722.4L1417.0 723.5L1418.6 724.2L1420.1 725.2L1421.6 724.9L1423.1 726.8L1424.6 726.3L1426.2 726.6L1427.7 726.8L1429.2 726.9L1430.7 726.9L1432.2 728.4L1433.8 728.0L1435.3 728.0L1436.8 728.8L1438.3 727.9L1439.8 728.8L1441.4 728.6L1442.9 728.1L1444.4 729.2L1445.9 727.9L1447.4 729.2L1449.0 728.4L1450.5 729.2L1452.0 729.9L1453.5 729.5L1455.0 728.8L1456.6 729.2L1458.1 729.1L1459.6 728.7L1461.1 728.8L1462.6 729.5L1464.2 729.9L1465.7 728.6L1467.2 729.6L1468.7 730.0L1469.6 729.7" fill="none" stroke="#138374" stroke-width="2.1" stroke-linejoin="round"/>
<path d="M1224.0 735.9L1225.5 737.1L1227.0 735.7L1228.6 736.8L1230.1 737.4L1231.6 735.3L1233.1 736.6L1234.6 736.7L1236.2 736.6L1237.7 736.0L1239.2 736.3L1240.7 735.6L1242.2 736.6L1243.8 736.8L1245.3 736.1L1246.8 735.9L1248.3 736.2L1249.8 736.5L1251.4 736.5L1252.9 736.4L1254.4 736.5L1255.9 735.7L1257.4 734.9L1259.0 736.9L1260.5 737.4L1262.0 735.7L1263.5 736.1L1265.0 736.7L1266.6 737.1L1268.1 736.9L1269.6 737.3L1271.1 736.5L1272.6 736.8L1274.2 736.8L1275.7 736.3L1277.2 737.3L1278.7 736.9L1280.2 737.1L1281.8 736.3L1283.3 737.2L1284.8 735.9L1286.3 736.8L1287.8 735.0L1289.4 735.9L1290.9 736.9L1292.4 736.1L1293.9 736.4L1295.4 735.3L1297.0 737.0L1298.5 736.4L1300.0 735.9L1301.5 736.0L1303.0 735.8L1304.6 736.2L1306.1 735.3L1307.6 733.9L1309.1 734.1L1310.6 734.3L1312.2 733.0L1313.7 731.3L1315.2 730.5L1316.7 728.3L1318.2 726.1L1319.8 721.6L1321.3 718.0L1322.8 713.8L1324.3 707.3L1325.8 700.6L1327.4 693.7L1328.9 684.3L1330.4 676.9L1331.9 669.6L1333.4 663.7L1335.0 659.4L1336.5 655.4L1338.0 653.5L1339.5 655.1L1341.0 654.4L1342.6 655.6L1344.1 656.1L1345.6 658.0L1347.1 660.7L1348.6 663.7L1350.2 666.1L1351.7 671.4L1353.2 674.3L1354.7 679.2L1356.2 684.8L1357.8 687.7L1359.3 693.0L1360.8 696.3L1362.3 701.2L1363.8 705.1L1365.4 709.7L1366.9 713.2L1368.4 717.0L1369.9 720.8L1371.4 721.9L1373.0 724.0L1374.5 726.2L1376.0 726.4L1377.5 727.0L1379.0 727.4L1380.6 728.5L1382.1 728.4L1383.6 729.0L1385.1 729.0L1386.6 730.4L1388.2 729.3L1389.7 728.6L1391.2 730.1L1392.7 730.2L1394.2 730.5L1395.8 729.7L1397.3 731.5L1398.8 731.0L1400.3 731.1L1401.8 730.4L1403.4 731.8L1404.9 731.7L1406.4 732.8L1407.9 732.0L1409.4 731.8L1411.0 732.9L1412.5 732.5L1414.0 733.5L1415.5 732.8L1417.0 733.5L1418.6 733.6L1420.1 733.8L1421.6 733.6L1423.1 733.6L1424.6 734.2L1426.2 734.0L1427.7 734.6L1429.2 734.4L1430.7 733.4L1432.2 734.7L1433.8 735.7L1435.3 735.2L1436.8 735.4L1438.3 735.5L1439.8 735.0L1441.4 734.6L1442.9 736.0L1444.4 736.2L1445.9 736.0L1447.4 735.9L1449.0 736.0L1450.5 735.8L1452.0 736.1L1453.5 736.0L1455.0 736.2L1456.6 735.5L1458.1 735.8L1459.6 736.6L1461.1 736.1L1462.6 734.9L1464.2 736.5L1465.7 735.1L1467.2 737.6L1468.7 736.9L1469.6 736.9" fill="none" stroke="#7b3f98" stroke-width="2.1" stroke-linejoin="round"/>
<path d="M1224.0 736.1L1225.5 735.8L1227.0 736.3L1228.6 736.4L1230.1 736.0L1231.6 736.5L1233.1 736.8L1234.6 736.8L1236.2 735.8L1237.7 735.2L1239.2 736.4L1240.7 736.0L1242.2 736.7L1243.8 737.3L1245.3 737.3L1246.8 736.5L1248.3 737.0L1249.8 737.3L1251.4 736.4L1252.9 736.5L1254.4 736.8L1255.9 736.3L1257.4 736.0L1259.0 735.9L1260.5 736.3L1262.0 735.9L1263.5 736.8L1265.0 736.1L1266.6 737.1L1268.1 737.0L1269.6 735.5L1271.1 736.9L1272.6 736.0L1274.2 737.0L1275.7 736.5L1277.2 736.2L1278.7 736.6L1280.2 735.9L1281.8 736.3L1283.3 736.4L1284.8 736.0L1286.3 736.3L1287.8 735.4L1289.4 736.2L1290.9 735.2L1292.4 736.1L1293.9 735.9L1295.4 735.9L1297.0 735.1L1298.5 737.0L1300.0 734.9L1301.5 735.0L1303.0 734.3L1304.6 735.3L1306.1 733.9L1307.6 734.4L1309.1 732.7L1310.6 732.7L1312.2 731.3L1313.7 730.9L1315.2 728.8L1316.7 726.5L1318.2 724.7L1319.8 720.5L1321.3 716.5L1322.8 712.4L1324.3 704.9L1325.8 699.3L1327.4 690.7L1328.9 682.3L1330.4 675.2L1331.9 668.5L1333.4 661.9L1335.0 657.4L1336.5 654.7L1338.0 652.4L1339.5 650.5L1341.0 649.4L1342.6 649.5L1344.1 650.8L1345.6 653.4L1347.1 655.8L1348.6 658.6L1350.2 662.7L1351.7 665.7L1353.2 669.9L1354.7 674.2L1356.2 679.9L1357.8 682.1L1359.3 688.0L1360.8 692.7L1362.3 697.0L1363.8 702.5L1365.4 705.6L1366.9 708.7L1368.4 710.7L1369.9 714.1L1371.4 716.0L1373.0 718.4L1374.5 720.3L1376.0 721.2L1377.5 722.7L1379.0 723.7L1380.6 723.7L1382.1 723.5L1383.6 722.4L1385.1 724.3L1386.6 724.5L1388.2 723.9L1389.7 723.9L1391.2 724.7L1392.7 724.0L1394.2 725.1L1395.8 724.2L1397.3 724.4L1398.8 725.2L1400.3 724.5L1401.8 725.5L1403.4 726.0L1404.9 725.2L1406.4 726.7L1407.9 726.1L1409.4 727.0L1411.0 727.1L1412.5 727.0L1414.0 727.4L1415.5 727.1L1417.0 728.1L1418.6 728.5L1420.1 730.3L1421.6 730.3L1423.1 729.3L1424.6 730.8L1426.2 730.8L1427.7 730.7L1429.2 731.5L1430.7 731.9L1432.2 731.3L1433.8 731.7L1435.3 732.1L1436.8 731.6L1438.3 732.4L1439.8 732.4L1441.4 732.1L1442.9 732.1L1444.4 732.9L1445.9 733.2L1447.4 733.0L1449.0 732.4L1450.5 733.4L1452.0 733.1L1453.5 733.4L1455.0 733.8L1456.6 732.7L1458.1 733.2L1459.6 733.0L1461.1 732.9L1462.6 734.6L1464.2 734.0L1465.7 732.6L1467.2 733.8L1468.7 733.3L1469.6 734.3" fill="none" stroke="#cc2590" stroke-width="2.1" stroke-linejoin="round"/>
<defs><path id="rl" d="M1224.0 736.5L1225.5 736.4L1227.0 736.5L1228.6 736.6L1230.1 736.5L1231.6 736.4L1233.1 736.4L1234.6 736.6L1236.2 736.1L1237.7 736.5L1239.2 736.4L1240.7 736.3L1242.2 736.7L1243.8 736.0L1245.3 736.3L1246.8 736.2L1248.3 736.6L1249.8 736.3L1251.4 736.4L1252.9 736.5L1254.4 735.9L1255.9 736.5L1257.4 736.1L1259.0 736.3L1260.5 736.3L1262.0 736.6L1263.5 736.6L1265.0 736.9L1266.6 736.4L1268.1 736.2L1269.6 736.1L1271.1 736.5L1272.6 736.8L1274.2 736.4L1275.7 736.1L1277.2 736.3L1278.7 736.3L1280.2 736.2L1281.8 736.0L1283.3 735.4L1284.8 736.0L1286.3 736.4L1287.8 736.1L1289.4 735.2L1290.9 735.9L1292.4 735.2L1293.9 736.3L1295.4 735.6L1297.0 735.0L1298.5 735.5L1300.0 734.9L1301.5 735.1L1303.0 734.8L1304.6 734.1L1306.1 734.5L1307.6 733.4L1309.1 733.7L1310.6 732.5L1312.2 731.3L1313.7 729.9L1315.2 729.5L1316.7 727.5L1318.2 724.1L1319.8 721.8L1321.3 717.2L1322.8 712.0L1324.3 705.9L1325.8 698.8L1327.4 691.5L1328.9 682.9L1330.4 674.5L1331.9 668.8L1333.4 662.5L1335.0 657.2L1336.5 654.2L1338.0 651.7L1339.5 650.6L1341.0 650.0L1342.6 650.2L1344.1 651.0L1345.6 652.8L1347.1 655.8L1348.6 658.4L1350.2 662.7L1351.7 665.6L1353.2 670.4L1354.7 674.4L1356.2 678.6L1357.8 683.8L1359.3 687.9L1360.8 692.2L1362.3 696.9L1363.8 701.5L1365.4 704.5L1366.9 708.7L1368.4 711.4L1369.9 713.7L1371.4 716.6L1373.0 718.9L1374.5 720.4L1376.0 721.5L1377.5 722.9L1379.0 723.3L1380.6 722.8L1382.1 723.3L1383.6 723.5L1385.1 723.6L1386.6 723.4L1388.2 724.4L1389.7 724.2L1391.2 724.4L1392.7 725.0L1394.2 724.5L1395.8 724.8L1397.3 725.1L1398.8 725.0L1400.3 725.3L1401.8 725.8L1403.4 725.7L1404.9 726.4L1406.4 725.9L1407.9 726.5L1409.4 726.2L1411.0 726.9L1412.5 727.1L1414.0 728.1L1415.5 728.3L1417.0 728.7L1418.6 729.5L1420.1 729.8L1421.6 730.0L1423.1 729.9L1424.6 729.9L1426.2 730.7L1427.7 730.8L1429.2 731.0L1430.7 731.3L1432.2 731.1L1433.8 732.4L1435.3 731.7L1436.8 732.0L1438.3 732.5L1439.8 731.9L1441.4 732.8L1442.9 732.9L1444.4 732.6L1445.9 732.4L1447.4 732.7L1449.0 732.3L1450.5 733.4L1452.0 733.0L1453.5 732.8L1455.0 732.8L1456.6 733.4L1458.1 733.8L1459.6 732.9L1461.1 733.2L1462.6 732.9L1464.2 733.7L1465.7 733.6L1467.2 734.3L1468.7 733.6L1469.6 733.5"/></defs>
<use href="#rl" fill="none" stroke="#ab0f34" stroke-opacity="0.35" stroke-width="6.5" stroke-linejoin="round"/>
<use href="#rl" fill="none" stroke="#ab0f34" stroke-width="4.3" stroke-linejoin="round"/>
<text transform="matrix(0.965 0 0 1 1209.3 744.9)" font-size="33.5" text-anchor="end">0</text>
<text transform="matrix(0.965 0 0 1 1209.3 697.1)" font-size="33.5" text-anchor="end">0.5</text>
<text transform="matrix(0.965 0 0 1 1209.3 648.1)" font-size="33.5" text-anchor="end">1.0</text>
<text transform="matrix(0.965 0 0 1 1209.3 599.1)" font-size="33.5" text-anchor="end">1.5</text>
<text transform="matrix(0.965 0 0 1 1273.4 770.4)" font-size="33.5" text-anchor="middle">−20</text>
<text transform="matrix(0.965 0 0 1 1340.9 770.4)" font-size="33.5" text-anchor="middle">0</text>
<text transform="matrix(0.965 0 0 1 1403.2 770.4)" font-size="33.5" text-anchor="middle">20</text>
<text transform="matrix(0.965 0 0 1 1463.5 770.4)" font-size="33.5" text-anchor="middle">40</text>
<text transform="matrix(0.95 0 0 1 1344.9 573.2)" font-size="34.3" text-anchor="middle">Exp 12</text>
<text x="1114.5" y="566.1" class="pl">(<tspan font-style="italic">l</tspan><tspan dx="3.1">)</tspan></text>
<path d="M119.9 859.4V1007H366.3" fill="none" stroke="#1e1e1e" stroke-width="1.8"/>
<path d="M119.9 958.2h4M119.9 909.4h4M119.9 860.6h4M174.4 1007v-4.3M235.2 1007v-4.3M296 1007v-4.3M356.8 1007v-4.3" stroke="#1e1e1e" stroke-width="1.8"/>
<path d="M120.5 1005.0L122.0 1005.0L123.5 1005.0L125.1 1005.0L126.6 1005.0L128.1 1005.0L129.6 1005.0L131.1 1005.0L132.7 1005.0L134.2 1005.0L135.7 1005.0L137.2 1005.0L138.7 1005.0L140.3 1005.0L141.8 1005.0L143.3 1005.0L144.8 1005.0L146.3 1005.0L147.9 1005.0L149.4 1005.0L150.9 1005.0L152.4 1005.0L153.9 1005.0L155.5 1005.0L157.0 1005.0L158.5 1005.0L160.0 1005.0L161.5 1005.0L163.1 1005.0L164.6 1005.0L166.1 1005.0L167.6 1005.0L169.1 1005.0L170.7 1005.0L172.2 1005.0L173.7 1005.0L175.2 1004.9L176.7 1004.9L178.3 1004.9L179.8 1004.9L181.3 1004.8L182.8 1004.8L184.3 1004.8L185.9 1004.7L187.4 1004.6L188.9 1004.6L190.4 1004.5L191.9 1004.4L193.5 1004.3L195.0 1004.2L196.5 1004.1L198.0 1004.0L199.5 1003.8L201.1 1003.5L202.6 1003.2L204.1 1002.8L205.6 1002.3L207.1 1001.6L208.7 1000.4L210.2 998.7L211.7 996.3L213.2 993.1L214.7 989.1L216.3 984.2L217.8 978.6L219.3 972.3L220.8 965.6L222.3 958.5L223.9 951.3L225.4 944.3L226.9 937.7L228.4 931.8L229.9 926.9L231.5 922.8L233.0 915.5L234.5 907.6L236.0 908.8L237.5 916.4L239.1 919.6L240.6 921.6L242.1 924.3L243.6 927.7L245.1 931.7L246.7 936.3L248.2 941.3L249.7 946.7L251.2 952.3L252.7 957.9L254.3 963.3L255.8 968.5L257.3 973.3L258.8 977.6L260.3 981.4L261.9 984.7L263.4 987.6L264.9 990.0L266.4 991.9L267.9 993.5L269.5 994.8L271.0 995.8L272.5 996.4L274.0 996.8L275.5 996.8L277.1 996.6L278.6 996.8L280.1 997.0L281.6 997.2L283.1 997.3L284.7 997.5L286.2 997.6L287.7 997.8L289.2 997.9L290.7 998.1L292.3 998.2L293.8 998.3L295.3 998.5L296.8 998.6L298.3 998.8L299.9 998.9L301.4 999.0L302.9 999.2L304.4 999.3L305.9 999.5L307.5 999.6L309.0 999.8L310.5 1000.0L312.0 1000.1L313.5 1000.3L315.1 1000.5L316.6 1000.6L318.1 1000.7L319.6 1000.8L321.1 1000.9L322.7 1001.0L324.2 1001.1L325.7 1001.2L327.2 1001.3L328.7 1001.4L330.3 1001.4L331.8 1001.4L333.3 1001.4L334.8 1001.4L336.3 1001.4L337.9 1001.4L339.4 1001.4L340.9 1001.4L342.4 1001.4L343.9 1001.4L345.5 1001.4L347.0 1001.4L348.5 1001.4L350.0 1001.4L351.5 1001.4L353.1 1001.4L354.6 1001.4L356.1 1001.4L357.6 1001.4L359.1 1001.4L360.7 1001.4L362.2 1001.4L363.7 1001.4L365.2 1001.4L365.4 1001.4L365.4 1005.4L365.2 1005.4L363.7 1005.4L362.2 1005.4L360.7 1005.4L359.1 1005.4L357.6 1005.4L356.1 1005.4L354.6 1005.4L353.1 1005.4L351.5 1005.4L350.0 1005.4L348.5 1005.4L347.0 1005.4L345.5 1005.4L343.9 1005.4L342.4 1005.4L340.9 1005.4L339.4 1005.4L337.9 1005.4L336.3 1005.4L334.8 1005.4L333.3 1005.4L331.8 1005.4L330.3 1005.4L328.7 1005.4L327.2 1005.3L325.7 1005.2L324.2 1005.1L322.7 1005.0L321.1 1004.9L319.6 1004.8L318.1 1004.7L316.6 1004.6L315.1 1004.5L313.5 1004.3L312.0 1004.1L310.5 1004.0L309.0 1003.8L307.5 1003.6L305.9 1003.5L304.4 1003.3L302.9 1003.2L301.4 1003.0L299.9 1002.9L298.3 1002.8L296.8 1002.6L295.3 1002.5L293.8 1002.3L292.3 1002.2L290.7 1002.1L289.2 1001.9L287.7 1001.8L286.2 1001.6L284.7 1001.5L283.1 1001.3L281.6 1001.2L280.1 1001.0L278.6 1000.8L277.1 1000.6L275.5 1000.4L274.0 1000.2L272.5 1000.0L271.0 999.6L269.5 998.8L267.9 997.6L266.4 996.1L264.9 994.2L263.4 991.8L261.9 988.9L260.3 985.6L258.8 981.7L257.3 977.5L255.8 972.7L254.3 967.5L252.7 962.1L251.2 956.5L249.7 950.9L248.2 945.5L246.7 940.5L245.1 935.6L243.6 931.1L242.1 927.3L240.6 924.5L239.1 922.5L237.5 921.0L236.0 920.4L234.5 920.9L233.0 922.7L231.5 925.8L229.9 929.8L228.4 934.7L226.9 940.6L225.4 947.3L223.9 954.3L222.3 961.4L220.8 968.5L219.3 975.3L217.8 981.5L216.3 987.2L214.7 992.0L213.2 996.0L211.7 999.2L210.2 1001.6L208.7 1003.4L207.1 1004.5L205.6 1005.2L204.1 1005.7L202.6 1006.2L201.1 1006.5L199.5 1006.7L198.0 1006.9L196.5 1007L195.0 1007L193.5 1007L191.9 1007L190.4 1007L188.9 1007L187.4 1007L185.9 1007L184.3 1007L182.8 1007L181.3 1007L179.8 1007L178.3 1007L176.7 1007L175.2 1007L173.7 1007L172.2 1007L170.7 1007L169.1 1007L167.6 1007L166.1 1007L164.6 1007L163.1 1007L161.5 1007L160.0 1007L158.5 1007L157.0 1007L155.5 1007L153.9 1007L152.4 1007L150.9 1007L149.4 1007L147.9 1007L146.3 1007L144.8 1007L143.3 1007L141.8 1007L140.3 1007L138.7 1007L137.2 1007L135.7 1007L134.2 1007L132.7 1007L131.1 1007L129.6 1007L128.1 1007L126.6 1007L125.1 1007L123.5 1007L122.0 1007L120.5 1007Z" fill="#b6b6b6"/>
<path d="M120.5 1006.1L122.0 1007.0L123.5 1005.6L125.1 1006.9L126.6 1006.6L128.1 1006.2L129.6 1006.0L131.1 1007.1L132.7 1007.6L134.2 1006.2L135.7 1006.8L137.2 1007.5L138.7 1006.1L140.3 1006.3L141.8 1005.8L143.3 1006.4L144.8 1006.4L146.3 1006.2L147.9 1006.1L149.4 1005.6L150.9 1005.7L152.4 1005.9L153.9 1006.8L155.5 1006.2L157.0 1006.0L158.5 1006.8L160.0 1006.8L161.5 1006.0L163.1 1006.1L164.6 1006.8L166.1 1006.6L167.6 1006.0L169.1 1006.6L170.7 1006.4L172.2 1007.1L173.7 1005.9L175.2 1006.9L176.7 1006.6L178.3 1005.8L179.8 1006.9L181.3 1006.8L182.8 1005.5L184.3 1007.4L185.9 1005.5L187.4 1005.6L188.9 1005.8L190.4 1006.4L191.9 1006.2L193.5 1005.7L195.0 1006.5L196.5 1005.8L198.0 1006.2L199.5 1006.9L201.1 1005.1L202.6 1003.2L204.1 1004.0L205.6 1003.2L207.1 1003.1L208.7 1002.0L210.2 999.4L211.7 997.1L213.2 994.4L214.7 990.4L216.3 984.2L217.8 980.6L219.3 973.8L220.8 967.0L222.3 960.1L223.9 952.2L225.4 945.8L226.9 939.8L228.4 933.9L229.9 928.6L231.5 924.1L233.0 920.8L234.5 920.2L236.0 919.2L237.5 919.3L239.1 919.8L240.6 922.9L242.1 925.4L243.6 931.1L245.1 934.9L246.7 939.2L248.2 944.6L249.7 951.6L251.2 956.4L252.7 960.5L254.3 966.7L255.8 971.2L257.3 975.7L258.8 981.1L260.3 986.2L261.9 989.1L263.4 991.0L264.9 993.2L266.4 995.4L267.9 997.5L269.5 997.2L271.0 997.7L272.5 1000.3L274.0 999.6L275.5 1000.6L277.1 1000.0L278.6 1000.9L280.1 999.9L281.6 1000.7L283.1 1001.5L284.7 1001.3L286.2 1000.6L287.7 1001.5L289.2 1000.7L290.7 1000.4L292.3 1001.7L293.8 1002.4L295.3 1002.2L296.8 1001.1L298.3 1002.5L299.9 1002.5L301.4 1002.0L302.9 1000.9L304.4 1003.1L305.9 1003.2L307.5 1003.2L309.0 1002.0L310.5 1002.3L312.0 1004.0L313.5 1004.0L315.1 1004.0L316.6 1003.7L318.1 1004.2L319.6 1003.7L321.1 1004.0L322.7 1003.7L324.2 1004.5L325.7 1004.2L327.2 1005.1L328.7 1005.0L330.3 1004.1L331.8 1005.7L333.3 1004.0L334.8 1004.9L336.3 1005.3L337.9 1005.4L339.4 1003.3L340.9 1005.3L342.4 1005.4L343.9 1005.5L345.5 1003.3L347.0 1004.3L348.5 1004.6L350.0 1004.4L351.5 1005.5L353.1 1004.3L354.6 1005.4L356.1 1005.0L357.6 1003.8L359.1 1004.1L360.7 1004.4L362.2 1004.7L363.7 1005.3L365.2 1004.5L365.4 1005.2" fill="none" stroke="#138374" stroke-width="2.1" stroke-linejoin="round"/>
<path d="M120.5 1005.6L122.0 1004.7L123.5 1006.3L125.1 1006.8L126.6 1006.3L128.1 1005.9L129.6 1006.8L131.1 1007.7L132.7 1006.4L134.2 1006.1L135.7 1006.0L137.2 1007.7L138.7 1006.5L140.3 1006.9L141.8 1007.2L143.3 1007.1L144.8 1005.9L146.3 1007.1L147.9 1007.0L149.4 1006.8L150.9 1007.1L152.4 1006.1L153.9 1006.4L155.5 1006.1L157.0 1006.9L158.5 1006.1L160.0 1006.7L161.5 1005.8L163.1 1006.4L164.6 1006.2L166.1 1006.4L167.6 1006.5L169.1 1006.3L170.7 1006.3L172.2 1005.2L173.7 1007.1L175.2 1006.0L176.7 1006.2L178.3 1005.9L179.8 1006.9L181.3 1005.8L182.8 1006.6L184.3 1006.9L185.9 1007.2L187.4 1006.8L188.9 1006.4L190.4 1005.2L191.9 1006.6L193.5 1006.5L195.0 1006.2L196.5 1006.1L198.0 1005.5L199.5 1004.9L201.1 1005.7L202.6 1005.5L204.1 1003.7L205.6 1004.3L207.1 1003.2L208.7 1002.4L210.2 1000.3L211.7 998.4L213.2 995.2L214.7 991.1L216.3 984.9L217.8 980.6L219.3 973.8L220.8 966.4L222.3 960.4L223.9 952.0L225.4 946.3L226.9 940.2L228.4 933.0L229.9 928.9L231.5 924.6L233.0 920.8L234.5 914.4L236.0 915.3L237.5 919.0L239.1 921.5L240.6 923.1L242.1 926.4L243.6 929.3L245.1 933.6L246.7 938.6L248.2 942.9L249.7 948.8L251.2 953.9L252.7 959.7L254.3 964.5L255.8 970.5L257.3 975.5L258.8 979.0L260.3 983.3L261.9 986.5L263.4 988.4L264.9 991.7L266.4 994.2L267.9 994.7L269.5 995.3L271.0 997.4L272.5 997.5L274.0 999.4L275.5 998.6L277.1 998.9L278.6 998.7L280.1 999.4L281.6 999.1L283.1 999.1L284.7 999.7L286.2 999.4L287.7 1000.8L289.2 999.5L290.7 1000.3L292.3 1000.1L293.8 999.8L295.3 1001.7L296.8 999.6L298.3 1001.9L299.9 1000.3L301.4 1001.4L302.9 1002.8L304.4 1000.3L305.9 1000.9L307.5 1002.7L309.0 1002.2L310.5 1001.9L312.0 1002.4L313.5 1002.0L315.1 1002.8L316.6 1003.7L318.1 1002.8L319.6 1003.2L321.1 1003.9L322.7 1004.5L324.2 1003.1L325.7 1003.7L327.2 1003.2L328.7 1003.2L330.3 1003.4L331.8 1003.3L333.3 1002.7L334.8 1002.5L336.3 1003.3L337.9 1003.8L339.4 1004.4L340.9 1003.4L342.4 1003.6L343.9 1004.1L345.5 1004.1L347.0 1003.6L348.5 1003.7L350.0 1004.8L351.5 1003.5L353.1 1003.4L354.6 1002.7L356.1 1004.0L357.6 1003.5L359.1 1004.8L360.7 1003.5L362.2 1004.2L363.7 1004.3L365.2 1004.7L365.4 1002.9" fill="none" stroke="#7b3f98" stroke-width="2.1" stroke-linejoin="round"/>
<path d="M120.5 1007.4L122.0 1006.5L123.5 1006.5L125.1 1006.3L126.6 1006.3L128.1 1006.3L129.6 1005.1L131.1 1006.8L132.7 1006.6L134.2 1006.0L135.7 1006.5L137.2 1007.9L138.7 1006.7L140.3 1006.3L141.8 1007.5L143.3 1006.0L144.8 1006.4L146.3 1006.2L147.9 1006.4L149.4 1006.9L150.9 1006.8L152.4 1006.1L153.9 1006.4L155.5 1006.5L157.0 1006.2L158.5 1006.5L160.0 1006.0L161.5 1006.0L163.1 1006.5L164.6 1005.9L166.1 1006.7L167.6 1006.3L169.1 1005.9L170.7 1006.1L172.2 1006.2L173.7 1006.3L175.2 1006.5L176.7 1006.3L178.3 1005.9L179.8 1007.2L181.3 1006.9L182.8 1006.4L184.3 1006.8L185.9 1006.4L187.4 1006.0L188.9 1006.1L190.4 1007.5L191.9 1006.5L193.5 1006.4L195.0 1005.5L196.5 1005.9L198.0 1006.8L199.5 1005.5L201.1 1005.6L202.6 1005.4L204.1 1004.7L205.6 1004.7L207.1 1003.2L208.7 1002.2L210.2 999.8L211.7 999.3L213.2 994.7L214.7 990.6L216.3 986.5L217.8 979.8L219.3 973.8L220.8 966.6L222.3 960.0L223.9 952.6L225.4 946.1L226.9 939.1L228.4 932.9L229.9 928.2L231.5 924.2L233.0 916.0L234.5 908.9L236.0 910.0L237.5 917.2L239.1 920.3L240.6 923.4L242.1 925.0L243.6 929.2L245.1 933.2L246.7 937.4L248.2 942.3L249.7 947.8L251.2 955.0L252.7 959.2L254.3 964.7L255.8 970.6L257.3 975.0L258.8 979.6L260.3 982.1L261.9 985.6L263.4 991.0L264.9 991.4L266.4 993.2L267.9 995.1L269.5 996.9L271.0 996.6L272.5 998.0L274.0 997.8L275.5 998.0L277.1 997.5L278.6 997.3L280.1 997.3L281.6 996.6L283.1 998.7L284.7 997.4L286.2 998.2L287.7 999.5L289.2 998.5L290.7 999.2L292.3 998.9L293.8 999.5L295.3 999.3L296.8 999.1L298.3 1000.3L299.9 999.5L301.4 999.1L302.9 999.8L304.4 1000.4L305.9 999.6L307.5 1000.9L309.0 1001.0L310.5 1002.0L312.0 1000.6L313.5 1001.5L315.1 1000.3L316.6 1001.1L318.1 1001.6L319.6 1001.9L321.1 1001.7L322.7 1001.8L324.2 1001.6L325.7 1001.8L327.2 1002.3L328.7 1002.5L330.3 1002.6L331.8 1002.8L333.3 1002.9L334.8 1001.2L336.3 1001.9L337.9 1002.1L339.4 1001.9L340.9 1002.8L342.4 1002.7L343.9 1002.2L345.5 1002.3L347.0 1003.0L348.5 1002.0L350.0 1002.1L351.5 1002.8L353.1 1002.5L354.6 1003.0L356.1 1002.4L357.6 1002.7L359.1 1001.9L360.7 1001.7L362.2 1002.2L363.7 1000.7L365.2 1002.5L365.4 1002.8" fill="none" stroke="#cc2590" stroke-width="2.1" stroke-linejoin="round"/>
<defs><path id="rm" d="M120.5 1006.5L122.0 1006.4L123.5 1006.9L125.1 1006.5L126.6 1006.8L128.1 1007.2L129.6 1006.8L131.1 1006.8L132.7 1006.7L134.2 1006.6L135.7 1006.6L137.2 1006.5L138.7 1006.9L140.3 1006.0L141.8 1006.4L143.3 1006.7L144.8 1006.2L146.3 1006.5L147.9 1006.3L149.4 1006.6L150.9 1006.8L152.4 1007.0L153.9 1006.6L155.5 1006.2L157.0 1006.6L158.5 1006.7L160.0 1006.9L161.5 1005.7L163.1 1006.6L164.6 1005.8L166.1 1006.7L167.6 1006.6L169.1 1006.6L170.7 1006.7L172.2 1006.6L173.7 1006.2L175.2 1006.5L176.7 1006.8L178.3 1006.3L179.8 1006.4L181.3 1005.9L182.8 1006.7L184.3 1006.1L185.9 1005.9L187.4 1006.0L188.9 1005.8L190.4 1005.9L191.9 1006.3L193.5 1006.1L195.0 1006.2L196.5 1006.1L198.0 1005.1L199.5 1005.4L201.1 1005.5L202.6 1005.5L204.1 1003.8L205.6 1003.3L207.1 1003.2L208.7 1001.8L210.2 999.8L211.7 997.9L213.2 994.3L214.7 989.8L216.3 985.7L217.8 980.1L219.3 974.0L220.8 967.3L222.3 960.0L223.9 952.7L225.4 945.6L226.9 938.6L228.4 933.1L229.9 928.7L231.5 924.5L233.0 921.9L234.5 919.4L236.0 918.3L237.5 919.8L239.1 921.4L240.6 922.7L242.1 925.2L243.6 929.2L245.1 933.4L246.7 937.4L248.2 942.7L249.7 947.9L251.2 953.4L252.7 958.9L254.3 964.9L255.8 969.9L257.3 974.5L258.8 978.2L260.3 983.4L261.9 985.9L263.4 989.0L264.9 991.1L266.4 993.5L267.9 994.5L269.5 996.3L271.0 997.2L272.5 998.2L274.0 997.9L275.5 998.4L277.1 998.8L278.6 999.8L280.1 998.8L281.6 999.5L283.1 999.4L284.7 999.8L286.2 1000.1L287.7 1000.1L289.2 1000.3L290.7 1000.4L292.3 1000.3L293.8 1000.5L295.3 1000.2L296.8 1000.8L298.3 1000.8L299.9 1001.1L301.4 1001.5L302.9 1001.6L304.4 1001.7L305.9 1002.1L307.5 1001.1L309.0 1002.2L310.5 1002.2L312.0 1002.4L313.5 1002.1L315.1 1002.9L316.6 1003.2L318.1 1003.3L319.6 1003.0L321.1 1003.4L322.7 1003.6L324.2 1004.0L325.7 1003.9L327.2 1003.6L328.7 1003.6L330.3 1003.7L331.8 1003.7L333.3 1003.5L334.8 1003.9L336.3 1003.5L337.9 1003.4L339.4 1003.8L340.9 1003.5L342.4 1003.6L343.9 1003.0L345.5 1003.9L347.0 1003.7L348.5 1003.6L350.0 1003.8L351.5 1003.8L353.1 1003.4L354.6 1004.4L356.1 1003.5L357.6 1004.0L359.1 1004.3L360.7 1003.5L362.2 1003.7L363.7 1003.4L365.2 1004.0L365.4 1003.6"/></defs>
<use href="#rm" fill="none" stroke="#ab0f34" stroke-opacity="0.35" stroke-width="6.5" stroke-linejoin="round"/>
<use href="#rm" fill="none" stroke="#ab0f34" stroke-width="4.3" stroke-linejoin="round"/>
<text transform="matrix(0.965 0 0 1 109.3 1014.9)" font-size="33.5" text-anchor="end">0</text>
<text transform="matrix(0.965 0 0 1 109.3 967.3)" font-size="33.5" text-anchor="end">0.5</text>
<text transform="matrix(0.965 0 0 1 109.3 918.5)" font-size="33.5" text-anchor="end">1.0</text>
<text transform="matrix(0.965 0 0 1 109.3 869.7)" font-size="33.5" text-anchor="end">1.5</text>
<text transform="matrix(0.965 0 0 1 167.6 1040.4)" font-size="33.5" text-anchor="middle">−20</text>
<text transform="matrix(0.965 0 0 1 234.7 1040.4)" font-size="33.5" text-anchor="middle">0</text>
<text transform="matrix(0.965 0 0 1 295.5 1040.4)" font-size="33.5" text-anchor="middle">20</text>
<text transform="matrix(0.965 0 0 1 358.4 1040.4)" font-size="33.5" text-anchor="middle">40</text>
<text transform="matrix(0.95 0 0 1 241.4 839.6)" font-size="34.3" text-anchor="middle">Exp 13</text>
<text x="22" y="838.9" class="pl">(<tspan font-style="italic">m</tspan><tspan dx="-2.6">)</tspan></text>
<path d="M488.2 859.4V1007H735" fill="none" stroke="#1e1e1e" stroke-width="1.8"/>
<path d="M488.2 958.2h4M488.2 909.4h4M488.2 860.6h4M545 1007v-4.3M605.8 1007v-4.3M666.6 1007v-4.3M727.4 1007v-4.3" stroke="#1e1e1e" stroke-width="1.8"/>
<path d="M488.8 1003.7L490.3 1003.7L491.8 1003.7L493.4 1003.7L494.9 1003.7L496.4 1003.7L497.9 1003.7L499.4 1003.6L501.0 1003.6L502.5 1003.6L504.0 1003.6L505.5 1003.6L507.0 1003.6L508.6 1003.5L510.1 1003.5L511.6 1003.5L513.1 1003.5L514.6 1003.5L516.2 1003.5L517.7 1003.4L519.2 1003.4L520.7 1003.4L522.2 1003.4L523.8 1003.4L525.3 1003.3L526.8 1003.3L528.3 1003.3L529.8 1003.3L531.4 1003.2L532.9 1003.2L534.4 1003.2L535.9 1003.2L537.4 1003.1L539.0 1003.1L540.5 1003.1L542.0 1003.1L543.5 1003.0L545.0 1003.0L546.6 1003.0L548.1 1002.9L549.6 1002.9L551.1 1002.8L552.6 1002.7L554.2 1002.7L555.7 1002.6L557.2 1002.5L558.7 1002.4L560.2 1002.3L561.8 1002.1L563.3 1002.0L564.8 1001.9L566.3 1001.8L567.8 1001.6L569.4 1001.5L570.9 1001.3L572.4 1001.0L573.9 1000.6L575.4 999.9L577.0 999.1L578.5 998.1L580.0 996.7L581.5 994.8L583.0 992.3L584.6 989.0L586.1 984.5L587.6 979.0L589.1 972.6L590.6 965.6L592.2 957.9L593.7 950.0L595.2 942.3L596.7 935.1L598.2 928.2L599.8 921.9L601.3 916.4L602.8 912.1L604.3 909.0L605.8 907.7L607.4 908.0L608.9 909.5L610.4 911.8L611.9 914.7L613.4 918.1L615.0 922.1L616.5 926.5L618.0 931.0L619.5 935.6L621.0 940.2L622.6 945.1L624.1 950.2L625.6 955.7L627.1 961.3L628.6 966.6L630.2 971.3L631.7 975.4L633.2 979.1L634.7 981.8L636.2 983.8L637.8 985.6L639.3 987.0L640.8 988.1L642.3 989.0L643.8 989.6L645.4 990.1L646.9 990.4L648.4 990.7L649.9 990.9L651.4 991.1L653.0 991.4L654.5 991.6L656.0 991.8L657.5 992.1L659.0 992.2L660.6 992.2L662.1 992.1L663.6 991.7L665.1 991.5L666.6 991.7L668.2 992.2L669.7 992.9L671.2 993.4L672.7 993.8L674.2 994.1L675.8 994.4L677.3 994.6L678.8 994.8L680.3 994.9L681.8 995.0L683.4 995.1L684.9 995.1L686.4 995.1L687.9 995.1L689.4 995.2L691.0 995.2L692.5 995.3L694.0 995.3L695.5 995.4L697.0 995.4L698.6 995.4L700.1 995.4L701.6 995.5L703.1 995.4L704.6 995.4L706.2 995.4L707.7 995.4L709.2 995.4L710.7 995.3L712.2 995.3L713.8 995.3L715.3 995.2L716.8 995.2L718.3 995.2L719.8 995.2L721.4 995.2L722.9 995.2L724.4 995.1L725.9 995.1L727.4 995.1L729.0 995.1L730.5 995.1L732.0 995.1L733.5 995.0L734.1 995.0L734.1 1007L733.5 1007L732.0 1007L730.5 1007L729.0 1007L727.4 1007L725.9 1007L724.4 1007L722.9 1007L721.4 1007L719.8 1007L718.3 1007L716.8 1007L715.3 1007L713.8 1007L712.2 1007L710.7 1007L709.2 1007L707.7 1007L706.2 1007L704.6 1007L703.1 1007.0L701.6 1006.9L700.1 1006.9L698.6 1006.8L697.0 1006.7L695.5 1006.6L694.0 1006.6L692.5 1006.5L691.0 1006.4L689.4 1006.3L687.9 1006.1L686.4 1006.0L684.9 1006.0L683.4 1005.9L681.8 1005.9L680.3 1005.9L678.8 1005.8L677.3 1005.8L675.8 1005.8L674.2 1005.7L672.7 1005.6L671.2 1005.5L669.7 1005.2L668.2 1004.9L666.6 1004.7L665.1 1004.8L663.6 1005.3L662.1 1005.8L660.6 1006.1L659.0 1006.2L657.5 1006.3L656.0 1006.3L654.5 1006.3L653.0 1006.2L651.4 1006.2L649.9 1006.1L648.4 1005.9L646.9 1005.7L645.4 1005.3L643.8 1004.8L642.3 1004.2L640.8 1003.3L639.3 1002.0L637.8 1000.3L636.2 998.1L634.7 995.6L633.2 992.3L631.7 989.4L630.2 986.0L628.6 982.1L627.1 977.6L625.6 972.8L624.1 967.7L622.6 962.5L621.0 957.2L619.5 952.0L618.0 947.0L616.5 942.0L615.0 937.5L613.4 933.9L611.9 931.6L610.4 930.1L608.9 929.2L607.4 928.8L605.8 928.9L604.3 929.1L602.8 929.3L601.3 930.4L599.8 933.5L598.2 938.6L596.7 944.5L595.2 951.1L593.7 958.2L592.2 965.6L590.6 972.8L589.1 979.5L587.6 985.6L586.1 990.8L584.6 995.1L583.0 998.3L581.5 1000.8L580.0 1002.6L578.5 1004.0L577.0 1005.0L575.4 1005.7L573.9 1006.3L572.4 1006.7L570.9 1007.0L569.4 1007L567.8 1007L566.3 1007L564.8 1007L563.3 1007L561.8 1007L560.2 1007L558.7 1007L557.2 1007L555.7 1007L554.2 1007L552.6 1007L551.1 1007L549.6 1007L548.1 1007L546.6 1007L545.0 1007L543.5 1007L542.0 1007L540.5 1007L539.0 1007L537.4 1007L535.9 1007L534.4 1007L532.9 1007L531.4 1007L529.8 1007L528.3 1007L526.8 1007L525.3 1007L523.8 1007L522.2 1007L520.7 1007L519.2 1007L517.7 1007L516.2 1007L514.6 1007L513.1 1007L511.6 1007L510.1 1007L508.6 1007L507.0 1007L505.5 1007L504.0 1007L502.5 1007L501.0 1007L499.4 1007L497.9 1007L496.4 1007L494.9 1007L493.4 1007L491.8 1007L490.3 1007L488.8 1007Z" fill="#b6b6b6"/>
<path d="M488.8 1003.9L490.3 1005.2L491.8 1005.0L493.4 1004.0L494.9 1005.1L496.4 1004.6L497.9 1006.0L499.4 1005.4L501.0 1004.1L502.5 1004.2L504.0 1003.9L505.5 1004.4L507.0 1004.4L508.6 1004.8L510.1 1004.4L511.6 1003.5L513.1 1003.8L514.6 1005.1L516.2 1004.9L517.7 1004.1L519.2 1004.1L520.7 1004.1L522.2 1004.2L523.8 1003.2L525.3 1004.6L526.8 1003.7L528.3 1004.1L529.8 1002.6L531.4 1004.2L532.9 1004.8L534.4 1002.7L535.9 1004.8L537.4 1004.2L539.0 1003.5L540.5 1003.0L542.0 1004.5L543.5 1004.0L545.0 1004.1L546.6 1003.6L548.1 1003.2L549.6 1004.1L551.1 1003.0L552.6 1004.0L554.2 1002.5L555.7 1002.8L557.2 1002.4L558.7 1003.9L560.2 1002.0L561.8 1002.3L563.3 1003.2L564.8 1002.8L566.3 1003.8L567.8 1003.5L569.4 1002.6L570.9 1002.5L572.4 1000.7L573.9 1000.8L575.4 1000.5L577.0 999.8L578.5 998.1L580.0 996.9L581.5 995.1L583.0 993.7L584.6 990.0L586.1 985.2L587.6 979.8L589.1 973.7L590.6 965.9L592.2 958.5L593.7 949.8L595.2 943.5L596.7 936.4L598.2 929.2L599.8 922.9L601.3 917.4L602.8 914.0L604.3 909.9L605.8 907.7L607.4 908.1L608.9 910.6L610.4 913.2L611.9 915.9L613.4 919.4L615.0 923.0L616.5 926.4L618.0 931.3L619.5 935.3L621.0 940.8L622.6 945.1L624.1 951.0L625.6 956.4L627.1 961.0L628.6 967.8L630.2 972.5L631.7 975.4L633.2 979.9L634.7 983.0L636.2 984.5L637.8 986.8L639.3 987.9L640.8 989.5L642.3 989.8L643.8 990.3L645.4 991.2L646.9 991.7L648.4 991.6L649.9 991.4L651.4 991.4L653.0 991.9L654.5 992.1L656.0 992.7L657.5 992.9L659.0 992.9L660.6 993.0L662.1 992.9L663.6 993.4L665.1 993.0L666.6 992.1L668.2 993.2L669.7 993.4L671.2 994.1L672.7 994.4L674.2 994.5L675.8 994.4L677.3 994.0L678.8 995.7L680.3 996.4L681.8 995.3L683.4 996.1L684.9 995.7L686.4 996.1L687.9 995.6L689.4 996.1L691.0 996.2L692.5 995.0L694.0 996.6L695.5 996.5L697.0 995.2L698.6 997.1L700.1 996.7L701.6 996.9L703.1 997.0L704.6 996.6L706.2 996.2L707.7 996.6L709.2 996.6L710.7 998.2L712.2 997.9L713.8 996.6L715.3 996.6L716.8 997.1L718.3 997.2L719.8 996.5L721.4 996.3L722.9 998.0L724.4 997.5L725.9 996.0L727.4 995.9L729.0 996.5L730.5 997.1L732.0 997.3L733.5 996.7L734.1 996.0" fill="none" stroke="#138374" stroke-width="2.1" stroke-linejoin="round"/>
<path d="M488.8 1006.6L490.3 1006.8L491.8 1006.5L493.4 1006.2L494.9 1006.8L496.4 1006.4L497.9 1005.8L499.4 1006.5L501.0 1005.7L502.5 1007.0L504.0 1006.7L505.5 1005.9L507.0 1006.5L508.6 1007.1L510.1 1005.2L511.6 1006.3L513.1 1007.4L514.6 1005.5L516.2 1006.3L517.7 1005.5L519.2 1006.3L520.7 1005.0L522.2 1005.4L523.8 1006.0L525.3 1006.4L526.8 1006.6L528.3 1006.6L529.8 1007.0L531.4 1006.7L532.9 1006.7L534.4 1005.7L535.9 1006.2L537.4 1008.1L539.0 1007.6L540.5 1006.7L542.0 1006.7L543.5 1006.8L545.0 1006.0L546.6 1007.3L548.1 1005.9L549.6 1006.1L551.1 1007.4L552.6 1004.9L554.2 1006.2L555.7 1005.0L557.2 1005.5L558.7 1005.8L560.2 1005.6L561.8 1005.8L563.3 1005.2L564.8 1005.5L566.3 1004.7L567.8 1005.1L569.4 1004.4L570.9 1005.4L572.4 1003.9L573.9 1004.7L575.4 1003.4L577.0 1002.6L578.5 1002.5L580.0 1000.5L581.5 997.4L583.0 996.3L584.6 991.0L586.1 988.6L587.6 982.8L589.1 976.1L590.6 970.2L592.2 962.8L593.7 956.7L595.2 948.1L596.7 942.9L598.2 936.5L599.8 930.2L601.3 925.9L602.8 924.1L604.3 924.2L605.8 926.1L607.4 925.7L608.9 925.7L610.4 927.4L611.9 929.0L613.4 931.4L615.0 935.7L616.5 941.1L618.0 945.6L619.5 949.4L621.0 954.5L622.6 959.8L624.1 965.4L625.6 969.8L627.1 974.2L628.6 978.6L630.2 983.3L631.7 987.5L633.2 988.4L634.7 989.9L636.2 993.6L637.8 994.8L639.3 996.4L640.8 998.1L642.3 998.2L643.8 998.0L645.4 998.1L646.9 999.6L648.4 999.1L649.9 1000.1L651.4 999.3L653.0 999.9L654.5 999.3L656.0 1000.0L657.5 1000.0L659.0 1000.7L660.6 1001.1L662.1 999.9L663.6 999.2L665.1 1000.6L666.6 999.8L668.2 1000.5L669.7 1001.1L671.2 1002.1L672.7 1002.3L674.2 1002.4L675.8 1002.7L677.3 1002.0L678.8 1002.4L680.3 1002.9L681.8 1003.3L683.4 1003.5L684.9 1003.8L686.4 1003.9L687.9 1003.8L689.4 1003.2L691.0 1004.9L692.5 1004.9L694.0 1004.2L695.5 1005.2L697.0 1005.2L698.6 1005.2L700.1 1004.1L701.6 1004.6L703.1 1005.1L704.6 1006.5L706.2 1005.1L707.7 1005.5L709.2 1005.1L710.7 1005.6L712.2 1006.1L713.8 1004.7L715.3 1004.3L716.8 1006.5L718.3 1006.2L719.8 1005.8L721.4 1006.8L722.9 1006.9L724.4 1005.1L725.9 1006.3L727.4 1007.1L729.0 1006.1L730.5 1006.4L732.0 1007.1L733.5 1006.4L734.1 1005.9" fill="none" stroke="#7b3f98" stroke-width="2.1" stroke-linejoin="round"/>
<path d="M488.8 1006.1L490.3 1005.7L491.8 1006.8L493.4 1005.4L494.9 1007.1L496.4 1005.5L497.9 1006.5L499.4 1005.6L501.0 1006.3L502.5 1007.1L504.0 1007.1L505.5 1007.2L507.0 1006.4L508.6 1006.5L510.1 1006.6L511.6 1006.8L513.1 1006.2L514.6 1007.1L516.2 1006.6L517.7 1007.1L519.2 1006.7L520.7 1006.8L522.2 1005.9L523.8 1006.1L525.3 1005.6L526.8 1006.2L528.3 1006.2L529.8 1006.8L531.4 1005.5L532.9 1008.2L534.4 1006.2L535.9 1007.0L537.4 1006.9L539.0 1004.7L540.5 1006.1L542.0 1007.1L543.5 1004.8L545.0 1006.7L546.6 1005.6L548.1 1005.9L549.6 1006.3L551.1 1005.0L552.6 1006.2L554.2 1005.6L555.7 1005.5L557.2 1006.4L558.7 1008.0L560.2 1006.0L561.8 1006.0L563.3 1005.6L564.8 1005.1L566.3 1005.6L567.8 1006.2L569.4 1005.3L570.9 1005.5L572.4 1004.6L573.9 1005.8L575.4 1002.6L577.0 1003.2L578.5 1002.1L580.0 1000.5L581.5 997.8L583.0 995.3L584.6 992.6L586.1 988.5L587.6 982.4L589.1 976.3L590.6 970.5L592.2 963.6L593.7 955.2L595.2 948.0L596.7 941.3L598.2 937.2L599.8 930.8L601.3 926.4L602.8 923.9L604.3 922.5L605.8 920.8L607.4 919.4L608.9 921.4L610.4 923.0L611.9 925.5L613.4 928.0L615.0 932.4L616.5 936.5L618.0 942.2L619.5 947.1L621.0 951.4L622.6 956.5L624.1 962.4L625.6 968.1L627.1 972.9L628.6 977.4L630.2 980.5L631.7 987.0L633.2 991.1L634.7 994.6L636.2 996.6L637.8 999.2L639.3 1000.8L640.8 1004.2L642.3 1003.8L643.8 1003.9L645.4 1004.5L646.9 1004.8L648.4 1005.2L649.9 1005.0L651.4 1005.3L653.0 1006.0L654.5 1006.0L656.0 1005.7L657.5 1006.3L659.0 1005.6L660.6 1004.7L662.1 1004.0L663.6 1004.1L665.1 1004.0L666.6 1004.1L668.2 1004.8L669.7 1004.1L671.2 1004.2L672.7 1005.3L674.2 1005.6L675.8 1004.7L677.3 1005.2L678.8 1005.8L680.3 1005.2L681.8 1005.0L683.4 1003.9L684.9 1006.0L686.4 1005.6L687.9 1005.4L689.4 1005.2L691.0 1004.8L692.5 1005.6L694.0 1005.7L695.5 1006.5L697.0 1005.2L698.6 1006.9L700.1 1006.1L701.6 1006.8L703.1 1005.6L704.6 1006.4L706.2 1007.0L707.7 1006.3L709.2 1005.4L710.7 1006.1L712.2 1006.7L713.8 1005.5L715.3 1005.5L716.8 1006.5L718.3 1005.8L719.8 1006.9L721.4 1005.8L722.9 1005.4L724.4 1006.1L725.9 1007.5L727.4 1006.1L729.0 1006.6L730.5 1006.7L732.0 1006.0L733.5 1007.2L734.1 1006.7" fill="none" stroke="#cc2590" stroke-width="2.1" stroke-linejoin="round"/>
<defs><path id="rn" d="M488.8 1006.6L490.3 1005.9L491.8 1005.9L493.4 1005.5L494.9 1006.4L496.4 1006.4L497.9 1006.7L499.4 1007.0L501.0 1006.4L502.5 1006.4L504.0 1006.6L505.5 1007.0L507.0 1006.1L508.6 1006.6L510.1 1006.3L511.6 1006.3L513.1 1006.7L514.6 1006.1L516.2 1006.0L517.7 1006.6L519.2 1006.4L520.7 1006.3L522.2 1006.3L523.8 1006.5L525.3 1006.2L526.8 1006.6L528.3 1006.5L529.8 1006.8L531.4 1006.8L532.9 1006.6L534.4 1006.2L535.9 1006.3L537.4 1006.1L539.0 1007.3L540.5 1006.2L542.0 1006.4L543.5 1006.7L545.0 1005.7L546.6 1005.9L548.1 1006.0L549.6 1005.8L551.1 1005.7L552.6 1005.9L554.2 1006.5L555.7 1006.2L557.2 1005.9L558.7 1005.9L560.2 1005.2L561.8 1006.0L563.3 1005.8L564.8 1005.2L566.3 1005.5L567.8 1005.2L569.4 1005.0L570.9 1004.6L572.4 1004.5L573.9 1003.9L575.4 1003.8L577.0 1002.9L578.5 1001.9L580.0 1000.3L581.5 998.4L583.0 996.7L584.6 992.1L586.1 988.8L587.6 983.2L589.1 977.0L590.6 970.0L592.2 962.9L593.7 955.1L595.2 947.9L596.7 941.7L598.2 935.1L599.8 930.8L601.3 926.8L602.8 922.1L604.3 920.6L605.8 920.2L607.4 920.4L608.9 921.5L610.4 923.4L611.9 926.0L613.4 929.1L615.0 933.2L616.5 937.2L618.0 942.4L619.5 946.6L621.0 952.2L622.6 957.1L624.1 963.2L625.6 968.6L627.1 972.8L628.6 976.5L630.2 980.8L631.7 984.2L633.2 987.1L634.7 989.8L636.2 991.8L637.8 992.3L639.3 995.1L640.8 995.6L642.3 996.4L643.8 997.7L645.4 997.6L646.9 997.6L648.4 997.8L649.9 998.5L651.4 998.9L653.0 999.2L654.5 998.7L656.0 998.7L657.5 999.5L659.0 998.8L660.6 999.4L662.1 998.8L663.6 998.5L665.1 998.1L666.6 998.4L668.2 998.7L669.7 999.3L671.2 1000.0L672.7 1000.2L674.2 1000.9L675.8 1001.1L677.3 1001.2L678.8 1001.5L680.3 1001.8L681.8 1002.7L683.4 1002.3L684.9 1002.3L686.4 1002.6L687.9 1003.1L689.4 1003.0L691.0 1003.2L692.5 1003.4L694.0 1003.7L695.5 1003.9L697.0 1004.1L698.6 1003.5L700.1 1003.8L701.6 1003.4L703.1 1004.7L704.6 1004.9L706.2 1005.1L707.7 1004.7L709.2 1005.2L710.7 1004.8L712.2 1004.9L713.8 1004.4L715.3 1004.8L716.8 1004.9L718.3 1005.5L719.8 1005.8L721.4 1005.1L722.9 1005.5L724.4 1005.5L725.9 1005.2L727.4 1004.9L729.0 1005.3L730.5 1005.1L732.0 1005.5L733.5 1005.6L734.1 1005.6"/></defs>
<use href="#rn" fill="none" stroke="#ab0f34" stroke-opacity="0.35" stroke-width="6.5" stroke-linejoin="round"/>
<use href="#rn" fill="none" stroke="#ab0f34" stroke-width="4.3" stroke-linejoin="round"/>
<text transform="matrix(0.965 0 0 1 477.6 1014.9)" font-size="33.5" text-anchor="end">0</text>
<text transform="matrix(0.965 0 0 1 477.6 967.3)" font-size="33.5" text-anchor="end">0.5</text>
<text transform="matrix(0.965 0 0 1 477.6 918.5)" font-size="33.5" text-anchor="end">1.0</text>
<text transform="matrix(0.965 0 0 1 477.6 869.7)" font-size="33.5" text-anchor="end">1.5</text>
<text transform="matrix(0.965 0 0 1 537.1 1040.4)" font-size="33.5" text-anchor="middle">−20</text>
<text transform="matrix(0.965 0 0 1 604.4 1040.4)" font-size="33.5" text-anchor="middle">0</text>
<text transform="matrix(0.965 0 0 1 666.6 1040.4)" font-size="33.5" text-anchor="middle">20</text>
<text transform="matrix(0.965 0 0 1 728.4 1040.4)" font-size="33.5" text-anchor="middle">40</text>
<text transform="matrix(0.95 0 0 1 612.2 839.6)" font-size="34.3" text-anchor="middle">Exp 14</text>
<text x="397.1" y="837.1" class="pl">(<tspan font-style="italic">n</tspan><tspan dx="-2.9">)</tspan></text>
<path d="M857.4 859.4V1007H1103.7" fill="none" stroke="#1e1e1e" stroke-width="1.8"/>
<path d="M857.4 958.2h4M857.4 909.4h4M857.4 860.6h4M911.1 1007v-4.3M973.7 1007v-4.3M1036.3 1007v-4.3M1098.9 1007v-4.3" stroke="#1e1e1e" stroke-width="1.8"/>
<path d="M858.0 1005.0L859.6 1005.0L861.2 1005.0L862.7 1005.0L864.3 1005.0L865.9 1005.0L867.4 1005.0L869.0 1005.0L870.5 1004.9L872.1 1004.9L873.7 1004.9L875.2 1004.9L876.8 1004.9L878.4 1004.9L879.9 1004.9L881.5 1004.9L883.1 1004.8L884.6 1004.8L886.2 1004.8L887.8 1004.8L889.3 1004.8L890.9 1004.8L892.5 1004.7L894.0 1004.7L895.6 1004.7L897.2 1004.7L898.7 1004.6L900.3 1004.6L901.8 1004.6L903.4 1004.6L905.0 1004.5L906.5 1004.5L908.1 1004.5L909.7 1004.5L911.2 1004.4L912.8 1004.4L914.4 1004.3L915.9 1004.3L917.5 1004.2L919.1 1004.1L920.6 1004.0L922.2 1003.9L923.8 1003.8L925.3 1003.7L926.9 1003.5L928.5 1003.4L930.0 1003.2L931.6 1003.0L933.1 1002.8L934.7 1002.5L936.3 1002.3L937.8 1002.0L939.4 1001.6L941.0 1001.1L942.5 1000.3L944.1 999.1L945.7 997.5L947.2 995.6L948.8 993.2L950.4 990.3L951.9 986.8L953.5 982.8L955.1 978.1L956.6 972.7L958.2 966.7L959.8 960.0L961.3 952.8L962.9 945.4L964.4 938.2L966.0 931.4L967.6 925.6L969.1 919.5L970.7 913.3L972.3 908.4L973.8 906.3L975.4 903.5L977.0 908.4L978.5 911.0L980.1 914.6L981.7 919.3L983.2 924.2L984.8 929.4L986.4 934.9L987.9 940.3L989.5 945.4L991.1 950.4L992.6 955.3L994.2 960.1L995.7 964.8L997.3 969.1L998.9 972.9L1000.4 976.3L1002.0 979.3L1003.6 981.9L1005.1 984.1L1006.7 986.0L1008.3 987.7L1009.8 989.2L1011.4 990.3L1013.0 991.2L1014.5 991.9L1016.1 992.4L1017.7 992.8L1019.2 993.1L1020.8 993.3L1022.4 993.4L1023.9 993.6L1025.5 993.7L1027.0 993.8L1028.6 993.9L1030.2 994.1L1031.7 994.2L1033.3 994.4L1034.9 994.7L1036.4 994.9L1038.0 995.1L1039.6 995.4L1041.1 995.6L1042.7 995.9L1044.3 996.1L1045.8 996.4L1047.4 996.6L1049.0 996.9L1050.5 997.2L1052.1 997.4L1053.7 997.7L1055.2 997.9L1056.8 998.1L1058.3 998.2L1059.9 998.4L1061.5 998.5L1063.0 998.6L1064.6 998.6L1066.2 998.7L1067.7 998.8L1069.3 998.9L1070.9 999.0L1072.4 999.1L1074.0 999.3L1075.6 999.5L1077.1 999.6L1078.7 999.8L1080.3 1000.0L1081.8 1000.2L1083.4 1000.4L1085.0 1000.6L1086.5 1000.7L1088.1 1000.8L1089.6 1000.9L1091.2 1001.0L1092.8 1001.1L1094.3 1001.2L1095.9 1001.3L1097.5 1001.4L1099.0 1001.5L1100.6 1001.6L1102.2 1001.6L1102.8 1001.6L1102.8 1006.1L1102.2 1006.1L1100.6 1006.1L1099.0 1006.0L1097.5 1006.0L1095.9 1006.0L1094.3 1005.9L1092.8 1005.8L1091.2 1005.8L1089.6 1005.7L1088.1 1005.6L1086.5 1005.6L1085.0 1005.5L1083.4 1005.3L1081.8 1005.2L1080.3 1005.0L1078.7 1004.9L1077.1 1004.7L1075.6 1004.6L1074.0 1004.4L1072.4 1004.3L1070.9 1004.2L1069.3 1004.1L1067.7 1004.1L1066.2 1004.0L1064.6 1004.0L1063.0 1003.9L1061.5 1003.8L1059.9 1003.8L1058.3 1003.7L1056.8 1003.5L1055.2 1003.4L1053.7 1003.2L1052.1 1003.0L1050.5 1002.7L1049.0 1002.5L1047.4 1002.3L1045.8 1002.0L1044.3 1001.8L1042.7 1001.6L1041.1 1001.4L1039.6 1001.2L1038.0 1001.1L1036.4 1000.9L1034.9 1000.8L1033.3 1000.7L1031.7 1000.6L1030.2 1000.6L1028.6 1000.6L1027.0 1000.6L1025.5 1000.7L1023.9 1000.7L1022.4 1000.7L1020.8 1000.8L1019.2 1000.7L1017.7 1000.7L1016.1 1000.5L1014.5 1000.3L1013.0 999.9L1011.4 999.3L1009.8 998.5L1008.3 997.4L1006.7 996.0L1005.1 994.3L1003.6 992.3L1002.0 990.0L1000.4 987.2L998.9 984.1L997.3 980.6L995.7 976.8L994.2 972.8L992.6 968.7L991.1 964.6L989.5 960.4L987.9 955.9L986.4 950.9L984.8 945.7L983.2 940.8L981.7 936.9L980.1 934.1L978.5 932.0L977.0 930.4L975.4 929.3L973.8 928.8L972.3 928.3L970.7 927.7L969.1 928.3L967.6 931.4L966.0 937.2L964.4 943.9L962.9 951.0L961.3 958.3L959.8 965.5L958.2 972.0L956.6 978.0L955.1 983.3L953.5 987.9L951.9 991.8L950.4 995.2L948.8 998.1L947.2 1000.4L945.7 1002.2L944.1 1003.8L942.5 1004.9L941.0 1005.7L939.4 1006.1L937.8 1006.4L936.3 1006.6L934.7 1006.8L933.1 1007.0L931.6 1007L930.0 1007L928.5 1007L926.9 1007L925.3 1007L923.8 1007L922.2 1007L920.6 1007L919.1 1007L917.5 1007L915.9 1007L914.4 1007L912.8 1007L911.2 1007L909.7 1007L908.1 1007L906.5 1007L905.0 1007L903.4 1007L901.8 1007L900.3 1007L898.7 1007L897.2 1007L895.6 1007L894.0 1007L892.5 1007L890.9 1007L889.3 1007L887.8 1007L886.2 1007L884.6 1007L883.1 1007L881.5 1007L879.9 1007L878.4 1007L876.8 1007L875.2 1007L873.7 1007L872.1 1007L870.5 1007L869.0 1007L867.4 1007L865.9 1007L864.3 1007L862.7 1007L861.2 1007L859.6 1007L858.0 1007Z" fill="#b6b6b6"/>
<path d="M858.0 1006.4L859.6 1006.8L861.2 1005.9L862.7 1007.0L864.3 1005.5L865.9 1006.5L867.4 1006.7L869.0 1006.0L870.5 1005.5L872.1 1006.8L873.7 1006.0L875.2 1006.9L876.8 1006.9L878.4 1006.4L879.9 1006.4L881.5 1007.0L883.1 1006.6L884.6 1005.8L886.2 1006.5L887.8 1006.7L889.3 1006.5L890.9 1006.5L892.5 1006.2L894.0 1006.3L895.6 1005.8L897.2 1005.4L898.7 1007.0L900.3 1005.9L901.8 1006.4L903.4 1005.4L905.0 1006.3L906.5 1005.7L908.1 1008.0L909.7 1005.6L911.2 1005.6L912.8 1006.7L914.4 1006.8L915.9 1004.9L917.5 1006.2L919.1 1006.5L920.6 1005.2L922.2 1006.3L923.8 1005.4L925.3 1005.0L926.9 1005.3L928.5 1005.1L930.0 1004.4L931.6 1006.4L933.1 1004.6L934.7 1004.2L936.3 1004.9L937.8 1004.1L939.4 1004.6L941.0 1003.2L942.5 1002.8L944.1 1001.5L945.7 1000.0L947.2 997.6L948.8 994.8L950.4 992.2L951.9 986.3L953.5 981.2L955.1 975.5L956.6 968.2L958.2 959.2L959.8 951.6L961.3 943.7L962.9 938.9L964.4 933.3L966.0 929.3L967.6 927.5L969.1 925.2L970.7 926.9L972.3 927.9L973.8 928.0L975.4 929.8L977.0 932.4L978.5 933.3L980.1 936.3L981.7 938.7L983.2 942.1L984.8 946.7L986.4 952.1L987.9 964.0L989.5 978.1L991.1 973.6L992.6 969.2L994.2 972.9L995.7 977.1L997.3 981.8L998.9 984.6L1000.4 987.4L1002.0 991.9L1003.6 992.4L1005.1 995.8L1006.7 996.2L1008.3 998.5L1009.8 999.5L1011.4 1000.0L1013.0 999.3L1014.5 1000.6L1016.1 1000.5L1017.7 999.9L1019.2 1000.5L1020.8 1001.1L1022.4 1000.1L1023.9 1000.6L1025.5 999.8L1027.0 1000.7L1028.6 1000.8L1030.2 1001.9L1031.7 1001.1L1033.3 1000.9L1034.9 1001.6L1036.4 1000.3L1038.0 1001.7L1039.6 1000.9L1041.1 1001.1L1042.7 1002.3L1044.3 1002.0L1045.8 1002.8L1047.4 1001.3L1049.0 1002.6L1050.5 1002.3L1052.1 1002.7L1053.7 1001.9L1055.2 1003.7L1056.8 1003.5L1058.3 1002.9L1059.9 1002.7L1061.5 1003.1L1063.0 1004.5L1064.6 1003.7L1066.2 1003.6L1067.7 1004.1L1069.3 1003.9L1070.9 1004.1L1072.4 1004.6L1074.0 1004.4L1075.6 1004.9L1077.1 1003.9L1078.7 1004.8L1080.3 1004.7L1081.8 1005.1L1083.4 1005.2L1085.0 1005.0L1086.5 1005.3L1088.1 1006.1L1089.6 1005.3L1091.2 1005.0L1092.8 1006.1L1094.3 1006.4L1095.9 1005.8L1097.5 1006.0L1099.0 1005.5L1100.6 1005.9L1102.2 1006.7L1102.8 1006.6" fill="none" stroke="#138374" stroke-width="2.1" stroke-linejoin="round"/>
<path d="M858.0 1006.6L859.6 1006.3L861.2 1005.5L862.7 1006.7L864.3 1006.7L865.9 1007.1L867.4 1007.6L869.0 1006.7L870.5 1007.0L872.1 1005.8L873.7 1007.1L875.2 1006.9L876.8 1007.2L878.4 1006.8L879.9 1006.7L881.5 1007.3L883.1 1006.0L884.6 1006.8L886.2 1007.0L887.8 1005.9L889.3 1005.7L890.9 1006.6L892.5 1006.4L894.0 1006.7L895.6 1006.7L897.2 1005.9L898.7 1006.5L900.3 1007.0L901.8 1006.1L903.4 1006.1L905.0 1005.6L906.5 1006.7L908.1 1007.4L909.7 1005.4L911.2 1006.7L912.8 1006.7L914.4 1005.8L915.9 1005.9L917.5 1005.5L919.1 1005.6L920.6 1006.1L922.2 1006.3L923.8 1005.8L925.3 1006.2L926.9 1005.7L928.5 1004.7L930.0 1006.1L931.6 1005.8L933.1 1004.5L934.7 1005.7L936.3 1004.7L937.8 1004.3L939.4 1005.0L941.0 1002.0L942.5 1001.7L944.1 1001.9L945.7 999.8L947.2 997.4L948.8 996.5L950.4 993.1L951.9 988.6L953.5 985.0L955.1 981.2L956.6 976.4L958.2 968.2L959.8 962.9L961.3 955.4L962.9 947.2L964.4 940.9L966.0 933.4L967.6 928.2L969.1 925.2L970.7 921.8L972.3 915.9L973.8 911.5L975.4 912.3L977.0 915.1L978.5 916.1L980.1 918.7L981.7 922.4L983.2 925.6L984.8 930.7L986.4 937.0L987.9 942.3L989.5 946.0L991.1 950.7L992.6 956.4L994.2 961.1L995.7 965.2L997.3 970.2L998.9 974.0L1000.4 977.1L1002.0 981.8L1003.6 983.5L1005.1 985.3L1006.7 987.4L1008.3 990.3L1009.8 990.6L1011.4 990.7L1013.0 992.2L1014.5 992.7L1016.1 992.9L1017.7 993.8L1019.2 994.0L1020.8 994.0L1022.4 993.9L1023.9 994.8L1025.5 993.6L1027.0 995.1L1028.6 994.7L1030.2 995.0L1031.7 993.7L1033.3 996.2L1034.9 994.5L1036.4 995.2L1038.0 996.3L1039.6 995.8L1041.1 996.2L1042.7 995.4L1044.3 996.7L1045.8 997.3L1047.4 997.8L1049.0 997.5L1050.5 998.1L1052.1 998.5L1053.7 998.1L1055.2 998.2L1056.8 1000.0L1058.3 998.5L1059.9 999.9L1061.5 999.3L1063.0 1000.2L1064.6 999.1L1066.2 999.8L1067.7 999.8L1069.3 999.6L1070.9 1000.0L1072.4 999.5L1074.0 1000.0L1075.6 1000.0L1077.1 1000.9L1078.7 1000.6L1080.3 1000.0L1081.8 1000.8L1083.4 1001.2L1085.0 1000.8L1086.5 1002.3L1088.1 1001.9L1089.6 1002.2L1091.2 1001.4L1092.8 1001.7L1094.3 1002.6L1095.9 1001.3L1097.5 1002.4L1099.0 1002.3L1100.6 1002.1L1102.2 1002.5L1102.8 1001.8" fill="none" stroke="#7b3f98" stroke-width="2.1" stroke-linejoin="round"/>
<path d="M858.0 1006.6L859.6 1005.8L861.2 1005.8L862.7 1007.3L864.3 1006.1L865.9 1005.2L867.4 1007.1L869.0 1006.0L870.5 1004.4L872.1 1006.4L873.7 1007.0L875.2 1006.7L876.8 1007.5L878.4 1006.4L879.9 1006.8L881.5 1005.8L883.1 1006.5L884.6 1007.3L886.2 1006.7L887.8 1006.5L889.3 1005.2L890.9 1006.2L892.5 1005.6L894.0 1006.8L895.6 1005.9L897.2 1006.6L898.7 1005.7L900.3 1007.4L901.8 1005.6L903.4 1006.4L905.0 1007.8L906.5 1006.4L908.1 1005.8L909.7 1006.6L911.2 1006.8L912.8 1006.7L914.4 1005.0L915.9 1006.3L917.5 1004.9L919.1 1007.2L920.6 1006.0L922.2 1005.6L923.8 1006.2L925.3 1006.0L926.9 1004.9L928.5 1006.4L930.0 1005.1L931.6 1004.0L933.1 1005.7L934.7 1005.6L936.3 1005.2L937.8 1004.5L939.4 1003.4L941.0 1004.0L942.5 1003.8L944.1 1002.0L945.7 1000.9L947.2 997.5L948.8 996.3L950.4 993.4L951.9 988.5L953.5 984.4L955.1 980.3L956.6 975.4L958.2 969.7L959.8 962.6L961.3 955.6L962.9 948.2L964.4 941.1L966.0 934.7L967.6 928.8L969.1 924.2L970.7 921.7L972.3 919.5L973.8 911.2L975.4 904.0L977.0 914.0L978.5 920.6L980.1 922.7L981.7 924.8L983.2 928.9L984.8 934.1L986.4 939.2L987.9 944.0L989.5 948.6L991.1 954.2L992.6 959.1L994.2 964.2L995.7 969.3L997.3 972.6L998.9 975.4L1000.4 979.9L1002.0 981.9L1003.6 984.8L1005.1 988.4L1006.7 990.0L1008.3 990.9L1009.8 992.2L1011.4 993.5L1013.0 993.2L1014.5 995.1L1016.1 995.0L1017.7 996.7L1019.2 995.2L1020.8 996.6L1022.4 995.8L1023.9 996.9L1025.5 995.9L1027.0 997.0L1028.6 996.4L1030.2 996.4L1031.7 996.9L1033.3 997.5L1034.9 997.7L1036.4 998.6L1038.0 998.4L1039.6 996.6L1041.1 998.2L1042.7 997.5L1044.3 998.7L1045.8 999.5L1047.4 998.6L1049.0 999.0L1050.5 1000.0L1052.1 1000.0L1053.7 1001.3L1055.2 1000.8L1056.8 1001.1L1058.3 1002.0L1059.9 1000.8L1061.5 1001.2L1063.0 1000.6L1064.6 1001.5L1066.2 1002.0L1067.7 1002.3L1069.3 1001.5L1070.9 1001.2L1072.4 1001.3L1074.0 1001.0L1075.6 1002.1L1077.1 1003.0L1078.7 1000.9L1080.3 1001.2L1081.8 1003.5L1083.4 1001.9L1085.0 1003.2L1086.5 1002.3L1088.1 1003.6L1089.6 1003.7L1091.2 1003.4L1092.8 1003.9L1094.3 1003.5L1095.9 1003.9L1097.5 1004.7L1099.0 1004.3L1100.6 1003.3L1102.2 1003.2L1102.8 1003.6" fill="none" stroke="#cc2590" stroke-width="2.1" stroke-linejoin="round"/>
<defs><path id="ro" d="M858.0 1006.4L859.6 1006.5L861.2 1006.3L862.7 1006.7L864.3 1006.5L865.9 1006.6L867.4 1006.5L869.0 1006.7L870.5 1006.1L872.1 1007.0L873.7 1006.6L875.2 1006.6L876.8 1006.7L878.4 1006.8L879.9 1006.7L881.5 1006.5L883.1 1006.4L884.6 1005.8L886.2 1006.5L887.8 1006.3L889.3 1006.3L890.9 1007.2L892.5 1005.7L894.0 1006.4L895.6 1006.8L897.2 1006.7L898.7 1006.8L900.3 1005.9L901.8 1006.0L903.4 1006.5L905.0 1006.2L906.5 1006.9L908.1 1006.4L909.7 1006.3L911.2 1006.4L912.8 1006.1L914.4 1006.2L915.9 1005.9L917.5 1006.1L919.1 1005.9L920.6 1006.1L922.2 1005.4L923.8 1005.3L925.3 1005.8L926.9 1005.6L928.5 1005.1L930.0 1005.2L931.6 1004.7L933.1 1005.6L934.7 1004.1L936.3 1005.1L937.8 1003.9L939.4 1004.0L941.0 1003.3L942.5 1002.5L944.1 1001.8L945.7 1000.2L947.2 997.9L948.8 995.4L950.4 993.5L951.9 989.9L953.5 985.4L955.1 980.6L956.6 975.5L958.2 969.4L959.8 963.2L961.3 955.3L962.9 948.3L964.4 940.8L966.0 934.8L967.6 929.2L969.1 924.2L970.7 921.7L972.3 920.4L973.8 918.9L975.4 918.5L977.0 919.8L978.5 920.8L980.1 922.4L981.7 925.7L983.2 929.2L984.8 933.3L986.4 939.4L987.9 944.4L989.5 950.0L991.1 954.2L992.6 958.9L994.2 964.0L995.7 968.6L997.3 972.3L998.9 976.7L1000.4 979.9L1002.0 983.5L1003.6 986.4L1005.1 987.4L1006.7 989.3L1008.3 991.0L1009.8 992.3L1011.4 993.3L1013.0 994.3L1014.5 995.2L1016.1 994.8L1017.7 995.0L1019.2 995.2L1020.8 996.4L1022.4 996.6L1023.9 995.8L1025.5 995.9L1027.0 996.6L1028.6 997.1L1030.2 997.2L1031.7 997.1L1033.3 997.4L1034.9 997.5L1036.4 997.5L1038.0 998.6L1039.6 998.2L1041.1 998.0L1042.7 998.5L1044.3 998.4L1045.8 999.2L1047.4 999.8L1049.0 999.2L1050.5 1000.3L1052.1 1000.9L1053.7 1000.5L1055.2 1000.2L1056.8 1000.5L1058.3 1000.8L1059.9 1000.6L1061.5 1000.7L1063.0 1001.1L1064.6 1001.2L1066.2 1001.6L1067.7 1001.0L1069.3 1002.2L1070.9 1002.0L1072.4 1002.0L1074.0 1001.6L1075.6 1002.6L1077.1 1002.0L1078.7 1003.0L1080.3 1002.9L1081.8 1002.4L1083.4 1002.7L1085.0 1003.6L1086.5 1003.4L1088.1 1003.1L1089.6 1003.3L1091.2 1003.4L1092.8 1003.1L1094.3 1003.4L1095.9 1003.3L1097.5 1003.4L1099.0 1003.8L1100.6 1003.3L1102.2 1003.9L1102.8 1003.7"/></defs>
<use href="#ro" fill="none" stroke="#ab0f34" stroke-opacity="0.35" stroke-width="6.5" stroke-linejoin="round"/>
<use href="#ro" fill="none" stroke="#ab0f34" stroke-width="4.3" stroke-linejoin="round"/>
<text transform="matrix(0.965 0 0 1 844.8 1014.9)" font-size="33.5" text-anchor="end">0</text>
<text transform="matrix(0.965 0 0 1 844.8 967.3)" font-size="33.5" text-anchor="end">0.5</text>
<text transform="matrix(0.965 0 0 1 844.8 918.5)" font-size="33.5" text-anchor="end">1.0</text>
<text transform="matrix(0.965 0 0 1 844.8 869.7)" font-size="33.5" text-anchor="end">1.5</text>
<text transform="matrix(0.965 0 0 1 905.9 1040.4)" font-size="33.5" text-anchor="middle">−20</text>
<text transform="matrix(0.965 0 0 1 973.2 1040.4)" font-size="33.5" text-anchor="middle">0</text>
<text transform="matrix(0.965 0 0 1 1035.8 1040.4)" font-size="33.5" text-anchor="middle">20</text>
<text transform="matrix(0.965 0 0 1 1097.2 1040.4)" font-size="33.5" text-anchor="middle">40</text>
<text transform="matrix(0.95 0 0 1 979.6 839.6)" font-size="34.3" text-anchor="middle">Exp 15</text>
<text x="751.2" y="839.2" class="pl">(<tspan font-style="italic">o</tspan><tspan dx="-3.1">)</tspan></text>
<path d="M1223.4 859.4V1007H1469.7" fill="none" stroke="#1e1e1e" stroke-width="1.8"/>
<path d="M1223.4 958.2h4M1223.4 909.4h4M1223.4 860.6h4M1278.2 1007v-4.3M1339.8 1007v-4.3M1401.4 1007v-4.3M1463 1007v-4.3" stroke="#1e1e1e" stroke-width="1.8"/>
<path d="M1224.0 1005.0L1225.6 1005.0L1227.1 1005.0L1228.6 1005.0L1230.2 1005.0L1231.7 1005.0L1233.3 1005.0L1234.8 1005.0L1236.3 1005.0L1237.9 1005.0L1239.4 1005.0L1241.0 1005.0L1242.5 1005.0L1244.0 1004.9L1245.6 1004.9L1247.1 1004.9L1248.7 1004.9L1250.2 1004.9L1251.7 1004.9L1253.3 1004.9L1254.8 1004.9L1256.4 1004.9L1257.9 1004.9L1259.4 1004.9L1261.0 1004.8L1262.5 1004.8L1264.1 1004.8L1265.6 1004.8L1267.1 1004.8L1268.7 1004.8L1270.2 1004.8L1271.8 1004.8L1273.3 1004.7L1274.8 1004.7L1276.4 1004.7L1277.9 1004.7L1279.5 1004.7L1281.0 1004.7L1282.5 1004.6L1284.1 1004.6L1285.6 1004.6L1287.2 1004.5L1288.7 1004.5L1290.2 1004.4L1291.8 1004.4L1293.3 1004.3L1294.9 1004.2L1296.4 1004.2L1297.9 1004.1L1299.5 1004.0L1301.0 1003.9L1302.6 1003.7L1304.1 1003.6L1305.6 1003.4L1307.2 1003.0L1308.7 1002.4L1310.3 1001.6L1311.8 1000.5L1313.3 999.1L1314.9 997.3L1316.4 995.0L1318.0 991.9L1319.5 988.1L1321.0 983.3L1322.6 977.7L1324.1 971.3L1325.7 964.2L1327.2 956.7L1328.7 949.1L1330.3 941.6L1331.8 934.6L1333.4 928.9L1334.9 924.8L1336.4 922.2L1338.0 920.5L1339.5 919.7L1341.1 919.9L1342.6 920.9L1344.1 922.7L1345.7 925.1L1347.2 928.2L1348.8 932.0L1350.3 936.4L1351.8 941.1L1353.4 945.8L1354.9 950.6L1356.5 955.5L1358.0 960.5L1359.5 965.4L1361.1 970.2L1362.6 974.7L1364.2 978.6L1365.7 982.1L1367.2 985.2L1368.8 987.9L1370.3 990.2L1371.9 992.2L1373.4 993.8L1374.9 994.9L1376.5 995.6L1378.0 995.9L1379.6 996.1L1381.1 996.1L1382.6 996.2L1384.2 996.3L1385.7 996.3L1387.3 996.4L1388.8 996.4L1390.3 996.4L1391.9 996.4L1393.4 996.5L1395.0 996.5L1396.5 996.6L1398.0 996.7L1399.6 996.9L1401.1 997.0L1402.7 997.3L1404.2 997.5L1405.7 997.7L1407.3 998.0L1408.8 998.2L1410.4 998.5L1411.9 998.7L1413.4 999.0L1415.0 999.2L1416.5 999.5L1418.1 999.8L1419.6 1000.0L1421.1 1000.2L1422.7 1000.4L1424.2 1000.5L1425.8 1000.6L1427.3 1000.7L1428.8 1000.8L1430.4 1000.9L1431.9 1001.0L1433.5 1001.1L1435.0 1001.1L1436.5 1001.1L1438.1 1001.1L1439.6 1001.1L1441.2 1001.1L1442.7 1001.1L1444.2 1001.1L1445.8 1001.1L1447.3 1001.1L1448.9 1001.1L1450.4 1001.1L1451.9 1001.2L1453.5 1001.2L1455.0 1001.2L1456.6 1001.2L1458.1 1001.3L1459.6 1001.3L1461.2 1001.4L1462.7 1001.4L1464.3 1001.5L1465.8 1001.5L1467.3 1001.5L1468.9 1001.5L1468.8 1001.5L1468.8 1007L1468.9 1007L1467.3 1007L1465.8 1007L1464.3 1007L1462.7 1007L1461.2 1007L1459.6 1007L1458.1 1007L1456.6 1007L1455.0 1007L1453.5 1007L1451.9 1007L1450.4 1007L1448.9 1007L1447.3 1007L1445.8 1007L1444.2 1007L1442.7 1007L1441.2 1007L1439.6 1007L1438.1 1007L1436.5 1007L1435.0 1007L1433.5 1007L1431.9 1007L1430.4 1007L1428.8 1007L1427.3 1007L1425.8 1007L1424.2 1007L1422.7 1006.9L1421.1 1006.7L1419.6 1006.6L1418.1 1006.3L1416.5 1006.1L1415.0 1005.8L1413.4 1005.6L1411.9 1005.3L1410.4 1005.1L1408.8 1004.8L1407.3 1004.6L1405.7 1004.4L1404.2 1004.1L1402.7 1003.9L1401.1 1003.6L1399.6 1003.4L1398.0 1003.3L1396.5 1003.1L1395.0 1003.0L1393.4 1002.9L1391.9 1002.9L1390.3 1002.8L1388.8 1002.7L1387.3 1002.7L1385.7 1002.6L1384.2 1002.5L1382.6 1002.3L1381.1 1002.2L1379.6 1001.9L1378.0 1001.5L1376.5 1000.9L1374.9 999.6L1373.4 997.6L1371.9 995.7L1370.3 993.6L1368.8 991.3L1367.2 988.6L1365.7 985.5L1364.2 982.0L1362.6 978.0L1361.1 973.6L1359.5 968.8L1358.0 963.8L1356.5 958.8L1354.9 953.9L1353.4 949.1L1351.8 944.4L1350.3 939.6L1348.8 935.2L1347.2 931.4L1345.7 928.4L1344.1 926.0L1342.6 924.2L1341.1 923.1L1339.5 922.9L1338.0 923.7L1336.4 925.4L1334.9 928.0L1333.4 932.1L1331.8 937.8L1330.3 944.7L1328.7 952.2L1327.2 959.9L1325.7 967.4L1324.1 974.4L1322.6 980.8L1321.0 986.4L1319.5 991.2L1318.0 995.0L1316.4 998.1L1314.9 1000.4L1313.3 1002.2L1311.8 1003.6L1310.3 1004.7L1308.7 1005.5L1307.2 1006.1L1305.6 1006.4L1304.1 1006.6L1302.6 1006.8L1301.0 1006.9L1299.5 1007L1297.9 1007L1296.4 1007L1294.9 1007L1293.3 1007L1291.8 1007L1290.2 1007L1288.7 1007L1287.2 1007L1285.6 1007L1284.1 1007L1282.5 1007L1281.0 1007L1279.5 1007L1277.9 1007L1276.4 1007L1274.8 1007L1273.3 1007L1271.8 1007L1270.2 1007L1268.7 1007L1267.1 1007L1265.6 1007L1264.1 1007L1262.5 1007L1261.0 1007L1259.4 1007L1257.9 1007L1256.4 1007L1254.8 1007L1253.3 1007L1251.7 1007L1250.2 1007L1248.7 1007L1247.1 1007L1245.6 1007L1244.0 1007L1242.5 1007L1241.0 1007L1239.4 1007L1237.9 1007L1236.3 1007L1234.8 1007L1233.3 1007L1231.7 1007L1230.2 1007L1228.6 1007L1227.1 1007L1225.6 1007L1224.0 1007Z" fill="#b6b6b6"/>
<path d="M1224.0 1007.0L1225.6 1007.1L1227.1 1007.3L1228.6 1006.9L1230.2 1007.0L1231.7 1006.4L1233.3 1006.9L1234.8 1006.0L1236.3 1006.4L1237.9 1007.0L1239.4 1006.5L1241.0 1006.8L1242.5 1005.9L1244.0 1007.3L1245.6 1006.1L1247.1 1006.7L1248.7 1006.4L1250.2 1007.0L1251.7 1006.2L1253.3 1005.8L1254.8 1005.3L1256.4 1006.2L1257.9 1005.7L1259.4 1006.7L1261.0 1007.3L1262.5 1005.0L1264.1 1005.6L1265.6 1006.6L1267.1 1007.1L1268.7 1006.5L1270.2 1006.5L1271.8 1006.6L1273.3 1006.7L1274.8 1007.3L1276.4 1006.7L1277.9 1005.5L1279.5 1006.0L1281.0 1006.4L1282.5 1005.7L1284.1 1006.0L1285.6 1005.9L1287.2 1005.7L1288.7 1006.5L1290.2 1005.8L1291.8 1005.3L1293.3 1005.5L1294.9 1005.9L1296.4 1007.1L1297.9 1005.9L1299.5 1006.5L1301.0 1005.8L1302.6 1004.1L1304.1 1005.5L1305.6 1004.5L1307.2 1003.8L1308.7 1003.4L1310.3 1004.3L1311.8 1001.2L1313.3 1000.4L1314.9 999.7L1316.4 997.0L1318.0 992.6L1319.5 989.7L1321.0 984.7L1322.6 979.3L1324.1 973.5L1325.7 965.6L1327.2 958.3L1328.7 951.7L1330.3 942.2L1331.8 936.1L1333.4 930.9L1334.9 925.8L1336.4 923.6L1338.0 921.5L1339.5 921.6L1341.1 921.3L1342.6 923.2L1344.1 925.2L1345.7 927.0L1347.2 929.8L1348.8 934.0L1350.3 938.3L1351.8 942.2L1353.4 948.4L1354.9 952.7L1356.5 957.9L1358.0 961.5L1359.5 967.9L1361.1 973.5L1362.6 977.0L1364.2 979.7L1365.7 984.1L1367.2 987.1L1368.8 990.0L1370.3 992.1L1371.9 994.6L1373.4 995.7L1374.9 997.5L1376.5 997.8L1378.0 998.9L1379.6 999.8L1381.1 999.2L1382.6 1000.1L1384.2 999.3L1385.7 999.7L1387.3 999.8L1388.8 1000.8L1390.3 999.7L1391.9 1000.9L1393.4 999.4L1395.0 1000.2L1396.5 1001.0L1398.0 1001.0L1399.6 1000.1L1401.1 1000.2L1402.7 1001.7L1404.2 1000.7L1405.7 1002.0L1407.3 1001.6L1408.8 1002.2L1410.4 1003.8L1411.9 1003.6L1413.4 1003.4L1415.0 1002.4L1416.5 1003.7L1418.1 1003.7L1419.6 1003.9L1421.1 1005.0L1422.7 1003.3L1424.2 1004.6L1425.8 1004.7L1427.3 1004.2L1428.8 1005.8L1430.4 1004.1L1431.9 1005.0L1433.5 1005.1L1435.0 1003.7L1436.5 1004.2L1438.1 1004.5L1439.6 1005.6L1441.2 1005.7L1442.7 1005.5L1444.2 1005.2L1445.8 1003.8L1447.3 1005.2L1448.9 1004.8L1450.4 1005.8L1451.9 1005.9L1453.5 1006.5L1455.0 1005.6L1456.6 1005.7L1458.1 1004.6L1459.6 1005.3L1461.2 1004.6L1462.7 1005.9L1464.3 1004.7L1465.8 1005.3L1467.3 1005.0L1468.9 1005.2L1468.8 1005.8" fill="none" stroke="#138374" stroke-width="2.1" stroke-linejoin="round"/>
<path d="M1224.0 1006.2L1225.6 1006.7L1227.1 1005.9L1228.6 1007.4L1230.2 1006.1L1231.7 1007.1L1233.3 1007.8L1234.8 1005.0L1236.3 1005.9L1237.9 1006.4L1239.4 1007.2L1241.0 1006.2L1242.5 1006.7L1244.0 1006.0L1245.6 1006.8L1247.1 1005.7L1248.7 1007.0L1250.2 1004.6L1251.7 1005.3L1253.3 1007.5L1254.8 1006.5L1256.4 1005.9L1257.9 1007.7L1259.4 1007.0L1261.0 1007.1L1262.5 1006.1L1264.1 1006.7L1265.6 1006.7L1267.1 1005.3L1268.7 1006.7L1270.2 1006.2L1271.8 1007.1L1273.3 1007.1L1274.8 1005.9L1276.4 1005.9L1277.9 1006.4L1279.5 1006.6L1281.0 1006.0L1282.5 1006.1L1284.1 1006.6L1285.6 1006.4L1287.2 1006.8L1288.7 1006.2L1290.2 1005.5L1291.8 1004.9L1293.3 1006.4L1294.9 1005.6L1296.4 1005.6L1297.9 1005.5L1299.5 1004.6L1301.0 1005.2L1302.6 1003.8L1304.1 1005.0L1305.6 1004.5L1307.2 1005.8L1308.7 1004.3L1310.3 1003.1L1311.8 1002.3L1313.3 1001.2L1314.9 998.5L1316.4 996.5L1318.0 993.4L1319.5 991.3L1321.0 985.1L1322.6 978.2L1324.1 973.5L1325.7 967.5L1327.2 957.9L1328.7 953.0L1330.3 943.3L1331.8 937.0L1333.4 930.3L1334.9 926.4L1336.4 923.2L1338.0 921.6L1339.5 920.2L1341.1 922.4L1342.6 922.0L1344.1 924.8L1345.7 927.1L1347.2 929.6L1348.8 933.8L1350.3 938.2L1351.8 942.6L1353.4 947.7L1354.9 952.5L1356.5 956.8L1358.0 961.6L1359.5 966.8L1361.1 972.2L1362.6 977.5L1364.2 981.5L1365.7 984.3L1367.2 987.7L1368.8 989.9L1370.3 992.9L1371.9 994.6L1373.4 997.1L1374.9 998.7L1376.5 1000.2L1378.0 1001.9L1379.6 1000.4L1381.1 1001.4L1382.6 1001.2L1384.2 1002.3L1385.7 1003.0L1387.3 1001.7L1388.8 1000.3L1390.3 1002.4L1391.9 1002.5L1393.4 1001.1L1395.0 1002.1L1396.5 1002.3L1398.0 1001.1L1399.6 1003.1L1401.1 1003.2L1402.7 1003.3L1404.2 1002.7L1405.7 1003.2L1407.3 1003.5L1408.8 1004.4L1410.4 1003.7L1411.9 1005.5L1413.4 1005.1L1415.0 1003.7L1416.5 1006.4L1418.1 1005.7L1419.6 1005.5L1421.1 1006.1L1422.7 1005.0L1424.2 1006.4L1425.8 1004.9L1427.3 1005.9L1428.8 1007.4L1430.4 1007.4L1431.9 1006.4L1433.5 1006.0L1435.0 1007.2L1436.5 1006.6L1438.1 1006.8L1439.6 1007.0L1441.2 1006.0L1442.7 1007.1L1444.2 1005.3L1445.8 1007.6L1447.3 1005.7L1448.9 1006.2L1450.4 1006.2L1451.9 1007.0L1453.5 1007.0L1455.0 1006.8L1456.6 1006.9L1458.1 1006.9L1459.6 1006.6L1461.2 1005.4L1462.7 1005.2L1464.3 1005.2L1465.8 1006.6L1467.3 1006.5L1468.9 1006.5L1468.8 1006.8" fill="none" stroke="#7b3f98" stroke-width="2.1" stroke-linejoin="round"/>
<path d="M1224.0 1006.4L1225.6 1005.9L1227.1 1005.6L1228.6 1005.3L1230.2 1007.3L1231.7 1007.1L1233.3 1005.6L1234.8 1006.3L1236.3 1006.8L1237.9 1007.5L1239.4 1006.1L1241.0 1006.6L1242.5 1007.2L1244.0 1005.4L1245.6 1006.0L1247.1 1006.4L1248.7 1006.0L1250.2 1007.7L1251.7 1007.0L1253.3 1006.5L1254.8 1005.8L1256.4 1006.9L1257.9 1006.8L1259.4 1006.0L1261.0 1006.1L1262.5 1005.4L1264.1 1006.3L1265.6 1006.9L1267.1 1006.9L1268.7 1006.7L1270.2 1006.8L1271.8 1005.9L1273.3 1006.0L1274.8 1007.0L1276.4 1006.5L1277.9 1005.7L1279.5 1006.5L1281.0 1006.7L1282.5 1006.6L1284.1 1006.2L1285.6 1005.8L1287.2 1006.3L1288.7 1007.1L1290.2 1006.1L1291.8 1005.5L1293.3 1006.1L1294.9 1005.1L1296.4 1005.9L1297.9 1005.5L1299.5 1006.2L1301.0 1005.5L1302.6 1006.0L1304.1 1006.6L1305.6 1004.8L1307.2 1004.1L1308.7 1004.3L1310.3 1003.2L1311.8 1002.2L1313.3 1000.4L1314.9 999.3L1316.4 996.7L1318.0 992.2L1319.5 989.6L1321.0 985.2L1322.6 980.1L1324.1 972.6L1325.7 965.4L1327.2 959.1L1328.7 950.4L1330.3 943.3L1331.8 936.6L1333.4 931.1L1334.9 926.6L1336.4 923.2L1338.0 922.9L1339.5 921.2L1341.1 921.3L1342.6 924.0L1344.1 925.1L1345.7 926.3L1347.2 929.7L1348.8 933.6L1350.3 937.7L1351.8 941.7L1353.4 948.2L1354.9 953.0L1356.5 957.5L1358.0 962.1L1359.5 967.4L1361.1 972.5L1362.6 975.9L1364.2 980.3L1365.7 983.7L1367.2 987.6L1368.8 990.0L1370.3 991.4L1371.9 993.9L1373.4 997.1L1374.9 996.7L1376.5 998.3L1378.0 998.4L1379.6 999.9L1381.1 999.4L1382.6 999.4L1384.2 999.0L1385.7 999.7L1387.3 1000.5L1388.8 1000.4L1390.3 999.3L1391.9 1001.1L1393.4 1000.1L1395.0 999.6L1396.5 1000.5L1398.0 1000.2L1399.6 1000.4L1401.1 1000.5L1402.7 1001.1L1404.2 1001.1L1405.7 1000.6L1407.3 1002.2L1408.8 1001.8L1410.4 1003.1L1411.9 1003.0L1413.4 1003.3L1415.0 1003.3L1416.5 1004.2L1418.1 1003.5L1419.6 1003.3L1421.1 1004.3L1422.7 1002.6L1424.2 1004.2L1425.8 1004.7L1427.3 1004.4L1428.8 1005.5L1430.4 1005.3L1431.9 1005.0L1433.5 1004.7L1435.0 1005.7L1436.5 1004.6L1438.1 1004.8L1439.6 1005.5L1441.2 1005.4L1442.7 1006.3L1444.2 1004.9L1445.8 1003.9L1447.3 1005.5L1448.9 1005.8L1450.4 1005.0L1451.9 1006.0L1453.5 1006.2L1455.0 1004.7L1456.6 1004.8L1458.1 1004.4L1459.6 1005.6L1461.2 1005.7L1462.7 1005.7L1464.3 1004.6L1465.8 1004.9L1467.3 1004.5L1468.9 1004.4L1468.8 1004.6" fill="none" stroke="#cc2590" stroke-width="2.1" stroke-linejoin="round"/>
<defs><path id="rp" d="M1224.0 1005.9L1225.6 1006.4L1227.1 1006.6L1228.6 1006.7L1230.2 1006.5L1231.7 1006.2L1233.3 1006.5L1234.8 1006.7L1236.3 1006.3L1237.9 1006.5L1239.4 1006.3L1241.0 1006.2L1242.5 1006.4L1244.0 1006.0L1245.6 1006.8L1247.1 1005.8L1248.7 1006.6L1250.2 1005.9L1251.7 1006.9L1253.3 1006.7L1254.8 1006.1L1256.4 1006.2L1257.9 1006.0L1259.4 1006.3L1261.0 1006.5L1262.5 1007.3L1264.1 1005.8L1265.6 1006.8L1267.1 1006.1L1268.7 1006.4L1270.2 1006.6L1271.8 1006.5L1273.3 1006.4L1274.8 1006.2L1276.4 1006.2L1277.9 1006.3L1279.5 1006.6L1281.0 1005.7L1282.5 1006.0L1284.1 1005.7L1285.6 1005.8L1287.2 1005.8L1288.7 1006.4L1290.2 1006.8L1291.8 1006.4L1293.3 1005.4L1294.9 1005.8L1296.4 1005.3L1297.9 1005.8L1299.5 1006.0L1301.0 1005.7L1302.6 1005.6L1304.1 1005.1L1305.6 1004.3L1307.2 1003.9L1308.7 1004.0L1310.3 1003.4L1311.8 1002.6L1313.3 1000.6L1314.9 999.0L1316.4 996.7L1318.0 994.0L1319.5 989.7L1321.0 984.6L1322.6 979.7L1324.1 973.1L1325.7 966.0L1327.2 957.9L1328.7 950.8L1330.3 942.6L1331.8 935.6L1333.4 930.5L1334.9 926.4L1336.4 924.1L1338.0 922.8L1339.5 921.5L1341.1 922.3L1342.6 922.5L1344.1 924.8L1345.7 926.4L1347.2 930.0L1348.8 933.6L1350.3 938.1L1351.8 943.1L1353.4 947.0L1354.9 952.5L1356.5 957.1L1358.0 962.4L1359.5 967.4L1361.1 972.0L1362.6 976.4L1364.2 980.1L1365.7 984.2L1367.2 986.9L1368.8 990.0L1370.3 991.7L1371.9 994.7L1373.4 995.6L1374.9 997.7L1376.5 998.0L1378.0 999.0L1379.6 999.1L1381.1 999.7L1382.6 999.6L1384.2 1000.2L1385.7 1000.1L1387.3 1000.2L1388.8 1000.6L1390.3 999.8L1391.9 1000.6L1393.4 1000.2L1395.0 999.7L1396.5 1000.6L1398.0 1000.5L1399.6 1001.3L1401.1 1000.7L1402.7 1001.2L1404.2 1001.5L1405.7 1000.9L1407.3 1002.1L1408.8 1001.8L1410.4 1002.9L1411.9 1003.2L1413.4 1002.9L1415.0 1002.6L1416.5 1003.5L1418.1 1003.7L1419.6 1004.1L1421.1 1004.0L1422.7 1003.8L1424.2 1004.4L1425.8 1004.2L1427.3 1005.3L1428.8 1004.5L1430.4 1004.6L1431.9 1004.9L1433.5 1004.5L1435.0 1004.8L1436.5 1005.0L1438.1 1004.9L1439.6 1005.0L1441.2 1005.5L1442.7 1005.2L1444.2 1004.6L1445.8 1004.9L1447.3 1005.3L1448.9 1004.8L1450.4 1005.1L1451.9 1005.1L1453.5 1005.3L1455.0 1005.0L1456.6 1005.1L1458.1 1004.9L1459.6 1005.4L1461.2 1004.9L1462.7 1005.9L1464.3 1005.4L1465.8 1005.3L1467.3 1005.7L1468.9 1005.4L1468.8 1005.5"/></defs>
<use href="#rp" fill="none" stroke="#ab0f34" stroke-opacity="0.35" stroke-width="6.5" stroke-linejoin="round"/>
<use href="#rp" fill="none" stroke="#ab0f34" stroke-width="4.3" stroke-linejoin="round"/>
<text transform="matrix(0.965 0 0 1 1209.3 1014.9)" font-size="33.5" text-anchor="end">0</text>
<text transform="matrix(0.965 0 0 1 1209.3 967.3)" font-size="33.5" text-anchor="end">0.5</text>
<text transform="matrix(0.965 0 0 1 1209.3 918.5)" font-size="33.5" text-anchor="end">1.0</text>
<text transform="matrix(0.965 0 0 1 1209.3 869.7)" font-size="33.5" text-anchor="end">1.5</text>
<text transform="matrix(0.965 0 0 1 1273.4 1040.4)" font-size="33.5" text-anchor="middle">−20</text>
<text transform="matrix(0.965 0 0 1 1340.9 1040.4)" font-size="33.5" text-anchor="middle">0</text>
<text transform="matrix(0.965 0 0 1 1403.2 1040.4)" font-size="33.5" text-anchor="middle">20</text>
<text transform="matrix(0.965 0 0 1 1463.5 1040.4)" font-size="33.5" text-anchor="middle">40</text>
<text transform="matrix(0.95 0 0 1 1345.9 839.6)" font-size="34.3" text-anchor="middle">Exp 16</text>
<text x="1108.2" y="837.1" class="pl">(<tspan font-style="italic" dx="6">p</tspan><tspan dx="0.5">)</tspan></text>
<g transform="translate(40.9,157.6) rotate(-90)"><text transform="translate(1.2,0) scale(1.17,1)" x="0" y="0" font-style="italic" font-size="40">X</text><text x="25.4" y="9.5" font-size="30">exp</text><text x="32.3" y="-16" font-size="29">(2)</text></g>
<g transform="translate(40.9,427) rotate(-90)"><text transform="translate(1.2,0) scale(1.17,1)" x="0" y="0" font-style="italic" font-size="40">X</text><text x="25.4" y="9.5" font-size="30">exp</text><text x="32.3" y="-16" font-size="29">(2)</text></g>
<g transform="translate(40.9,697) rotate(-90)"><text transform="translate(1.2,0) scale(1.17,1)" x="0" y="0" font-style="italic" font-size="40">X</text><text x="25.4" y="9.5" font-size="30">exp</text><text x="32.3" y="-16" font-size="29">(2)</text></g>
<g transform="translate(40.9,968.5) rotate(-90)"><text transform="translate(1.2,0) scale(1.17,1)" x="0" y="0" font-style="italic" font-size="40">X</text><text x="25.4" y="9.5" font-size="30">exp</text><text x="32.3" y="-16" font-size="29">(2)</text></g>
<text x="243.2" y="1081" text-anchor="middle" font-size="39"><tspan font-style="italic">t</tspan> (s)</text>
<text x="610.9" y="1081" text-anchor="middle" font-size="39"><tspan font-style="italic">t</tspan> (s)</text>
<text x="979.2" y="1081" text-anchor="middle" font-size="39"><tspan font-style="italic">t</tspan> (s)</text>
<text x="1345.5" y="1081" text-anchor="middle" font-size="39"><tspan font-style="italic">t</tspan> (s)</text>
</svg></body></html>
